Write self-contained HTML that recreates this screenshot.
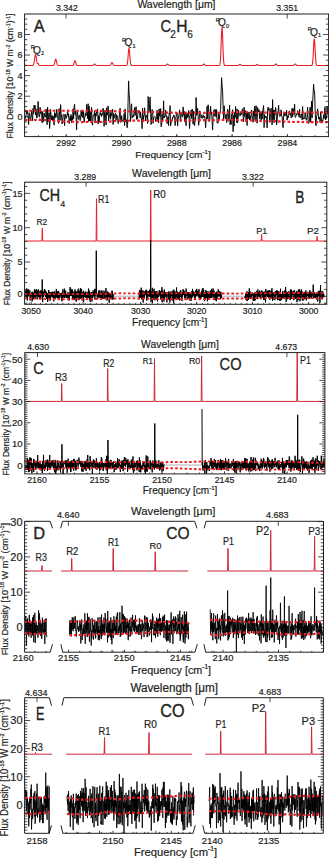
<!DOCTYPE html>
<html><head><meta charset="utf-8"><style>
html,body{margin:0;padding:0;background:#fff;width:329px;height:858px;overflow:hidden}
svg{display:block}
text{font-family:"Liberation Sans",sans-serif;stroke:#231f20;stroke-width:0.2px}
.big{stroke-width:0.35px}
</style></head><body>
<svg xmlns="http://www.w3.org/2000/svg" width="329" height="858" viewBox="0 0 329 858" font-family="Liberation Sans, sans-serif" fill="#231f20">
<rect width="329" height="858" fill="#fff"/>
<clipPath id="cA"><rect x="24.6" y="14" width="304" height="122.6"/></clipPath>
<path d="M24.60,65.50 L24.85,65.50 L25.10,65.50 L25.35,65.50 L25.60,65.50 L25.85,65.50 L26.10,65.50 L26.35,65.50 L26.60,65.50 L26.85,65.50 L27.10,65.50 L27.35,65.50 L27.60,65.50 L27.85,65.50 L28.10,65.50 L28.35,65.50 L28.60,65.50 L28.85,65.50 L29.10,65.50 L29.35,65.50 L29.60,65.50 L29.85,65.50 L30.10,65.50 L30.35,65.50 L30.60,65.50 L30.85,65.50 L31.10,65.50 L31.35,65.50 L31.60,65.50 L31.85,65.50 L32.10,65.49 L32.35,65.48 L32.60,65.44 L32.85,65.36 L33.10,65.19 L33.35,64.87 L33.60,64.32 L33.85,63.45 L34.10,62.22 L34.35,60.64 L34.60,58.83 L34.85,57.03 L35.10,55.53 L35.35,54.65 L35.60,54.57 L35.85,55.30 L36.10,56.69 L36.35,58.44 L36.60,60.24 L36.85,61.79 L37.10,62.90 L37.35,63.51 L37.60,63.69 L37.85,63.62 L38.10,63.56 L38.35,63.68 L38.60,64.03 L38.85,64.49 L39.10,64.91 L39.35,65.21 L39.60,65.38 L39.85,65.46 L40.10,65.49 L40.35,65.50 L40.60,65.50 L40.85,65.50 L41.10,65.50 L41.35,65.50 L41.60,65.50 L41.85,65.50 L42.10,65.50 L42.35,65.50 L42.60,65.50 L42.85,65.50 L43.10,65.50 L43.35,65.50 L43.60,65.50 L43.85,65.50 L44.10,65.50 L44.35,65.50 L44.60,65.50 L44.85,65.50 L45.10,65.50 L45.35,65.50 L45.60,65.50 L45.85,65.50 L46.10,65.50 L46.35,65.50 L46.60,65.50 L46.85,65.50 L47.10,65.50 L47.35,65.50 L47.60,65.50 L47.85,65.50 L48.10,65.50 L48.35,65.50 L48.60,65.50 L48.85,65.50 L49.10,65.50 L49.35,65.50 L49.60,65.50 L49.85,65.50 L50.10,65.50 L50.35,65.50 L50.60,65.50 L50.85,65.50 L51.10,65.50 L51.35,65.50 L51.60,65.50 L51.85,65.50 L52.10,65.50 L52.35,65.50 L52.60,65.50 L52.85,65.49 L53.10,65.47 L53.35,65.41 L53.60,65.29 L53.85,65.05 L54.10,64.62 L54.35,63.93 L54.60,62.97 L54.85,61.80 L55.10,60.59 L55.35,59.59 L55.60,59.05 L55.85,59.11 L56.10,59.76 L56.35,60.83 L56.60,62.05 L56.85,63.19 L57.10,64.09 L57.35,64.73 L57.60,65.11 L57.85,65.32 L58.10,65.43 L58.35,65.47 L58.60,65.49 L58.85,65.50 L59.10,65.50 L59.35,65.50 L59.60,65.50 L59.85,65.50 L60.10,65.50 L60.35,65.50 L60.60,65.50 L60.85,65.50 L61.10,65.50 L61.35,65.50 L61.60,65.50 L61.85,65.50 L62.10,65.50 L62.35,65.50 L62.60,65.50 L62.85,65.50 L63.10,65.50 L63.35,65.50 L63.60,65.50 L63.85,65.50 L64.10,65.50 L64.35,65.50 L64.60,65.50 L64.85,65.50 L65.10,65.50 L65.35,65.50 L65.60,65.50 L65.85,65.50 L66.10,65.50 L66.35,65.50 L66.60,65.50 L66.85,65.50 L67.10,65.50 L67.35,65.50 L67.60,65.50 L67.85,65.50 L68.10,65.50 L68.35,65.50 L68.60,65.50 L68.85,65.50 L69.10,65.50 L69.35,65.50 L69.60,65.50 L69.85,65.50 L70.10,65.50 L70.35,65.50 L70.60,65.50 L70.85,65.50 L71.10,65.50 L71.35,65.50 L71.60,65.50 L71.85,65.50 L72.10,65.49 L72.35,65.48 L72.60,65.45 L72.85,65.37 L73.10,65.21 L73.35,64.93 L73.60,64.46 L73.85,63.79 L74.10,62.95 L74.35,62.05 L74.60,61.26 L74.85,60.78 L75.10,60.74 L75.35,61.14 L75.60,61.88 L75.85,62.77 L76.10,63.63 L76.35,64.34 L76.60,64.85 L76.85,65.17 L77.10,65.35 L77.35,65.44 L77.60,65.48 L77.85,65.49 L78.10,65.50 L78.35,65.50 L78.60,65.50 L78.85,65.50 L79.10,65.50 L79.35,65.50 L79.60,65.50 L79.85,65.50 L80.10,65.50 L80.35,65.50 L80.60,65.50 L80.85,65.50 L81.10,65.50 L81.35,65.50 L81.60,65.50 L81.85,65.50 L82.10,65.50 L82.35,65.50 L82.60,65.50 L82.85,65.50 L83.10,65.50 L83.35,65.50 L83.60,65.50 L83.85,65.50 L84.10,65.50 L84.35,65.50 L84.60,65.50 L84.85,65.50 L85.10,65.50 L85.35,65.50 L85.60,65.50 L85.85,65.50 L86.10,65.50 L86.35,65.50 L86.60,65.50 L86.85,65.50 L87.10,65.50 L87.35,65.50 L87.60,65.50 L87.85,65.50 L88.10,65.50 L88.35,65.50 L88.60,65.50 L88.85,65.50 L89.10,65.50 L89.35,65.50 L89.60,65.50 L89.85,65.50 L90.10,65.50 L90.35,65.50 L90.60,65.50 L90.85,65.50 L91.10,65.50 L91.35,65.50 L91.60,65.50 L91.85,65.49 L92.10,65.48 L92.35,65.46 L92.60,65.41 L92.85,65.32 L93.10,65.18 L93.35,64.97 L93.60,64.70 L93.85,64.42 L94.10,64.18 L94.35,64.03 L94.60,64.01 L94.85,64.14 L95.10,64.37 L95.35,64.65 L95.60,64.92 L95.85,65.14 L96.10,65.30 L96.35,65.40 L96.60,65.45 L96.85,65.48 L97.10,65.49 L97.35,65.50 L97.60,65.50 L97.85,65.50 L98.10,65.50 L98.35,65.50 L98.60,65.50 L98.85,65.50 L99.10,65.50 L99.35,65.50 L99.60,65.50 L99.85,65.50 L100.10,65.50 L100.35,65.50 L100.60,65.50 L100.85,65.50 L101.10,65.50 L101.35,65.50 L101.60,65.50 L101.85,65.50 L102.10,65.50 L102.35,65.50 L102.60,65.50 L102.85,65.50 L103.10,65.50 L103.35,65.50 L103.60,65.50 L103.85,65.50 L104.10,65.50 L104.35,65.50 L104.60,65.50 L104.85,65.50 L105.10,65.50 L105.35,65.50 L105.60,65.50 L105.85,65.50 L106.10,65.50 L106.35,65.50 L106.60,65.50 L106.85,65.50 L107.10,65.50 L107.35,65.50 L107.60,65.50 L107.85,65.50 L108.10,65.50 L108.35,65.50 L108.60,65.50 L108.85,65.50 L109.10,65.50 L109.35,65.49 L109.60,65.47 L109.85,65.42 L110.10,65.32 L110.35,65.14 L110.60,64.85 L110.85,64.43 L111.10,63.91 L111.35,63.34 L111.60,62.85 L111.85,62.55 L112.10,62.52 L112.35,62.77 L112.60,63.24 L112.85,63.79 L113.10,64.33 L113.35,64.78 L113.60,65.09 L113.85,65.29 L114.10,65.40 L114.35,65.46 L114.60,65.48 L114.85,65.49 L115.10,65.50 L115.35,65.50 L115.60,65.50 L115.85,65.50 L116.10,65.50 L116.35,65.50 L116.60,65.50 L116.85,65.50 L117.10,65.50 L117.35,65.50 L117.60,65.50 L117.85,65.50 L118.10,65.50 L118.35,65.50 L118.60,65.50 L118.85,65.50 L119.10,65.50 L119.35,65.50 L119.60,65.50 L119.85,65.50 L120.10,65.50 L120.35,65.50 L120.60,65.50 L120.85,65.50 L121.10,65.50 L121.35,65.50 L121.60,65.50 L121.85,65.50 L122.10,65.50 L122.35,65.50 L122.60,65.50 L122.85,65.50 L123.10,65.50 L123.35,65.50 L123.60,65.50 L123.85,65.50 L124.10,65.50 L124.35,65.50 L124.60,65.50 L124.85,65.50 L125.10,65.50 L125.35,65.50 L125.60,65.50 L125.85,65.49 L126.10,65.48 L126.35,65.43 L126.60,65.31 L126.85,65.03 L127.10,64.47 L127.35,63.44 L127.60,61.76 L127.85,59.34 L128.10,56.31 L128.35,53.06 L128.60,50.23 L128.85,48.50 L129.10,48.33 L129.35,49.78 L129.60,52.44 L129.85,55.66 L130.10,58.78 L130.35,61.33 L130.60,63.16 L130.85,64.31 L131.10,64.95 L131.35,65.27 L131.60,65.41 L131.85,65.47 L132.10,65.49 L132.35,65.50 L132.60,65.50 L132.85,65.50 L133.10,65.50 L133.35,65.50 L133.60,65.50 L133.85,65.50 L134.10,65.50 L134.35,65.50 L134.60,65.50 L134.85,65.50 L135.10,65.50 L135.35,65.50 L135.60,65.50 L135.85,65.50 L136.10,65.50 L136.35,65.50 L136.60,65.50 L136.85,65.50 L137.10,65.50 L137.35,65.50 L137.60,65.50 L137.85,65.50 L138.10,65.50 L138.35,65.50 L138.60,65.50 L138.85,65.50 L139.10,65.50 L139.35,65.50 L139.60,65.50 L139.85,65.50 L140.10,65.50 L140.35,65.50 L140.60,65.50 L140.85,65.50 L141.10,65.50 L141.35,65.50 L141.60,65.50 L141.85,65.50 L142.10,65.50 L142.35,65.50 L142.60,65.50 L142.85,65.50 L143.10,65.50 L143.35,65.50 L143.60,65.50 L143.85,65.50 L144.10,65.50 L144.35,65.50 L144.60,65.50 L144.85,65.50 L145.10,65.50 L145.35,65.50 L145.60,65.50 L145.85,65.50 L146.10,65.50 L146.35,65.50 L146.60,65.50 L146.85,65.50 L147.10,65.50 L147.35,65.50 L147.60,65.50 L147.85,65.50 L148.10,65.50 L148.35,65.50 L148.60,65.50 L148.85,65.50 L149.10,65.50 L149.35,65.50 L149.60,65.50 L149.85,65.50 L150.10,65.50 L150.35,65.50 L150.60,65.50 L150.85,65.50 L151.10,65.50 L151.35,65.50 L151.60,65.50 L151.85,65.50 L152.10,65.50 L152.35,65.50 L152.60,65.50 L152.85,65.50 L153.10,65.50 L153.35,65.50 L153.60,65.50 L153.85,65.50 L154.10,65.50 L154.35,65.50 L154.60,65.50 L154.85,65.50 L155.10,65.50 L155.35,65.50 L155.60,65.50 L155.85,65.50 L156.10,65.50 L156.35,65.50 L156.60,65.50 L156.85,65.50 L157.10,65.50 L157.35,65.50 L157.60,65.50 L157.85,65.50 L158.10,65.50 L158.35,65.50 L158.60,65.50 L158.85,65.50 L159.10,65.50 L159.35,65.50 L159.60,65.50 L159.85,65.50 L160.10,65.50 L160.35,65.50 L160.60,65.50 L160.85,65.50 L161.10,65.50 L161.35,65.50 L161.60,65.50 L161.85,65.50 L162.10,65.50 L162.35,65.50 L162.60,65.50 L162.85,65.50 L163.10,65.50 L163.35,65.50 L163.60,65.50 L163.85,65.50 L164.10,65.50 L164.35,65.50 L164.60,65.50 L164.85,65.49 L165.10,65.48 L165.35,65.46 L165.60,65.41 L165.85,65.32 L166.10,65.18 L166.35,64.97 L166.60,64.70 L166.85,64.42 L167.10,64.18 L167.35,64.03 L167.60,64.01 L167.85,64.14 L168.10,64.37 L168.35,64.65 L168.60,64.92 L168.85,65.14 L169.10,65.30 L169.35,65.40 L169.60,65.45 L169.85,65.48 L170.10,65.49 L170.35,65.50 L170.60,65.50 L170.85,65.50 L171.10,65.50 L171.35,65.50 L171.60,65.50 L171.85,65.50 L172.10,65.50 L172.35,65.50 L172.60,65.50 L172.85,65.50 L173.10,65.50 L173.35,65.50 L173.60,65.50 L173.85,65.50 L174.10,65.50 L174.35,65.50 L174.60,65.50 L174.85,65.50 L175.10,65.50 L175.35,65.50 L175.60,65.50 L175.85,65.50 L176.10,65.50 L176.35,65.50 L176.60,65.50 L176.85,65.50 L177.10,65.50 L177.35,65.50 L177.60,65.50 L177.85,65.50 L178.10,65.50 L178.35,65.50 L178.60,65.50 L178.85,65.50 L179.10,65.50 L179.35,65.50 L179.60,65.50 L179.85,65.50 L180.10,65.50 L180.35,65.50 L180.60,65.50 L180.85,65.50 L181.10,65.50 L181.35,65.50 L181.60,65.50 L181.85,65.50 L182.10,65.50 L182.35,65.50 L182.60,65.50 L182.85,65.50 L183.10,65.50 L183.35,65.50 L183.60,65.50 L183.85,65.50 L184.10,65.50 L184.35,65.50 L184.60,65.50 L184.85,65.50 L185.10,65.50 L185.35,65.50 L185.60,65.50 L185.85,65.50 L186.10,65.50 L186.35,65.50 L186.60,65.50 L186.85,65.50 L187.10,65.50 L187.35,65.50 L187.60,65.50 L187.85,65.50 L188.10,65.50 L188.35,65.50 L188.60,65.50 L188.85,65.50 L189.10,65.50 L189.35,65.50 L189.60,65.50 L189.85,65.50 L190.10,65.50 L190.35,65.50 L190.60,65.50 L190.85,65.50 L191.10,65.50 L191.35,65.50 L191.60,65.50 L191.85,65.50 L192.10,65.50 L192.35,65.50 L192.60,65.50 L192.85,65.50 L193.10,65.50 L193.35,65.50 L193.60,65.50 L193.85,65.50 L194.10,65.50 L194.35,65.50 L194.60,65.50 L194.85,65.50 L195.10,65.50 L195.35,65.50 L195.60,65.50 L195.85,65.50 L196.10,65.50 L196.35,65.50 L196.60,65.50 L196.85,65.50 L197.10,65.50 L197.35,65.50 L197.60,65.50 L197.85,65.50 L198.10,65.50 L198.35,65.50 L198.60,65.50 L198.85,65.50 L199.10,65.50 L199.35,65.50 L199.60,65.50 L199.85,65.50 L200.10,65.50 L200.35,65.50 L200.60,65.50 L200.85,65.50 L201.10,65.49 L201.35,65.48 L201.60,65.45 L201.85,65.40 L202.10,65.30 L202.35,65.14 L202.60,64.92 L202.85,64.65 L203.10,64.37 L203.35,64.14 L203.60,64.01 L203.85,64.03 L204.10,64.18 L204.35,64.42 L204.60,64.70 L204.85,64.97 L205.10,65.18 L205.35,65.32 L205.60,65.41 L205.85,65.46 L206.10,65.48 L206.35,65.49 L206.60,65.50 L206.85,65.50 L207.10,65.50 L207.35,65.50 L207.60,65.50 L207.85,65.50 L208.10,65.50 L208.35,65.50 L208.60,65.50 L208.85,65.50 L209.10,65.50 L209.35,65.50 L209.60,65.50 L209.85,65.50 L210.10,65.50 L210.35,65.50 L210.60,65.50 L210.85,65.50 L211.10,65.50 L211.35,65.50 L211.60,65.50 L211.85,65.50 L212.10,65.50 L212.35,65.50 L212.60,65.50 L212.85,65.50 L213.10,65.50 L213.35,65.50 L213.60,65.50 L213.85,65.50 L214.10,65.50 L214.35,65.50 L214.60,65.50 L214.85,65.50 L215.10,65.50 L215.35,65.50 L215.60,65.50 L215.85,65.50 L216.10,65.50 L216.35,65.50 L216.60,65.50 L216.85,65.50 L217.10,65.50 L217.35,65.50 L217.60,65.50 L217.85,65.50 L218.10,65.50 L218.35,65.50 L218.60,65.50 L218.85,65.48 L219.10,65.45 L219.35,65.34 L219.60,65.08 L219.85,64.47 L220.10,63.24 L220.35,60.97 L220.60,57.28 L220.85,51.98 L221.10,45.32 L221.35,38.18 L221.60,31.97 L221.85,28.16 L222.10,27.80 L222.35,30.97 L222.60,36.82 L222.85,43.89 L223.10,50.73 L223.35,56.35 L223.60,60.36 L223.85,62.88 L224.10,64.29 L224.35,64.99 L224.60,65.31 L224.85,65.43 L225.10,65.48 L225.35,65.49 L225.60,65.50 L225.85,65.50 L226.10,65.50 L226.35,65.50 L226.60,65.50 L226.85,65.50 L227.10,65.50 L227.35,65.50 L227.60,65.50 L227.85,65.50 L228.10,65.50 L228.35,65.50 L228.60,65.50 L228.85,65.50 L229.10,65.50 L229.35,65.50 L229.60,65.50 L229.85,65.50 L230.10,65.50 L230.35,65.50 L230.60,65.50 L230.85,65.50 L231.10,65.50 L231.35,65.50 L231.60,65.50 L231.85,65.50 L232.10,65.50 L232.35,65.50 L232.60,65.50 L232.85,65.50 L233.10,65.50 L233.35,65.50 L233.60,65.50 L233.85,65.50 L234.10,65.50 L234.35,65.50 L234.60,65.50 L234.85,65.50 L235.10,65.50 L235.35,65.50 L235.60,65.50 L235.85,65.50 L236.10,65.50 L236.35,65.50 L236.60,65.50 L236.85,65.50 L237.10,65.50 L237.35,65.50 L237.60,65.49 L237.85,65.47 L238.10,65.43 L238.35,65.36 L238.60,65.24 L238.85,65.07 L239.10,64.86 L239.35,64.64 L239.60,64.44 L239.85,64.32 L240.10,64.31 L240.35,64.41 L240.60,64.59 L240.85,64.82 L241.10,65.03 L241.35,65.21 L241.60,65.34 L241.85,65.42 L242.10,65.46 L242.35,65.48 L242.60,65.49 L242.85,65.50 L243.10,65.50 L243.35,65.50 L243.60,65.50 L243.85,65.50 L244.10,65.50 L244.35,65.50 L244.60,65.50 L244.85,65.50 L245.10,65.50 L245.35,65.50 L245.60,65.50 L245.85,65.50 L246.10,65.50 L246.35,65.50 L246.60,65.50 L246.85,65.50 L247.10,65.50 L247.35,65.50 L247.60,65.50 L247.85,65.50 L248.10,65.50 L248.35,65.50 L248.60,65.50 L248.85,65.50 L249.10,65.50 L249.35,65.50 L249.60,65.50 L249.85,65.50 L250.10,65.50 L250.35,65.50 L250.60,65.50 L250.85,65.50 L251.10,65.50 L251.35,65.50 L251.60,65.50 L251.85,65.50 L252.10,65.50 L252.35,65.50 L252.60,65.50 L252.85,65.50 L253.10,65.50 L253.35,65.50 L253.60,65.50 L253.85,65.50 L254.10,65.50 L254.35,65.50 L254.60,65.49 L254.85,65.47 L255.10,65.44 L255.35,65.38 L255.60,65.28 L255.85,65.14 L256.10,64.97 L256.35,64.78 L256.60,64.62 L256.85,64.52 L257.10,64.51 L257.35,64.59 L257.60,64.75 L257.85,64.93 L258.10,65.11 L258.35,65.26 L258.60,65.36 L258.85,65.43 L259.10,65.47 L259.35,65.49 L259.60,65.49 L259.85,65.50 L260.10,65.50 L260.35,65.50 L260.60,65.50 L260.85,65.50 L261.10,65.50 L261.35,65.50 L261.60,65.50 L261.85,65.50 L262.10,65.50 L262.35,65.50 L262.60,65.50 L262.85,65.50 L263.10,65.50 L263.35,65.50 L263.60,65.50 L263.85,65.50 L264.10,65.50 L264.35,65.50 L264.60,65.50 L264.85,65.50 L265.10,65.50 L265.35,65.50 L265.60,65.50 L265.85,65.50 L266.10,65.50 L266.35,65.50 L266.60,65.50 L266.85,65.50 L267.10,65.50 L267.35,65.50 L267.60,65.50 L267.85,65.50 L268.10,65.50 L268.35,65.50 L268.60,65.50 L268.85,65.50 L269.10,65.50 L269.35,65.50 L269.60,65.50 L269.85,65.50 L270.10,65.50 L270.35,65.50 L270.60,65.50 L270.85,65.50 L271.10,65.50 L271.35,65.50 L271.60,65.50 L271.85,65.50 L272.10,65.50 L272.35,65.50 L272.60,65.50 L272.85,65.50 L273.10,65.49 L273.35,65.49 L273.60,65.47 L273.85,65.42 L274.10,65.34 L274.35,65.21 L274.60,65.01 L274.85,64.76 L275.10,64.48 L275.35,64.22 L275.60,64.05 L275.85,64.00 L276.10,64.10 L276.35,64.32 L276.60,64.59 L276.85,64.87 L277.10,65.10 L277.35,65.27 L277.60,65.38 L277.85,65.44 L278.10,65.48 L278.35,65.49 L278.60,65.50 L278.85,65.50 L279.10,65.50 L279.35,65.50 L279.60,65.50 L279.85,65.50 L280.10,65.50 L280.35,65.50 L280.60,65.50 L280.85,65.50 L281.10,65.50 L281.35,65.50 L281.60,65.50 L281.85,65.50 L282.10,65.50 L282.35,65.50 L282.60,65.50 L282.85,65.50 L283.10,65.50 L283.35,65.50 L283.60,65.50 L283.85,65.50 L284.10,65.50 L284.35,65.50 L284.60,65.50 L284.85,65.50 L285.10,65.50 L285.35,65.50 L285.60,65.50 L285.85,65.50 L286.10,65.50 L286.35,65.50 L286.60,65.50 L286.85,65.50 L287.10,65.50 L287.35,65.50 L287.60,65.50 L287.85,65.50 L288.10,65.50 L288.35,65.50 L288.60,65.50 L288.85,65.50 L289.10,65.50 L289.35,65.50 L289.60,65.50 L289.85,65.50 L290.10,65.50 L290.35,65.50 L290.60,65.50 L290.85,65.50 L291.10,65.50 L291.35,65.50 L291.60,65.50 L291.85,65.50 L292.10,65.50 L292.35,65.50 L292.60,65.49 L292.85,65.48 L293.10,65.45 L293.35,65.40 L293.60,65.30 L293.85,65.14 L294.10,64.92 L294.35,64.65 L294.60,64.37 L294.85,64.14 L295.10,64.01 L295.35,64.03 L295.60,64.18 L295.85,64.42 L296.10,64.70 L296.35,64.97 L296.60,65.18 L296.85,65.32 L297.10,65.41 L297.35,65.46 L297.60,65.48 L297.85,65.49 L298.10,65.50 L298.35,65.50 L298.60,65.50 L298.85,65.50 L299.10,65.50 L299.35,65.50 L299.60,65.50 L299.85,65.50 L300.10,65.50 L300.35,65.50 L300.60,65.50 L300.85,65.50 L301.10,65.50 L301.35,65.50 L301.60,65.50 L301.85,65.50 L302.10,65.50 L302.35,65.50 L302.60,65.50 L302.85,65.50 L303.10,65.50 L303.35,65.50 L303.60,65.50 L303.85,65.50 L304.10,65.50 L304.35,65.50 L304.60,65.50 L304.85,65.50 L305.10,65.50 L305.35,65.50 L305.60,65.50 L305.85,65.50 L306.10,65.50 L306.35,65.50 L306.60,65.50 L306.85,65.50 L307.10,65.50 L307.35,65.50 L307.60,65.50 L307.85,65.50 L308.10,65.50 L308.35,65.50 L308.60,65.50 L308.85,65.50 L309.10,65.50 L309.35,65.50 L309.60,65.50 L309.85,65.50 L310.10,65.50 L310.35,65.50 L310.60,65.50 L310.85,65.50 L311.10,65.49 L311.35,65.47 L311.60,65.41 L311.85,65.25 L312.10,64.89 L312.35,64.13 L312.60,62.70 L312.85,60.31 L313.10,56.80 L313.35,52.26 L313.60,47.22 L313.85,42.62 L314.10,39.52 L314.35,38.75 L314.60,40.52 L314.85,44.34 L315.10,49.24 L315.35,54.17 L315.60,58.34 L315.85,61.40 L316.10,63.37 L316.35,64.49 L316.60,65.07 L316.85,65.33 L317.10,65.44 L317.35,65.48 L317.60,65.49 L317.85,65.50 L318.10,65.50 L318.35,65.50 L318.60,65.50 L318.85,65.50 L319.10,65.50 L319.35,65.50 L319.60,65.50 L319.85,65.50 L320.10,65.50 L320.35,65.50 L320.60,65.50 L320.85,65.50 L321.10,65.50 L321.35,65.50 L321.60,65.50 L321.85,65.50 L322.10,65.50 L322.35,65.50 L322.60,65.50 L322.85,65.50 L323.10,65.50 L323.35,65.50 L323.60,65.50 L323.85,65.50 L324.10,65.50 L324.35,65.50 L324.60,65.50 L324.85,65.50 L325.10,65.50 L325.35,65.50 L325.60,65.50 L325.85,65.50 L326.10,65.50 L326.35,65.50 L326.60,65.50 L326.85,65.50 L327.10,65.50 L327.35,65.50 L327.60,65.50 L327.85,65.50 L328.10,65.50 L328.35,65.50 L328.60,65.50" fill="none" stroke="#ed1c24" stroke-width="1.1"/>
<path d="M25.10,116.51 L25.60,118.29 L26.10,114.86 L26.60,111.16 L27.10,113.77 L27.60,110.55 L28.10,116.86 L28.60,124.54 L29.10,113.55 L29.60,112.78 L30.10,119.44 L30.60,118.64 L31.10,117.13 L31.60,110.92 L32.10,116.32 L32.60,120.67 L33.10,108.43 L33.60,113.75 L34.10,105.09 L34.60,108.76 L35.10,105.45 L35.60,115.09 L36.10,108.90 L36.60,118.13 L37.10,117.44 L37.60,115.38 L38.10,101.40 L38.60,113.27 L39.10,116.21 L39.60,117.18 L40.10,107.32 L40.60,113.63 L41.10,110.63 L41.60,111.65 L42.10,122.87 L42.60,111.65 L43.10,116.30 L43.60,121.81 L44.10,113.00 L44.60,115.83 L45.10,117.16 L45.60,116.88 L46.10,109.15 L46.60,116.96 L47.10,124.65 L47.60,107.22 L48.10,121.66 L48.60,117.22 L49.10,112.65 L49.60,128.50 L50.10,121.07 L50.60,109.30 L51.10,116.95 L51.60,119.96 L52.10,115.37 L52.60,120.60 L53.10,116.10 L53.60,120.50 L54.10,125.13 L54.60,112.45 L55.10,117.72 L55.60,113.72 L56.10,117.26 L56.60,109.38 L57.10,113.02 L57.60,115.32 L58.10,121.89 L58.60,123.37 L59.10,108.56 L59.60,111.73 L60.10,120.38 L60.60,104.55 L61.10,113.72 L61.60,115.92 L62.10,124.04 L62.60,120.64 L63.10,114.54 L63.60,114.29 L64.10,115.00 L64.60,125.64 L65.10,113.93 L65.60,114.68 L66.10,118.62 L66.60,115.78 L67.10,115.32 L67.60,109.82 L68.10,116.43 L68.60,113.84 L69.10,123.50 L69.60,120.42 L70.10,116.36 L70.60,120.51 L71.10,114.46 L71.60,122.81 L72.10,116.47 L72.60,120.00 L73.10,108.75 L73.60,118.58 L74.10,106.37 L74.60,104.29 L75.10,114.67 L75.60,111.10 L76.10,117.48 L76.60,129.97 L77.10,111.51 L77.60,112.76 L78.10,117.73 L78.60,119.46 L79.10,115.44 L79.60,115.26 L80.10,120.71 L80.60,119.62 L81.10,110.30 L81.60,116.02 L82.10,116.71 L82.60,110.17 L83.10,118.06 L83.60,111.35 L84.10,122.33 L84.60,117.66 L85.10,117.04 L85.60,112.95 L86.10,115.79 L86.60,104.51 L87.10,109.71 L87.60,118.68 L88.10,103.73 L88.60,121.58 L89.10,106.02 L89.60,121.04 L90.10,111.43 L90.60,121.17 L91.10,117.29 L91.60,107.28 L92.10,123.99 L92.60,125.15 L93.10,116.11 L93.60,114.86 L94.10,115.54 L94.60,110.65 L95.10,123.09 L95.60,113.24 L96.10,116.19 L96.60,111.74 L97.10,112.74 L97.60,108.83 L98.10,124.04 L98.60,115.58 L99.10,122.30 L99.60,116.58 L100.10,112.33 L100.60,114.54 L101.10,113.14 L101.60,116.55 L102.10,114.25 L102.60,114.70 L103.10,108.23 L103.60,111.66 L104.10,126.42 L104.60,112.47 L105.10,110.18 L105.60,118.52 L106.10,124.94 L106.60,107.78 L107.10,115.25 L107.60,112.71 L108.10,105.93 L108.60,120.91 L109.10,116.36 L109.60,116.93 L110.10,111.99 L110.60,119.23 L111.10,113.26 L111.60,115.64 L112.10,109.85 L112.60,109.20 L113.10,124.51 L113.60,113.46 L114.10,118.25 L114.60,116.30 L115.10,113.85 L115.60,113.45 L116.10,120.28 L116.60,114.69 L117.10,115.59 L117.60,116.63 L118.10,123.56 L118.60,120.58 L119.10,118.80 L119.60,113.12 L120.10,108.21 L120.60,122.20 L121.10,122.30 L121.60,115.66 L122.10,119.75 L122.60,121.19 L123.10,121.49 L123.60,122.03 L124.10,113.77 L124.60,125.59 L125.10,109.02 L125.60,121.67 L126.10,119.46 L126.60,121.74 L127.10,127.73 L127.60,124.37 L128.10,101.15 L128.60,80.89 L129.10,93.25 L129.60,98.96 L130.10,114.71 L130.60,121.44 L131.10,106.64 L131.60,103.84 L132.10,118.06 L132.60,116.77 L133.10,115.03 L133.60,116.73 L134.10,111.34 L134.60,107.42 L135.10,115.50 L135.60,110.67 L136.10,106.64 L136.60,119.53 L137.10,116.13 L137.60,118.94 L138.10,110.56 L138.60,112.55 L139.10,110.51 L139.60,111.18 L140.10,117.67 L140.60,111.80 L141.10,118.64 L141.60,118.54 L142.10,128.65 L142.60,108.14 L143.10,121.83 L143.60,115.96 L144.10,116.42 L144.60,107.80 L145.10,113.74 L145.60,120.96 L146.10,116.01 L146.60,116.99 L147.10,114.76 L147.60,123.43 L148.10,96.50 L148.60,103.30 L149.10,112.35 L149.60,104.69 L150.10,96.99 L150.60,113.32 L151.10,124.50 L151.60,116.78 L152.10,109.46 L152.60,110.86 L153.10,123.28 L153.60,117.45 L154.10,116.79 L154.60,116.18 L155.10,116.73 L155.60,121.33 L156.10,119.82 L156.60,117.79 L157.10,110.24 L157.60,119.57 L158.10,112.39 L158.60,123.06 L159.10,108.87 L159.60,115.67 L160.10,116.46 L160.60,108.55 L161.10,126.83 L161.60,125.26 L162.10,113.72 L162.60,121.13 L163.10,118.77 L163.60,100.82 L164.10,118.00 L164.60,116.13 L165.10,117.00 L165.60,110.04 L166.10,114.88 L166.60,115.43 L167.10,123.63 L167.60,118.51 L168.10,116.47 L168.60,125.67 L169.10,113.17 L169.60,114.16 L170.10,105.60 L170.60,125.91 L171.10,122.29 L171.60,122.00 L172.10,120.51 L172.60,117.16 L173.10,117.79 L173.60,114.99 L174.10,115.28 L174.60,116.83 L175.10,125.57 L175.60,119.83 L176.10,116.15 L176.60,113.02 L177.10,112.69 L177.60,126.12 L178.10,119.54 L178.60,116.91 L179.10,114.42 L179.60,109.85 L180.10,116.10 L180.60,121.74 L181.10,114.14 L181.60,115.14 L182.10,115.17 L182.60,117.16 L183.10,106.94 L183.60,115.09 L184.10,111.37 L184.60,121.81 L185.10,111.88 L185.60,119.96 L186.10,125.65 L186.60,114.62 L187.10,112.89 L187.60,117.65 L188.10,116.49 L188.60,110.54 L189.10,119.27 L189.60,128.59 L190.10,114.95 L190.60,115.28 L191.10,110.23 L191.60,118.41 L192.10,109.02 L192.60,109.86 L193.10,124.18 L193.60,111.07 L194.10,122.99 L194.60,125.65 L195.10,118.06 L195.60,119.82 L196.10,97.50 L196.60,115.32 L197.10,112.94 L197.60,108.38 L198.10,116.75 L198.60,125.37 L199.10,122.26 L199.60,110.85 L200.10,111.37 L200.60,113.47 L201.10,118.25 L201.60,115.27 L202.10,117.79 L202.60,118.28 L203.10,114.71 L203.60,116.26 L204.10,117.74 L204.60,116.00 L205.10,119.52 L205.60,127.73 L206.10,120.05 L206.60,116.83 L207.10,106.38 L207.60,118.83 L208.10,104.82 L208.60,108.05 L209.10,121.63 L209.60,120.74 L210.10,115.60 L210.60,106.24 L211.10,114.27 L211.60,112.43 L212.10,120.32 L212.60,130.05 L213.10,117.80 L213.60,111.82 L214.10,109.48 L214.60,116.16 L215.10,115.44 L215.60,109.59 L216.10,117.20 L216.60,109.59 L217.10,123.17 L217.60,122.88 L218.10,123.01 L218.60,113.66 L219.10,119.58 L219.60,115.61 L220.10,113.27 L220.60,109.66 L221.10,93.17 L221.60,77.68 L222.10,86.13 L222.60,90.77 L223.10,107.47 L223.60,119.91 L224.10,105.71 L224.60,111.76 L225.10,117.55 L225.60,118.85 L226.10,114.24 L226.60,122.68 L227.10,117.76 L227.60,109.22 L228.10,110.92 L228.60,121.33 L229.10,119.28 L229.60,105.11 L230.10,124.59 L230.60,120.09 L231.10,124.56 L231.60,114.20 L232.10,114.73 L232.60,109.74 L233.10,131.72 L233.60,115.45 L234.10,126.03 L234.60,112.62 L235.10,117.48 L235.60,106.47 L236.10,114.20 L236.60,122.40 L237.10,108.99 L237.60,122.93 L238.10,118.52 L238.60,110.24 L239.10,113.49 L239.60,113.75 L240.10,116.20 L240.60,113.28 L241.10,111.54 L241.60,114.67 L242.10,110.34 L242.60,108.76 L243.10,116.21 L243.60,121.80 L244.10,107.32 L244.60,116.52 L245.10,112.60 L245.60,110.64 L246.10,121.62 L246.60,113.39 L247.10,125.49 L247.60,111.82 L248.10,118.82 L248.60,115.14 L249.10,111.98 L249.60,120.03 L250.10,115.57 L250.60,120.12 L251.10,116.22 L251.60,109.99 L252.10,115.89 L252.60,116.81 L253.10,122.25 L253.60,111.06 L254.10,116.26 L254.60,106.17 L255.10,120.41 L255.60,110.01 L256.10,105.66 L256.60,116.14 L257.10,123.13 L257.60,107.35 L258.10,109.97 L258.60,112.04 L259.10,109.72 L259.60,118.78 L260.10,111.66 L260.60,112.17 L261.10,120.00 L261.60,111.97 L262.10,119.10 L262.60,110.67 L263.10,109.23 L263.60,105.49 L264.10,127.67 L264.60,114.58 L265.10,117.96 L265.60,116.31 L266.10,117.46 L266.60,116.80 L267.10,127.95 L267.60,110.27 L268.10,107.16 L268.60,110.43 L269.10,108.49 L269.60,120.98 L270.10,121.42 L270.60,110.73 L271.10,108.16 L271.60,114.37 L272.10,124.85 L272.60,99.58 L273.10,119.66 L273.60,110.05 L274.10,122.74 L274.60,110.03 L275.10,114.79 L275.60,107.46 L276.10,110.64 L276.60,124.82 L277.10,121.42 L277.60,114.09 L278.10,111.28 L278.60,105.14 L279.10,114.14 L279.60,116.31 L280.10,116.00 L280.60,115.94 L281.10,109.77 L281.60,116.10 L282.10,116.27 L282.60,124.24 L283.10,127.70 L283.60,115.68 L284.10,111.90 L284.60,116.11 L285.10,112.85 L285.60,112.05 L286.10,116.15 L286.60,110.24 L287.10,120.14 L287.60,115.88 L288.10,118.00 L288.60,115.40 L289.10,112.14 L289.60,110.81 L290.10,115.08 L290.60,113.21 L291.10,117.90 L291.60,116.47 L292.10,108.33 L292.60,116.90 L293.10,108.44 L293.60,112.80 L294.10,114.73 L294.60,104.05 L295.10,117.05 L295.60,117.41 L296.10,115.55 L296.60,113.95 L297.10,114.26 L297.60,110.64 L298.10,114.88 L298.60,113.18 L299.10,117.05 L299.60,109.28 L300.10,117.91 L300.60,117.36 L301.10,115.65 L301.60,113.86 L302.10,119.81 L302.60,106.51 L303.10,119.26 L303.60,117.96 L304.10,118.20 L304.60,118.80 L305.10,112.58 L305.60,114.94 L306.10,120.32 L306.60,119.08 L307.10,117.74 L307.60,107.41 L308.10,119.73 L308.60,123.52 L309.10,122.56 L309.60,117.90 L310.10,107.15 L310.60,122.16 L311.10,115.61 L311.60,101.21 L312.10,117.92 L312.60,103.01 L313.10,94.06 L313.60,84.24 L314.10,90.98 L314.60,91.07 L315.10,108.38 L315.60,124.53 L316.10,125.69 L316.60,115.85 L317.10,115.05 L317.60,108.93 L318.10,112.33 L318.60,119.05 L319.10,118.87 L319.60,117.16 L320.10,122.47 L320.60,111.87 L321.10,116.16 L321.60,120.89 L322.10,120.00 L322.60,122.93 L323.10,118.88 L323.60,114.64 L324.10,118.67 L324.60,110.48 L325.10,106.66 L325.60,119.98 L326.10,116.17 L326.60,118.35 L327.10,106.31 L327.60,114.31 L328.10,112.90" fill="none" stroke="#000" stroke-width="0.95" clip-path="url(#cA)"/>
<path d="M24.60,110.94 L30.56,110.75 L36.52,110.75 L42.48,110.75 L48.44,110.75 L54.40,110.75 L60.36,110.75 L66.33,110.75 L72.29,110.75 L78.25,110.75 L84.21,110.75 L90.17,110.75 L96.13,110.75 L102.09,110.95 L108.05,111.06 L114.01,111.16 L119.97,111.44 L125.93,111.25 L131.89,111.23 L137.85,111.55 L143.82,112.24 L149.78,112.18 L155.74,112.16 L161.70,112.23 L167.66,112.70 L173.62,112.69 L179.58,112.85 L185.54,112.85 L191.50,112.80 L197.46,112.73 L203.42,112.85 L209.38,112.85 L215.35,112.85 L221.31,112.53 L227.27,112.64 L233.23,112.41 L239.19,111.88 L245.15,112.24 L251.11,112.42 L257.07,112.59 L263.03,112.42 L268.99,112.78 L274.95,112.70 L280.91,112.85 L286.87,112.76 L292.84,112.47 L298.80,112.54 L304.76,112.29 L310.72,112.53 L316.68,112.62 L322.64,112.30 L328.60,112.32" fill="none" stroke="#ed1c24" stroke-width="2.2" stroke-dasharray="2.6 2.1"/>
<path d="M24.60,119.95 L30.56,120.02 L36.52,119.95 L42.48,119.95 L48.44,120.06 L54.40,120.85 L60.36,121.55 L66.33,121.57 L72.29,121.65 L78.25,122.05 L84.21,122.05 L90.17,121.80 L96.13,121.84 L102.09,122.00 L108.05,121.71 L114.01,121.13 L119.97,120.63 L125.93,120.86 L131.89,120.59 L137.85,120.55 L143.82,120.62 L149.78,120.84 L155.74,120.72 L161.70,120.89 L167.66,120.58 L173.62,120.46 L179.58,120.10 L185.54,120.49 L191.50,120.48 L197.46,120.22 L203.42,120.10 L209.38,120.02 L215.35,120.27 L221.31,119.95 L227.27,119.95 L233.23,119.95 L239.19,120.10 L245.15,120.44 L251.11,120.40 L257.07,120.65 L263.03,121.37 L268.99,121.28 L274.95,121.16 L280.91,121.58 L286.87,121.75 L292.84,121.99 L298.80,121.81 L304.76,122.05 L310.72,122.05 L316.68,122.05 L322.64,122.05 L328.60,122.05" fill="none" stroke="#ed1c24" stroke-width="2.2" stroke-dasharray="2.6 2.1"/>
<rect x="24.6" y="14" width="304" height="122.6" fill="none" stroke="#231f20" stroke-width="1"/>
<line x1="24.6" y1="132.23" x2="27.3" y2="132.23" stroke="#231f20" stroke-width="0.8" />
<line x1="328.6" y1="132.23" x2="325.9" y2="132.23" stroke="#231f20" stroke-width="0.8" />
<line x1="24.6" y1="127.09" x2="27.3" y2="127.09" stroke="#231f20" stroke-width="0.8" />
<line x1="328.6" y1="127.09" x2="325.9" y2="127.09" stroke="#231f20" stroke-width="0.8" />
<line x1="24.6" y1="121.94" x2="27.3" y2="121.94" stroke="#231f20" stroke-width="0.8" />
<line x1="328.6" y1="121.94" x2="325.9" y2="121.94" stroke="#231f20" stroke-width="0.8" />
<line x1="24.6" y1="111.66" x2="27.3" y2="111.66" stroke="#231f20" stroke-width="0.8" />
<line x1="328.6" y1="111.66" x2="325.9" y2="111.66" stroke="#231f20" stroke-width="0.8" />
<line x1="24.6" y1="106.51" x2="27.3" y2="106.51" stroke="#231f20" stroke-width="0.8" />
<line x1="328.6" y1="106.51" x2="325.9" y2="106.51" stroke="#231f20" stroke-width="0.8" />
<line x1="24.6" y1="101.36" x2="27.3" y2="101.36" stroke="#231f20" stroke-width="0.8" />
<line x1="328.6" y1="101.36" x2="325.9" y2="101.36" stroke="#231f20" stroke-width="0.8" />
<line x1="24.6" y1="91.08" x2="27.3" y2="91.08" stroke="#231f20" stroke-width="0.8" />
<line x1="328.6" y1="91.08" x2="325.9" y2="91.08" stroke="#231f20" stroke-width="0.8" />
<line x1="24.6" y1="85.93" x2="27.3" y2="85.93" stroke="#231f20" stroke-width="0.8" />
<line x1="328.6" y1="85.93" x2="325.9" y2="85.93" stroke="#231f20" stroke-width="0.8" />
<line x1="24.6" y1="80.78" x2="27.3" y2="80.78" stroke="#231f20" stroke-width="0.8" />
<line x1="328.6" y1="80.78" x2="325.9" y2="80.78" stroke="#231f20" stroke-width="0.8" />
<line x1="24.6" y1="70.5" x2="27.3" y2="70.5" stroke="#231f20" stroke-width="0.8" />
<line x1="328.6" y1="70.5" x2="325.9" y2="70.5" stroke="#231f20" stroke-width="0.8" />
<line x1="24.6" y1="65.35" x2="27.3" y2="65.35" stroke="#231f20" stroke-width="0.8" />
<line x1="328.6" y1="65.35" x2="325.9" y2="65.35" stroke="#231f20" stroke-width="0.8" />
<line x1="24.6" y1="60.2" x2="27.3" y2="60.2" stroke="#231f20" stroke-width="0.8" />
<line x1="328.6" y1="60.2" x2="325.9" y2="60.2" stroke="#231f20" stroke-width="0.8" />
<line x1="24.6" y1="49.92" x2="27.3" y2="49.92" stroke="#231f20" stroke-width="0.8" />
<line x1="328.6" y1="49.92" x2="325.9" y2="49.92" stroke="#231f20" stroke-width="0.8" />
<line x1="24.6" y1="44.77" x2="27.3" y2="44.77" stroke="#231f20" stroke-width="0.8" />
<line x1="328.6" y1="44.77" x2="325.9" y2="44.77" stroke="#231f20" stroke-width="0.8" />
<line x1="24.6" y1="39.62" x2="27.3" y2="39.62" stroke="#231f20" stroke-width="0.8" />
<line x1="328.6" y1="39.62" x2="325.9" y2="39.62" stroke="#231f20" stroke-width="0.8" />
<line x1="24.6" y1="29.34" x2="27.3" y2="29.34" stroke="#231f20" stroke-width="0.8" />
<line x1="328.6" y1="29.34" x2="325.9" y2="29.34" stroke="#231f20" stroke-width="0.8" />
<line x1="24.6" y1="24.19" x2="27.3" y2="24.19" stroke="#231f20" stroke-width="0.8" />
<line x1="328.6" y1="24.19" x2="325.9" y2="24.19" stroke="#231f20" stroke-width="0.8" />
<line x1="24.6" y1="19.05" x2="27.3" y2="19.05" stroke="#231f20" stroke-width="0.8" />
<line x1="328.6" y1="19.05" x2="325.9" y2="19.05" stroke="#231f20" stroke-width="0.8" />
<line x1="24.6" y1="116.8" x2="30.1" y2="116.8" stroke="#231f20" stroke-width="0.8" />
<line x1="328.6" y1="116.8" x2="323.1" y2="116.8" stroke="#231f20" stroke-width="0.8" />
<text x="22.6" y="120.02" font-size="9" text-anchor="end" >0</text>
<line x1="24.6" y1="96.22" x2="30.1" y2="96.22" stroke="#231f20" stroke-width="0.8" />
<line x1="328.6" y1="96.22" x2="323.1" y2="96.22" stroke="#231f20" stroke-width="0.8" />
<text x="22.6" y="99.44" font-size="9" text-anchor="end" >2</text>
<line x1="24.6" y1="75.64" x2="30.1" y2="75.64" stroke="#231f20" stroke-width="0.8" />
<line x1="328.6" y1="75.64" x2="323.1" y2="75.64" stroke="#231f20" stroke-width="0.8" />
<text x="22.6" y="78.86" font-size="9" text-anchor="end" >4</text>
<line x1="24.6" y1="55.06" x2="30.1" y2="55.06" stroke="#231f20" stroke-width="0.8" />
<line x1="328.6" y1="55.06" x2="323.1" y2="55.06" stroke="#231f20" stroke-width="0.8" />
<text x="22.6" y="58.28" font-size="9" text-anchor="end" >6</text>
<line x1="24.6" y1="34.48" x2="30.1" y2="34.48" stroke="#231f20" stroke-width="0.8" />
<line x1="328.6" y1="34.48" x2="323.1" y2="34.48" stroke="#231f20" stroke-width="0.8" />
<text x="22.6" y="37.7" font-size="9" text-anchor="end" >8</text>
<line x1="38.55" y1="136.6" x2="38.55" y2="135.2" stroke="#231f20" stroke-width="0.8" />
<line x1="52.38" y1="136.6" x2="52.38" y2="135.2" stroke="#231f20" stroke-width="0.8" />
<line x1="66.2" y1="136.6" x2="66.2" y2="135.2" stroke="#231f20" stroke-width="0.8" />
<line x1="80.03" y1="136.6" x2="80.03" y2="135.2" stroke="#231f20" stroke-width="0.8" />
<line x1="93.85" y1="136.6" x2="93.85" y2="135.2" stroke="#231f20" stroke-width="0.8" />
<line x1="107.67" y1="136.6" x2="107.67" y2="135.2" stroke="#231f20" stroke-width="0.8" />
<line x1="121.5" y1="136.6" x2="121.5" y2="135.2" stroke="#231f20" stroke-width="0.8" />
<line x1="135.32" y1="136.6" x2="135.32" y2="135.2" stroke="#231f20" stroke-width="0.8" />
<line x1="149.15" y1="136.6" x2="149.15" y2="135.2" stroke="#231f20" stroke-width="0.8" />
<line x1="162.97" y1="136.6" x2="162.97" y2="135.2" stroke="#231f20" stroke-width="0.8" />
<line x1="176.8" y1="136.6" x2="176.8" y2="135.2" stroke="#231f20" stroke-width="0.8" />
<line x1="190.62" y1="136.6" x2="190.62" y2="135.2" stroke="#231f20" stroke-width="0.8" />
<line x1="204.45" y1="136.6" x2="204.45" y2="135.2" stroke="#231f20" stroke-width="0.8" />
<line x1="218.27" y1="136.6" x2="218.27" y2="135.2" stroke="#231f20" stroke-width="0.8" />
<line x1="232.1" y1="136.6" x2="232.1" y2="135.2" stroke="#231f20" stroke-width="0.8" />
<line x1="245.93" y1="136.6" x2="245.93" y2="135.2" stroke="#231f20" stroke-width="0.8" />
<line x1="259.75" y1="136.6" x2="259.75" y2="135.2" stroke="#231f20" stroke-width="0.8" />
<line x1="273.57" y1="136.6" x2="273.57" y2="135.2" stroke="#231f20" stroke-width="0.8" />
<line x1="287.4" y1="136.6" x2="287.4" y2="135.2" stroke="#231f20" stroke-width="0.8" />
<line x1="301.22" y1="136.6" x2="301.22" y2="135.2" stroke="#231f20" stroke-width="0.8" />
<line x1="315.05" y1="136.6" x2="315.05" y2="135.2" stroke="#231f20" stroke-width="0.8" />
<line x1="66.2" y1="136.6" x2="66.2" y2="134" stroke="#231f20" stroke-width="0.8" />
<line x1="121.5" y1="136.6" x2="121.5" y2="134" stroke="#231f20" stroke-width="0.8" />
<line x1="176.8" y1="136.6" x2="176.8" y2="134" stroke="#231f20" stroke-width="0.8" />
<line x1="232.1" y1="136.6" x2="232.1" y2="134" stroke="#231f20" stroke-width="0.8" />
<line x1="287.4" y1="136.6" x2="287.4" y2="134" stroke="#231f20" stroke-width="0.8" />
<text x="66.2" y="145.5" font-size="8.9" text-anchor="middle" >2992</text>
<text x="121.5" y="145.5" font-size="8.9" text-anchor="middle" >2990</text>
<text x="176.8" y="145.5" font-size="8.9" text-anchor="middle" >2988</text>
<text x="232.1" y="145.5" font-size="8.9" text-anchor="middle" >2986</text>
<text x="287.4" y="145.5" font-size="8.9" text-anchor="middle" >2984</text>
<line x1="66" y1="14" x2="66" y2="18.5" stroke="#231f20" stroke-width="0.8" />
<line x1="287.2" y1="14" x2="287.2" y2="18.5" stroke="#231f20" stroke-width="0.8" />
<text x="66.9" y="10.6" font-size="8.7" text-anchor="middle" >3.342</text>
<text x="287.2" y="10.8" font-size="8.7" text-anchor="middle" >3.351</text>
<text x="137.4" y="8.1" font-size="10.47" text-anchor="start" textLength="78.1" lengthAdjust="spacingAndGlyphs" >Wavelength [μm]</text>
<text x="135.2" y="158.1" font-size="9.78" text-anchor="start" textLength="75.6" lengthAdjust="spacingAndGlyphs" >Frequency [cm<tspan font-size="5.87" dy="-3.72">-1</tspan><tspan dy="3.72">]</tspan></text>
<text transform="translate(13,76) rotate(-90)" x="0" y="0" font-size="8.8" text-anchor="middle" textLength="125" lengthAdjust="spacingAndGlyphs">Flux Density [10<tspan font-size="5.28" dy="-3.34">-18</tspan><tspan dy="3.34"> W m</tspan><tspan font-size="5.28" dy="-3.34">-2</tspan><tspan dy="3.34"> (cm</tspan><tspan font-size="5.28" dy="-3.34">-1</tspan><tspan dy="3.34">)</tspan><tspan font-size="5.28" dy="-3.34">-1</tspan><tspan dy="3.34">]</tspan></text>
<text x="33.76" y="32.1" font-size="16.06" text-anchor="start" textLength="10.88" lengthAdjust="spacingAndGlyphs" class="big">A</text>
<text x="160.56" y="32" font-size="16.06" text-anchor="start" textLength="10.58" lengthAdjust="spacingAndGlyphs" class="big">C</text>
<text x="176.36" y="32" font-size="16.06" text-anchor="start" textLength="11.28" lengthAdjust="spacingAndGlyphs" class="big">H</text>
<text x="170.3" y="37.5" font-size="10" text-anchor="start" >2</text>
<text x="187.2" y="37.5" font-size="10" text-anchor="start" >6</text>
<text x="30.8" y="49.4" font-size="5.4" text-anchor="start" >R</text>
<text x="33.1" y="53.6" font-size="10.2" text-anchor="start" >Q</text>
<text x="41.1" y="55.2" font-size="5.6" text-anchor="start" >2</text>
<text x="122.1" y="42" font-size="5.4" text-anchor="start" >R</text>
<text x="124.4" y="46.2" font-size="10.2" text-anchor="start" >Q</text>
<text x="132.4" y="47.8" font-size="5.6" text-anchor="start" >1</text>
<text x="215.8" y="22.1" font-size="5.4" text-anchor="start" >R</text>
<text x="218.1" y="26.3" font-size="10.2" text-anchor="start" >Q</text>
<text x="226.1" y="27.9" font-size="5.6" text-anchor="start" >0</text>
<text x="307.7" y="31.3" font-size="5.4" text-anchor="start" >P</text>
<text x="310" y="35.5" font-size="10.2" text-anchor="start" >Q</text>
<text x="318" y="37.1" font-size="5.6" text-anchor="start" >1</text>
<clipPath id="cB"><rect x="24.6" y="182.2" width="302.2" height="122.1"/></clipPath>
<path d="M24.6,241 L41.9,241 L42.3,228.3 L42.7,241 L96.1,241 L96.5,198.7 L96.9,241 L150.3,241 L150.7,190 L151.1,241 L261.2,241 L261.6,234.4 L262,241 L316.7,241 L317.1,236.4 L317.5,241 L326.8,241" fill="none" stroke="#ed1c24" stroke-width="1"/>
<line x1="113.7" y1="296.2" x2="139" y2="296.2" stroke="#999" stroke-width="0.8" />
<line x1="221.5" y1="296.2" x2="244.5" y2="296.2" stroke="#999" stroke-width="0.8" />
<path d="M25.10,296.69 L25.25,294.36 L25.40,296.11 L25.55,296.81 L25.70,293.94 L25.85,290.17 L26.00,295.93 L26.15,292.82 L26.30,293.98 L26.45,293.21 L26.60,293.94 L26.75,288.43 L26.90,298.31 L27.05,295.61 L27.20,298.01 L27.35,300.44 L27.50,294.96 L27.65,289.85 L27.80,292.40 L27.95,291.52 L28.10,293.49 L28.25,295.12 L28.40,289.29 L28.55,295.86 L28.70,290.67 L28.85,295.73 L29.00,294.59 L29.15,294.02 L29.30,294.70 L29.45,293.39 L29.61,293.19 L29.76,290.19 L29.91,294.82 L30.06,300.07 L30.21,300.45 L30.36,298.60 L30.51,296.88 L30.66,293.01 L30.81,298.94 L30.96,294.74 L31.11,294.71 L31.26,294.08 L31.41,295.16 L31.56,293.68 L31.71,294.67 L31.86,291.86 L32.01,293.85 L32.16,301.29 L32.31,294.71 L32.46,294.23 L32.61,296.39 L32.76,296.88 L32.91,291.78 L33.06,294.32 L33.21,297.47 L33.36,295.66 L33.51,295.24 L33.66,299.25 L33.81,293.00 L33.96,295.13 L34.11,293.44 L34.26,299.07 L34.41,289.43 L34.56,293.02 L34.71,293.42 L34.86,296.76 L35.01,296.60 L35.16,298.81 L35.31,290.49 L35.46,297.00 L35.61,294.08 L35.76,293.04 L35.91,296.41 L36.06,292.32 L36.21,289.08 L36.36,293.86 L36.51,290.71 L36.66,293.08 L36.81,295.94 L36.96,295.77 L37.11,299.34 L37.26,294.34 L37.41,290.61 L37.56,292.78 L37.71,292.33 L37.86,291.49 L38.01,296.12 L38.16,293.09 L38.31,289.36 L38.47,296.85 L38.62,294.59 L38.77,295.90 L38.92,295.20 L39.07,296.67 L39.22,295.01 L39.37,298.36 L39.52,296.09 L39.67,296.00 L39.82,296.05 L39.97,290.82 L40.12,294.44 L40.27,294.17 L40.42,295.48 L40.57,291.10 L40.72,299.48 L40.87,295.19 L41.02,291.51 L41.17,290.12 L41.32,294.11 L41.47,294.65 L41.62,292.89 L41.77,295.16 L41.92,293.10 L42.07,296.44 L42.22,279.50 L42.37,294.79 L42.52,297.64 L42.67,302.10 L42.82,292.08 L42.97,293.60 L43.12,292.55 L43.27,297.10 L43.42,291.69 L43.57,293.54 L43.72,294.82 L43.87,292.16 L44.02,292.22 L44.17,293.57 L44.32,289.02 L44.47,290.85 L44.62,293.74 L44.77,295.32 L44.92,294.38 L45.07,289.93 L45.22,293.60 L45.37,297.14 L45.52,296.46 L45.67,294.68 L45.82,292.42 L45.97,296.67 L46.12,293.28 L46.27,291.63 L46.42,292.65 L46.57,298.96 L46.72,295.52 L46.87,298.15 L47.02,293.56 L47.17,297.53 L47.33,293.22 L47.48,294.46 L47.63,301.86 L47.78,297.05 L47.93,293.50 L48.08,294.66 L48.23,295.81 L48.38,298.29 L48.53,293.53 L48.68,290.02 L48.83,294.12 L48.98,294.94 L49.13,295.21 L49.28,298.59 L49.43,295.79 L49.58,297.18 L49.73,291.82 L49.88,297.33 L50.03,300.77 L50.18,297.06 L50.33,295.61 L50.48,295.33 L50.63,299.90 L50.78,292.30 L50.93,294.59 L51.08,296.19 L51.23,296.98 L51.38,293.68 L51.53,295.76 L51.68,294.12 L51.83,295.24 L51.98,294.53 L52.13,291.70 L52.28,294.84 L52.43,297.36 L52.58,292.19 L52.73,294.22 L52.88,296.76 L53.03,291.90 L53.18,295.41 L53.33,291.93 L53.48,298.08 L53.63,301.38 L53.78,300.56 L53.93,294.29 L54.08,296.97 L54.23,295.24 L54.38,295.19 L54.53,299.23 L54.68,291.21 L54.83,297.85 L54.98,294.76 L55.13,298.84 L55.28,295.42 L55.43,293.02 L55.58,295.68 L55.73,296.96 L55.88,295.00 L56.03,296.27 L56.19,293.44 L56.34,288.93 L56.49,297.42 L56.64,296.86 L56.79,295.31 L56.94,295.09 L57.09,297.80 L57.24,293.62 L57.39,292.92 L57.54,294.37 L57.69,298.23 L57.84,291.02 L57.99,298.24 L58.14,293.11 L58.29,291.82 L58.44,298.43 L58.59,294.63 L58.74,291.26 L58.89,293.90 L59.04,297.51 L59.19,298.24 L59.34,293.70 L59.49,296.04 L59.64,296.90 L59.79,293.10 L59.94,295.89 L60.09,294.81 L60.24,293.40 L60.39,293.52 L60.54,295.09 L60.69,294.98 L60.84,293.32 L60.99,293.71 L61.14,298.02 L61.29,295.50 L61.44,297.38 L61.59,298.27 L61.74,296.55 L61.89,301.26 L62.04,292.59 L62.19,297.16 L62.34,294.01 L62.49,300.10 L62.64,299.66 L62.79,289.43 L62.94,292.19 L63.09,296.76 L63.24,297.11 L63.39,296.96 L63.54,294.70 L63.69,296.17 L63.84,296.73 L63.99,294.68 L64.14,297.78 L64.29,288.57 L64.44,296.67 L64.59,292.00 L64.74,297.58 L64.89,294.26 L65.05,292.41 L65.20,295.95 L65.35,292.35 L65.50,292.34 L65.65,290.51 L65.80,294.83 L65.95,296.29 L66.10,297.76 L66.25,294.50 L66.40,297.83 L66.55,294.95 L66.70,294.64 L66.85,296.51 L67.00,297.86 L67.15,293.94 L67.30,294.22 L67.45,294.45 L67.60,295.13 L67.75,292.38 L67.90,297.78 L68.05,293.78 L68.20,296.19 L68.35,292.59 L68.50,295.90 L68.65,296.00 L68.80,293.72 L68.95,300.56 L69.10,295.94 L69.25,299.88 L69.40,297.59 L69.55,293.05 L69.70,293.83 L69.85,296.12 L70.00,295.07 L70.15,287.00 L70.30,294.10 L70.45,289.84 L70.60,294.27 L70.75,288.69 L70.90,295.94 L71.05,292.87 L71.20,292.90 L71.35,294.29 L71.50,295.66 L71.65,290.89 L71.80,290.00 L71.95,291.92 L72.10,289.18 L72.25,292.19 L72.40,299.35 L72.55,291.94 L72.70,296.72 L72.85,291.06 L73.00,295.74 L73.15,294.00 L73.30,294.73 L73.45,296.49 L73.60,299.82 L73.75,295.45 L73.91,295.25 L74.06,292.17 L74.21,296.53 L74.36,294.21 L74.51,297.23 L74.66,294.78 L74.81,299.77 L74.96,289.35 L75.11,294.07 L75.26,297.37 L75.41,293.92 L75.56,292.68 L75.71,294.16 L75.86,291.04 L76.01,295.23 L76.16,301.73 L76.31,298.11 L76.46,291.79 L76.61,292.45 L76.76,293.77 L76.91,297.71 L77.06,292.60 L77.21,292.97 L77.36,297.38 L77.51,297.32 L77.66,293.85 L77.81,291.77 L77.96,290.56 L78.11,292.94 L78.26,288.65 L78.41,297.00 L78.56,293.14 L78.71,296.25 L78.86,300.13 L79.01,298.18 L79.16,291.68 L79.31,297.33 L79.46,298.14 L79.61,292.81 L79.76,292.23 L79.91,294.59 L80.06,290.42 L80.21,299.02 L80.36,288.16 L80.51,291.80 L80.66,294.15 L80.81,294.26 L80.96,295.37 L81.11,295.66 L81.26,294.30 L81.41,298.08 L81.56,288.91 L81.71,294.90 L81.86,292.90 L82.01,295.27 L82.16,295.52 L82.31,292.35 L82.46,293.11 L82.61,297.12 L82.77,295.88 L82.92,293.00 L83.07,300.61 L83.22,301.37 L83.37,290.81 L83.52,295.75 L83.67,301.93 L83.82,297.09 L83.97,295.52 L84.12,294.32 L84.27,293.38 L84.42,294.30 L84.57,293.36 L84.72,296.99 L84.87,293.79 L85.02,293.66 L85.17,291.53 L85.32,294.76 L85.47,292.40 L85.62,294.39 L85.77,297.82 L85.92,295.92 L86.07,296.31 L86.22,295.90 L86.37,295.07 L86.52,294.54 L86.67,294.04 L86.82,297.03 L86.97,291.86 L87.12,298.65 L87.27,295.00 L87.42,292.80 L87.57,293.53 L87.72,293.00 L87.87,295.35 L88.02,292.89 L88.17,298.10 L88.32,292.71 L88.47,288.54 L88.62,292.85 L88.77,289.28 L88.92,294.79 L89.07,297.87 L89.22,296.71 L89.37,291.15 L89.52,292.77 L89.67,299.88 L89.82,295.79 L89.97,294.91 L90.12,297.86 L90.27,301.77 L90.42,298.53 L90.57,295.29 L90.72,295.89 L90.87,296.63 L91.02,293.18 L91.17,291.94 L91.32,295.05 L91.47,292.25 L91.63,294.73 L91.78,295.17 L91.93,301.45 L92.08,292.52 L92.23,294.56 L92.38,294.44 L92.53,296.12 L92.68,297.83 L92.83,293.53 L92.98,292.60 L93.13,290.31 L93.28,292.31 L93.43,296.40 L93.58,295.03 L93.73,292.06 L93.88,293.86 L94.03,294.99 L94.18,296.31 L94.33,293.24 L94.48,294.20 L94.63,289.81 L94.78,291.68 L94.93,299.43 L95.08,288.77 L95.23,293.95 L95.38,295.51 L95.53,293.85 L95.68,292.64 L95.83,294.73 L95.98,294.89 L96.13,294.67 L96.28,250.70 L96.43,294.49 L96.58,292.51 L96.73,293.37 L96.88,295.54 L97.03,296.69 L97.18,297.41 L97.33,293.51 L97.48,297.49 L97.63,298.19 L97.78,298.08 L97.93,298.79 L98.08,294.49 L98.23,294.41 L98.38,297.21 L98.53,291.07 L98.68,295.49 L98.83,293.41 L98.98,293.87 L99.13,290.02 L99.28,292.41 L99.43,294.84 L99.58,297.39 L99.73,297.67 L99.88,294.68 L100.03,294.37 L100.18,292.57 L100.33,296.03 L100.49,294.21 L100.64,296.60 L100.79,299.80 L100.94,294.81 L101.09,290.71 L101.24,292.49 L101.39,290.82 L101.54,291.55 L101.69,298.55 L101.84,295.53 L101.99,290.64 L102.14,296.73 L102.29,298.43 L102.44,293.89 L102.59,293.01 L102.74,293.96 L102.89,295.70 L103.04,296.69 L103.19,298.21 L103.34,298.29 L103.49,298.22 L103.64,298.71 L103.79,296.75 L103.94,290.61 L104.09,294.53 L104.24,295.78 L104.39,293.83 L104.54,297.45 L104.69,293.89 L104.84,292.31 L104.99,298.94 L105.14,296.76 L105.29,295.51 L105.44,297.49 L105.59,297.88 L105.74,295.85 L105.89,288.02 L106.04,293.01 L106.19,293.62 L106.34,292.14 L106.49,295.46 L106.64,298.24 L106.79,293.54 L106.94,291.72 L107.09,300.58 L107.24,293.64 L107.39,291.45 L107.54,295.57 L107.69,296.09 L107.84,292.93 L107.99,297.11 L108.14,293.54 L108.29,292.32 L108.44,295.40 L108.59,297.06 L108.74,293.13 L108.89,295.83 L109.04,294.64 L109.19,302.81 L109.35,292.92 L109.50,298.78 L109.65,294.75 L109.80,294.55 L109.95,296.92 L110.10,297.40 L110.25,298.45 L110.40,295.82 L110.55,293.22 L110.70,293.39 L110.85,296.33 L111.00,296.53 L111.15,298.81 L111.30,296.07 L111.45,297.87 L111.60,299.15 L111.75,295.36 L111.90,290.74 L112.05,291.60 L112.20,290.87 L112.35,299.36 L112.50,292.53 L112.65,298.35 L112.80,296.54 L112.95,299.70 L113.10,297.71 L113.25,294.61 L113.40,294.34 L113.55,295.14 L113.70,295.39" fill="none" stroke="#000" stroke-width="1.0" clip-path="url(#cB)"/>
<path d="M139.00,293.41 L139.15,294.81 L139.30,299.41 L139.45,290.13 L139.60,295.62 L139.75,292.36 L139.90,295.42 L140.05,297.25 L140.20,294.74 L140.35,297.06 L140.50,290.45 L140.65,298.00 L140.80,293.21 L140.95,296.64 L141.10,295.41 L141.25,287.66 L141.40,292.78 L141.55,295.52 L141.70,299.25 L141.85,295.70 L142.00,295.62 L142.15,290.94 L142.30,298.91 L142.45,299.96 L142.60,294.98 L142.75,294.28 L142.90,290.37 L143.05,297.37 L143.20,302.47 L143.35,296.91 L143.50,298.44 L143.65,296.42 L143.80,292.14 L143.95,298.64 L144.10,291.44 L144.25,294.31 L144.40,295.68 L144.55,297.37 L144.70,296.06 L144.85,295.98 L145.00,292.77 L145.15,291.29 L145.30,295.07 L145.45,292.91 L145.60,291.24 L145.75,291.36 L145.90,293.53 L146.05,289.71 L146.20,291.13 L146.35,290.32 L146.50,295.41 L146.65,296.04 L146.80,300.52 L146.95,290.71 L147.10,293.00 L147.25,297.46 L147.40,294.29 L147.55,293.98 L147.70,299.69 L147.85,293.95 L148.00,291.66 L148.15,291.21 L148.30,295.84 L148.45,295.75 L148.60,291.06 L148.75,292.14 L148.90,296.40 L149.05,296.52 L149.20,293.10 L149.35,296.64 L149.50,296.50 L149.65,289.91 L149.80,294.03 L149.95,296.06 L150.10,293.30 L150.25,288.91 L150.40,294.11 L150.55,297.01 L150.70,240.00 L150.85,288.77 L151.00,302.22 L151.15,291.74 L151.30,297.58 L151.45,298.36 L151.60,297.65 L151.75,295.32 L151.90,291.65 L152.05,296.65 L152.20,292.90 L152.35,287.84 L152.50,302.82 L152.65,296.88 L152.80,299.99 L152.95,292.35 L153.10,299.01 L153.25,299.35 L153.40,299.25 L153.55,294.84 L153.70,291.53 L153.85,294.40 L154.00,288.73 L154.15,290.13 L154.30,295.16 L154.45,292.12 L154.60,294.44 L154.75,294.59 L154.90,300.31 L155.05,298.53 L155.20,294.77 L155.35,298.28 L155.50,292.72 L155.65,293.96 L155.80,297.45 L155.95,291.42 L156.10,294.12 L156.25,291.20 L156.40,295.23 L156.55,299.47 L156.70,292.79 L156.85,295.53 L157.00,292.39 L157.15,291.68 L157.30,291.44 L157.45,298.97 L157.60,301.51 L157.75,296.25 L157.90,292.89 L158.05,296.87 L158.20,293.96 L158.35,297.14 L158.50,295.71 L158.65,295.68 L158.80,296.60 L158.95,293.28 L159.10,293.77 L159.25,290.08 L159.40,293.66 L159.55,290.92 L159.70,294.49 L159.85,292.22 L160.00,295.18 L160.15,296.17 L160.30,290.92 L160.45,292.62 L160.60,292.26 L160.75,296.99 L160.90,299.68 L161.05,297.28 L161.20,293.92 L161.35,299.00 L161.50,290.66 L161.65,299.10 L161.80,293.06 L161.95,287.12 L162.10,302.32 L162.25,299.32 L162.40,292.01 L162.55,295.37 L162.70,294.30 L162.85,295.19 L163.00,290.75 L163.15,292.99 L163.30,296.21 L163.45,295.52 L163.60,298.26 L163.75,295.12 L163.90,301.48 L164.05,292.90 L164.20,295.63 L164.35,289.53 L164.50,291.39 L164.65,298.62 L164.80,292.26 L164.95,296.39 L165.10,294.73 L165.25,291.98 L165.40,293.92 L165.55,293.46 L165.70,293.54 L165.85,297.01 L166.00,296.73 L166.15,293.28 L166.30,292.36 L166.45,295.69 L166.60,294.62 L166.75,297.78 L166.90,302.33 L167.05,297.26 L167.20,294.80 L167.35,294.42 L167.50,292.50 L167.65,292.36 L167.80,292.09 L167.95,293.79 L168.10,293.70 L168.25,296.98 L168.40,293.78 L168.55,294.35 L168.70,291.49 L168.85,299.50 L169.00,296.32 L169.15,299.91 L169.30,297.13 L169.45,299.07 L169.60,294.20 L169.75,296.91 L169.90,302.48 L170.05,291.47 L170.20,298.19 L170.35,299.65 L170.50,296.08 L170.65,297.04 L170.80,298.48 L170.95,293.02 L171.10,296.07 L171.25,292.41 L171.40,292.96 L171.55,293.13 L171.70,294.49 L171.85,295.32 L172.00,296.20 L172.15,290.84 L172.30,300.57 L172.45,298.21 L172.60,296.98 L172.75,293.87 L172.90,294.64 L173.05,296.47 L173.20,296.08 L173.35,290.08 L173.50,297.03 L173.65,303.27 L173.80,289.60 L173.95,297.76 L174.10,295.96 L174.25,294.58 L174.40,298.84 L174.55,291.50 L174.70,295.37 L174.85,299.11 L175.00,294.33 L175.15,293.70 L175.30,295.23 L175.45,293.62 L175.60,299.35 L175.75,292.29 L175.90,297.41 L176.05,291.30 L176.20,296.83 L176.35,294.60 L176.50,287.47 L176.65,294.88 L176.80,291.83 L176.95,293.62 L177.10,299.33 L177.25,291.68 L177.40,291.85 L177.55,299.05 L177.70,295.23 L177.85,299.34 L178.00,295.83 L178.15,292.36 L178.30,294.71 L178.45,298.44 L178.60,297.61 L178.75,294.90 L178.90,295.04 L179.05,294.58 L179.20,293.23 L179.35,300.46 L179.50,294.92 L179.65,291.64 L179.80,293.53 L179.95,296.99 L180.10,296.75 L180.25,294.51 L180.40,292.98 L180.55,294.97 L180.70,290.08 L180.85,291.15 L181.00,297.20 L181.15,293.52 L181.30,295.98 L181.45,298.41 L181.60,296.77 L181.75,294.96 L181.90,301.03 L182.05,296.82 L182.20,293.88 L182.35,297.01 L182.50,296.07 L182.65,292.44 L182.80,295.11 L182.95,294.43 L183.10,289.24 L183.25,294.40 L183.40,294.09 L183.55,293.64 L183.70,290.16 L183.85,293.88 L184.00,294.79 L184.15,295.19 L184.30,291.63 L184.45,296.72 L184.60,291.40 L184.75,294.26 L184.90,298.66 L185.05,292.91 L185.20,293.43 L185.35,297.99 L185.50,293.79 L185.65,294.05 L185.80,295.54 L185.95,297.92 L186.10,288.56 L186.25,292.52 L186.40,292.00 L186.55,291.78 L186.70,292.44 L186.85,292.49 L187.00,295.77 L187.15,292.35 L187.30,295.25 L187.45,296.05 L187.60,292.81 L187.75,295.27 L187.90,299.60 L188.05,295.82 L188.20,293.07 L188.35,294.71 L188.50,292.27 L188.65,295.68 L188.80,297.37 L188.95,292.55 L189.10,294.30 L189.25,298.08 L189.40,293.48 L189.55,295.44 L189.70,291.97 L189.85,292.56 L190.00,293.43 L190.15,300.99 L190.30,293.75 L190.45,293.42 L190.60,293.32 L190.75,294.44 L190.90,296.74 L191.05,295.43 L191.20,300.66 L191.35,295.50 L191.50,298.95 L191.65,295.67 L191.80,296.60 L191.95,290.86 L192.10,294.54 L192.25,294.71 L192.40,294.22 L192.55,288.87 L192.70,297.37 L192.85,293.82 L193.00,293.67 L193.15,294.19 L193.30,294.26 L193.45,296.04 L193.60,291.34 L193.75,292.29 L193.90,295.71 L194.05,295.31 L194.20,293.85 L194.35,293.29 L194.50,292.56 L194.65,294.74 L194.80,298.21 L194.95,291.94 L195.10,299.17 L195.25,297.26 L195.40,293.63 L195.55,297.09 L195.70,290.80 L195.85,290.05 L196.00,291.29 L196.15,293.75 L196.30,293.99 L196.45,293.46 L196.60,295.18 L196.75,288.92 L196.90,296.29 L197.05,290.93 L197.20,293.05 L197.35,293.74 L197.50,291.66 L197.65,291.06 L197.80,292.08 L197.95,294.87 L198.10,296.55 L198.25,296.48 L198.40,292.12 L198.55,292.68 L198.70,292.32 L198.85,296.16 L199.00,289.20 L199.15,298.37 L199.30,293.54 L199.45,292.71 L199.60,295.85 L199.75,297.79 L199.90,295.86 L200.05,297.85 L200.20,295.28 L200.35,298.34 L200.50,298.39 L200.65,294.62 L200.80,298.93 L200.95,295.36 L201.10,295.14 L201.25,292.32 L201.40,294.09 L201.55,297.08 L201.70,291.22 L201.85,296.72 L202.00,295.88 L202.15,295.68 L202.30,288.72 L202.45,294.61 L202.60,296.72 L202.75,292.76 L202.90,295.15 L203.05,288.24 L203.20,296.78 L203.35,293.05 L203.50,297.34 L203.65,289.74 L203.80,296.84 L203.95,294.24 L204.10,297.16 L204.25,292.31 L204.40,293.17 L204.55,301.18 L204.70,292.58 L204.85,292.92 L205.00,294.13 L205.15,292.04 L205.30,298.23 L205.45,299.73 L205.60,292.93 L205.75,290.07 L205.90,298.18 L206.05,298.00 L206.20,297.20 L206.35,298.14 L206.50,292.47 L206.65,294.43 L206.80,291.02 L206.95,290.93 L207.10,297.65 L207.25,293.02 L207.40,301.28 L207.55,295.11 L207.70,293.11 L207.85,297.13 L208.00,299.94 L208.15,296.26 L208.30,291.49 L208.45,295.94 L208.60,298.75 L208.75,293.52 L208.90,292.73 L209.05,297.75 L209.20,295.29 L209.35,291.81 L209.50,293.84 L209.65,292.78 L209.80,295.73 L209.95,295.21 L210.10,298.12 L210.25,296.89 L210.40,290.52 L210.55,296.04 L210.70,297.41 L210.85,296.18 L211.00,297.78 L211.15,293.36 L211.30,292.24 L211.45,297.50 L211.60,291.92 L211.75,288.85 L211.90,297.77 L212.05,292.87 L212.20,294.04 L212.35,290.99 L212.50,291.19 L212.65,291.66 L212.80,293.89 L212.95,295.94 L213.10,288.47 L213.25,297.01 L213.40,291.59 L213.55,291.91 L213.70,296.80 L213.85,294.69 L214.00,290.60 L214.15,300.06 L214.30,292.49 L214.45,295.59 L214.60,295.46 L214.75,298.85 L214.90,293.62 L215.05,297.72 L215.20,292.82 L215.35,298.04 L215.50,292.76 L215.65,293.89 L215.80,300.21 L215.95,295.79 L216.10,295.21 L216.25,301.18 L216.40,295.91 L216.55,292.61 L216.70,296.96 L216.85,291.59 L217.00,298.06 L217.15,298.28 L217.30,293.30 L217.45,293.14 L217.60,295.39 L217.75,294.94 L217.90,292.16 L218.05,296.49 L218.20,289.18 L218.35,293.69 L218.50,293.77 L218.65,294.13 L218.80,295.76 L218.95,291.46 L219.10,296.55 L219.25,294.40 L219.40,293.08 L219.55,291.07 L219.70,291.59 L219.85,295.91 L220.00,292.20 L220.15,295.08 L220.30,297.87 L220.45,297.79 L220.60,299.27 L220.75,294.07 L220.90,291.86 L221.05,297.76 L221.20,295.77 L221.35,298.05 L221.50,294.93" fill="none" stroke="#000" stroke-width="1.0" clip-path="url(#cB)"/>
<path d="M244.50,298.25 L244.65,297.27 L244.80,296.91 L244.95,296.31 L245.10,296.01 L245.25,295.55 L245.40,295.53 L245.55,297.67 L245.70,293.47 L245.85,299.76 L246.00,294.60 L246.15,297.66 L246.30,294.65 L246.45,294.21 L246.60,300.59 L246.75,294.03 L246.90,291.32 L247.05,292.90 L247.20,294.01 L247.35,300.93 L247.50,295.48 L247.65,297.52 L247.80,292.10 L247.95,295.89 L248.10,296.78 L248.25,299.94 L248.40,292.95 L248.55,296.59 L248.70,295.75 L248.85,292.04 L249.00,294.85 L249.15,294.16 L249.30,288.39 L249.45,296.58 L249.60,296.41 L249.75,293.67 L249.90,291.15 L250.05,299.04 L250.20,295.64 L250.35,297.75 L250.50,298.85 L250.65,293.44 L250.80,297.17 L250.95,294.22 L251.10,294.72 L251.25,294.66 L251.40,294.90 L251.55,298.02 L251.70,295.25 L251.85,294.47 L252.00,294.13 L252.15,295.86 L252.30,292.39 L252.45,293.49 L252.60,294.75 L252.75,293.32 L252.90,294.57 L253.05,293.19 L253.20,300.51 L253.35,298.62 L253.50,296.16 L253.65,294.75 L253.80,301.03 L253.95,295.80 L254.10,294.66 L254.25,295.75 L254.40,295.76 L254.55,298.85 L254.70,294.85 L254.85,300.78 L255.00,292.43 L255.15,296.84 L255.30,292.09 L255.45,299.99 L255.60,293.97 L255.75,294.74 L255.90,297.49 L256.05,298.41 L256.20,291.79 L256.35,293.93 L256.50,290.99 L256.65,295.28 L256.80,294.62 L256.95,293.92 L257.10,292.98 L257.25,293.82 L257.40,292.81 L257.55,296.38 L257.70,299.14 L257.85,289.49 L258.00,294.58 L258.15,293.73 L258.30,296.28 L258.45,292.24 L258.60,294.49 L258.75,291.99 L258.90,296.85 L259.05,295.18 L259.20,294.45 L259.35,295.94 L259.50,294.21 L259.65,290.55 L259.80,296.57 L259.95,295.71 L260.10,294.47 L260.25,297.66 L260.40,298.31 L260.55,291.84 L260.70,292.71 L260.85,299.23 L261.00,298.87 L261.15,292.83 L261.30,291.59 L261.45,293.11 L261.60,293.51 L261.75,290.46 L261.90,294.99 L262.05,291.32 L262.20,291.51 L262.35,297.47 L262.50,292.99 L262.65,294.70 L262.80,296.66 L262.95,297.18 L263.10,293.96 L263.25,295.02 L263.40,292.59 L263.55,299.79 L263.70,296.72 L263.85,291.81 L264.00,294.91 L264.15,296.90 L264.30,296.24 L264.45,300.02 L264.60,298.74 L264.75,293.39 L264.90,294.65 L265.05,291.31 L265.20,295.60 L265.35,295.32 L265.50,302.47 L265.65,295.17 L265.80,289.04 L265.95,293.02 L266.10,295.21 L266.25,291.38 L266.40,292.47 L266.55,293.88 L266.70,295.86 L266.85,294.44 L267.00,292.41 L267.15,297.11 L267.30,293.39 L267.45,293.50 L267.60,291.04 L267.75,292.70 L267.90,296.72 L268.05,290.37 L268.20,294.70 L268.35,296.91 L268.50,293.84 L268.65,295.57 L268.80,291.77 L268.95,298.57 L269.10,297.98 L269.25,295.56 L269.40,289.99 L269.55,291.97 L269.70,297.63 L269.85,299.70 L270.00,295.73 L270.15,298.39 L270.30,293.20 L270.45,294.37 L270.60,294.90 L270.75,296.08 L270.90,290.62 L271.05,297.53 L271.20,298.60 L271.35,291.68 L271.50,291.11 L271.65,295.88 L271.80,293.07 L271.95,288.26 L272.10,297.16 L272.25,295.34 L272.40,293.57 L272.55,300.82 L272.70,295.29 L272.85,292.79 L273.00,295.18 L273.15,291.99 L273.30,292.77 L273.45,295.98 L273.60,293.35 L273.75,293.64 L273.90,299.57 L274.05,297.31 L274.20,297.15 L274.35,296.38 L274.50,296.26 L274.65,298.98 L274.80,294.85 L274.95,300.10 L275.10,292.24 L275.25,294.19 L275.40,291.04 L275.55,293.94 L275.70,296.35 L275.85,298.96 L276.00,293.04 L276.15,294.91 L276.30,293.89 L276.45,292.83 L276.60,291.57 L276.75,295.07 L276.90,290.05 L277.05,295.21 L277.20,294.96 L277.35,293.06 L277.50,292.07 L277.65,291.02 L277.80,300.14 L277.95,291.14 L278.10,299.26 L278.25,296.58 L278.40,293.88 L278.55,291.66 L278.70,297.82 L278.85,299.74 L279.00,292.28 L279.15,294.06 L279.30,297.84 L279.45,295.84 L279.60,300.50 L279.75,293.30 L279.90,296.42 L280.05,291.40 L280.20,300.77 L280.35,292.86 L280.50,288.72 L280.65,294.55 L280.80,294.51 L280.95,300.26 L281.10,293.95 L281.25,294.86 L281.40,296.56 L281.55,299.34 L281.70,294.72 L281.85,297.81 L282.00,296.35 L282.15,294.07 L282.30,295.12 L282.45,294.98 L282.60,292.34 L282.75,298.30 L282.90,291.02 L283.05,298.18 L283.20,297.57 L283.35,294.64 L283.50,292.76 L283.65,294.27 L283.80,296.22 L283.95,296.98 L284.10,295.70 L284.25,297.68 L284.40,293.34 L284.55,295.56 L284.70,290.51 L284.85,297.04 L285.00,295.33 L285.15,293.74 L285.30,298.15 L285.45,296.84 L285.60,287.01 L285.75,295.01 L285.90,290.83 L286.05,297.89 L286.20,301.87 L286.35,293.45 L286.50,295.11 L286.65,294.20 L286.80,295.88 L286.95,296.70 L287.10,298.50 L287.25,292.14 L287.40,299.30 L287.55,292.29 L287.70,295.68 L287.85,298.14 L288.00,296.90 L288.15,292.27 L288.30,292.93 L288.45,293.61 L288.60,294.76 L288.75,298.11 L288.90,291.28 L289.05,296.21 L289.20,296.61 L289.35,296.46 L289.50,296.21 L289.65,299.15 L289.80,296.27 L289.95,297.30 L290.10,296.48 L290.25,299.92 L290.40,289.58 L290.55,298.49 L290.70,294.17 L290.85,294.11 L291.00,292.19 L291.15,289.67 L291.30,293.83 L291.45,292.98 L291.60,296.28 L291.75,290.78 L291.90,298.91 L292.05,295.66 L292.20,294.21 L292.35,292.91 L292.50,292.70 L292.65,291.74 L292.80,293.38 L292.95,294.92 L293.10,294.40 L293.25,290.94 L293.40,294.16 L293.55,292.40 L293.70,295.35 L293.85,300.12 L294.00,296.65 L294.15,294.02 L294.30,290.35 L294.45,290.94 L294.60,290.18 L294.75,296.93 L294.90,292.76 L295.05,295.08 L295.20,293.16 L295.35,295.16 L295.50,298.82 L295.65,292.98 L295.80,293.95 L295.95,292.64 L296.10,297.35 L296.25,292.03 L296.40,291.73 L296.55,291.01 L296.70,290.96 L296.85,296.22 L297.00,302.09 L297.15,292.11 L297.30,297.56 L297.45,295.60 L297.60,291.81 L297.75,294.13 L297.90,294.25 L298.05,292.97 L298.20,300.31 L298.35,289.56 L298.50,295.97 L298.65,295.83 L298.80,293.28 L298.95,295.32 L299.10,297.36 L299.25,295.33 L299.40,296.07 L299.55,296.84 L299.70,289.21 L299.85,299.04 L300.00,301.28 L300.15,297.65 L300.30,297.74 L300.45,290.96 L300.60,294.57 L300.75,292.63 L300.90,293.26 L301.05,297.61 L301.20,292.65 L301.35,294.54 L301.50,289.56 L301.65,294.46 L301.80,295.15 L301.95,292.93 L302.10,292.88 L302.25,300.18 L302.40,291.51 L302.55,291.96 L302.70,292.63 L302.85,298.26 L303.00,300.78 L303.15,295.83 L303.30,292.89 L303.45,293.70 L303.60,297.88 L303.75,292.35 L303.90,298.97 L304.05,298.87 L304.20,295.10 L304.35,296.71 L304.50,297.00 L304.65,299.25 L304.80,291.96 L304.95,298.21 L305.10,293.85 L305.25,292.75 L305.40,295.19 L305.55,294.30 L305.70,292.14 L305.85,290.43 L306.00,292.26 L306.15,298.97 L306.30,300.40 L306.45,296.72 L306.60,298.22 L306.75,293.45 L306.90,294.68 L307.05,295.69 L307.20,291.87 L307.35,292.13 L307.50,295.17 L307.65,294.00 L307.80,291.92 L307.95,295.98 L308.10,294.16 L308.25,297.76 L308.40,294.89 L308.55,294.06 L308.70,295.26 L308.85,294.42 L309.00,293.03 L309.15,293.77 L309.30,297.00 L309.45,296.71 L309.60,298.50 L309.75,290.16 L309.90,293.80 L310.05,293.74 L310.20,295.38 L310.35,293.63 L310.50,293.46 L310.65,297.09 L310.80,295.40 L310.95,291.63 L311.10,298.64 L311.25,297.69 L311.40,293.29 L311.55,297.23 L311.70,292.84 L311.85,298.05 L312.00,294.29 L312.15,292.65 L312.30,293.86 L312.45,292.76 L312.60,295.44 L312.75,295.39 L312.90,295.00 L313.05,293.34 L313.20,284.65 L313.35,295.16 L313.50,289.59 L313.65,295.58 L313.80,298.07 L313.95,295.67 L314.10,293.81 L314.25,294.40 L314.40,294.53 L314.55,293.36 L314.70,293.27 L314.85,292.31 L315.00,298.23 L315.15,294.86 L315.30,297.58 L315.45,294.20 L315.60,295.10 L315.75,294.42 L315.90,296.20 L316.05,297.21 L316.20,295.57 L316.35,293.01 L316.50,292.72 L316.65,299.55 L316.80,294.12 L316.95,294.08 L317.10,299.00 L317.25,297.95 L317.40,296.39 L317.55,293.78 L317.70,301.49 L317.85,296.00 L318.00,296.43 L318.15,294.42 L318.30,290.94 L318.45,291.16 L318.60,296.04 L318.75,296.00 L318.90,294.23 L319.05,291.62 L319.20,290.86 L319.35,293.98 L319.50,290.82 L319.65,297.42 L319.80,298.13 L319.95,302.82 L320.10,297.36 L320.25,293.24 L320.40,292.46 L320.55,285.24 L320.70,293.23 L320.85,294.40 L321.00,297.61 L321.15,296.61 L321.30,296.55 L321.45,295.50 L321.60,296.75 L321.75,298.95 L321.90,291.92 L322.05,293.62 L322.20,291.01 L322.35,299.43 L322.50,298.53 L322.65,297.01 L322.80,291.54 L322.95,295.38 L323.10,294.24 L323.25,295.13 L323.40,294.37 L323.55,296.36 L323.70,293.79 L323.85,297.29 L324.00,295.58" fill="none" stroke="#000" stroke-width="1.0" clip-path="url(#cB)"/>
<path d="M24.60,294.10 L30.59,294.10 L36.58,294.10 L42.56,294.10 L48.55,294.10 L54.54,294.10 L60.53,294.10 L66.52,294.09 L72.50,294.10 L78.49,294.06 L84.48,294.10 L90.47,294.10 L96.46,293.95 L102.44,293.76 L108.43,293.66 L114.42,293.49 L120.41,293.26 L126.40,293.40 L132.38,293.36 L138.37,293.43 L144.36,293.35 L150.35,293.41 L156.34,293.26 L162.32,293.25 L168.31,293.37 L174.30,293.38 L180.29,293.29 L186.28,293.07 L192.26,293.10 L198.25,293.17 L204.24,293.12 L210.23,292.97 L216.22,293.07 L222.20,293.57 L228.19,293.51 L234.18,293.58 L240.17,293.65 L246.16,293.14 L252.14,293.16 L258.13,293.02 L264.12,293.30 L270.11,293.25 L276.10,293.09 L282.08,293.05 L288.07,293.08 L294.06,292.97 L300.05,292.96 L306.04,292.90 L312.02,292.90 L318.01,292.90 L324.00,293.19" fill="none" stroke="#ed1c24" stroke-width="1.9" stroke-dasharray="2.6 2.1"/>
<path d="M24.60,298.37 L30.59,298.43 L36.58,298.66 L42.56,298.87 L48.55,299.20 L54.54,299.30 L60.53,299.30 L66.52,299.30 L72.50,299.30 L78.49,299.30 L84.48,299.30 L90.47,299.30 L96.46,299.00 L102.44,298.87 L108.43,298.47 L114.42,298.48 L120.41,298.48 L126.40,298.14 L132.38,298.28 L138.37,298.46 L144.36,298.47 L150.35,298.81 L156.34,299.18 L162.32,298.94 L168.31,299.15 L174.30,299.24 L180.29,299.30 L186.28,299.30 L192.26,299.30 L198.25,299.25 L204.24,299.08 L210.23,298.93 L216.22,298.91 L222.20,298.62 L228.19,298.41 L234.18,298.53 L240.17,298.51 L246.16,298.59 L252.14,298.21 L258.13,298.10 L264.12,298.10 L270.11,298.10 L276.10,298.10 L282.08,298.10 L288.07,298.10 L294.06,298.10 L300.05,298.10 L306.04,298.15 L312.02,298.10 L318.01,298.28 L324.00,298.38" fill="none" stroke="#ed1c24" stroke-width="1.9" stroke-dasharray="2.6 2.1"/>
<rect x="24.6" y="182.2" width="302.2" height="122.1" fill="none" stroke="#231f20" stroke-width="1"/>
<line x1="24.6" y1="303.16" x2="27.3" y2="303.16" stroke="#231f20" stroke-width="0.8" />
<line x1="326.8" y1="303.16" x2="324.1" y2="303.16" stroke="#231f20" stroke-width="0.8" />
<line x1="24.6" y1="289.44" x2="27.3" y2="289.44" stroke="#231f20" stroke-width="0.8" />
<line x1="326.8" y1="289.44" x2="324.1" y2="289.44" stroke="#231f20" stroke-width="0.8" />
<line x1="24.6" y1="282.58" x2="27.3" y2="282.58" stroke="#231f20" stroke-width="0.8" />
<line x1="326.8" y1="282.58" x2="324.1" y2="282.58" stroke="#231f20" stroke-width="0.8" />
<line x1="24.6" y1="275.72" x2="27.3" y2="275.72" stroke="#231f20" stroke-width="0.8" />
<line x1="326.8" y1="275.72" x2="324.1" y2="275.72" stroke="#231f20" stroke-width="0.8" />
<line x1="24.6" y1="268.86" x2="27.3" y2="268.86" stroke="#231f20" stroke-width="0.8" />
<line x1="326.8" y1="268.86" x2="324.1" y2="268.86" stroke="#231f20" stroke-width="0.8" />
<line x1="24.6" y1="255.14" x2="27.3" y2="255.14" stroke="#231f20" stroke-width="0.8" />
<line x1="326.8" y1="255.14" x2="324.1" y2="255.14" stroke="#231f20" stroke-width="0.8" />
<line x1="24.6" y1="248.28" x2="27.3" y2="248.28" stroke="#231f20" stroke-width="0.8" />
<line x1="326.8" y1="248.28" x2="324.1" y2="248.28" stroke="#231f20" stroke-width="0.8" />
<line x1="24.6" y1="241.42" x2="27.3" y2="241.42" stroke="#231f20" stroke-width="0.8" />
<line x1="326.8" y1="241.42" x2="324.1" y2="241.42" stroke="#231f20" stroke-width="0.8" />
<line x1="24.6" y1="234.56" x2="27.3" y2="234.56" stroke="#231f20" stroke-width="0.8" />
<line x1="326.8" y1="234.56" x2="324.1" y2="234.56" stroke="#231f20" stroke-width="0.8" />
<line x1="24.6" y1="220.84" x2="27.3" y2="220.84" stroke="#231f20" stroke-width="0.8" />
<line x1="326.8" y1="220.84" x2="324.1" y2="220.84" stroke="#231f20" stroke-width="0.8" />
<line x1="24.6" y1="213.98" x2="27.3" y2="213.98" stroke="#231f20" stroke-width="0.8" />
<line x1="326.8" y1="213.98" x2="324.1" y2="213.98" stroke="#231f20" stroke-width="0.8" />
<line x1="24.6" y1="207.12" x2="27.3" y2="207.12" stroke="#231f20" stroke-width="0.8" />
<line x1="326.8" y1="207.12" x2="324.1" y2="207.12" stroke="#231f20" stroke-width="0.8" />
<line x1="24.6" y1="200.26" x2="27.3" y2="200.26" stroke="#231f20" stroke-width="0.8" />
<line x1="326.8" y1="200.26" x2="324.1" y2="200.26" stroke="#231f20" stroke-width="0.8" />
<line x1="24.6" y1="186.54" x2="27.3" y2="186.54" stroke="#231f20" stroke-width="0.8" />
<line x1="326.8" y1="186.54" x2="324.1" y2="186.54" stroke="#231f20" stroke-width="0.8" />
<line x1="24.6" y1="296.3" x2="30.1" y2="296.3" stroke="#231f20" stroke-width="0.8" />
<line x1="326.8" y1="296.3" x2="321.3" y2="296.3" stroke="#231f20" stroke-width="0.8" />
<text x="22.6" y="297.12" font-size="9" text-anchor="end" >0</text>
<line x1="24.6" y1="262" x2="30.1" y2="262" stroke="#231f20" stroke-width="0.8" />
<line x1="326.8" y1="262" x2="321.3" y2="262" stroke="#231f20" stroke-width="0.8" />
<text x="22.6" y="265.22" font-size="9" text-anchor="end" >5</text>
<line x1="24.6" y1="227.7" x2="30.1" y2="227.7" stroke="#231f20" stroke-width="0.8" />
<line x1="326.8" y1="227.7" x2="321.3" y2="227.7" stroke="#231f20" stroke-width="0.8" />
<text x="22.6" y="230.92" font-size="9" text-anchor="end" >10</text>
<line x1="24.6" y1="193.4" x2="30.1" y2="193.4" stroke="#231f20" stroke-width="0.8" />
<line x1="326.8" y1="193.4" x2="321.3" y2="193.4" stroke="#231f20" stroke-width="0.8" />
<text x="22.6" y="196.62" font-size="9" text-anchor="end" >15</text>
<line x1="29.41" y1="304.3" x2="29.41" y2="302.9" stroke="#231f20" stroke-width="0.8" />
<line x1="34.99" y1="304.3" x2="34.99" y2="302.9" stroke="#231f20" stroke-width="0.8" />
<line x1="40.56" y1="304.3" x2="40.56" y2="302.9" stroke="#231f20" stroke-width="0.8" />
<line x1="46.14" y1="304.3" x2="46.14" y2="302.9" stroke="#231f20" stroke-width="0.8" />
<line x1="51.71" y1="304.3" x2="51.71" y2="302.9" stroke="#231f20" stroke-width="0.8" />
<line x1="57.29" y1="304.3" x2="57.29" y2="302.9" stroke="#231f20" stroke-width="0.8" />
<line x1="62.87" y1="304.3" x2="62.87" y2="302.9" stroke="#231f20" stroke-width="0.8" />
<line x1="68.44" y1="304.3" x2="68.44" y2="302.9" stroke="#231f20" stroke-width="0.8" />
<line x1="74.02" y1="304.3" x2="74.02" y2="302.9" stroke="#231f20" stroke-width="0.8" />
<line x1="79.6" y1="304.3" x2="79.6" y2="302.9" stroke="#231f20" stroke-width="0.8" />
<line x1="85.17" y1="304.3" x2="85.17" y2="302.9" stroke="#231f20" stroke-width="0.8" />
<line x1="90.75" y1="304.3" x2="90.75" y2="302.9" stroke="#231f20" stroke-width="0.8" />
<line x1="96.32" y1="304.3" x2="96.32" y2="302.9" stroke="#231f20" stroke-width="0.8" />
<line x1="101.9" y1="304.3" x2="101.9" y2="302.9" stroke="#231f20" stroke-width="0.8" />
<line x1="107.48" y1="304.3" x2="107.48" y2="302.9" stroke="#231f20" stroke-width="0.8" />
<line x1="113.05" y1="304.3" x2="113.05" y2="302.9" stroke="#231f20" stroke-width="0.8" />
<line x1="118.63" y1="304.3" x2="118.63" y2="302.9" stroke="#231f20" stroke-width="0.8" />
<line x1="124.21" y1="304.3" x2="124.21" y2="302.9" stroke="#231f20" stroke-width="0.8" />
<line x1="129.78" y1="304.3" x2="129.78" y2="302.9" stroke="#231f20" stroke-width="0.8" />
<line x1="135.36" y1="304.3" x2="135.36" y2="302.9" stroke="#231f20" stroke-width="0.8" />
<line x1="140.94" y1="304.3" x2="140.94" y2="302.9" stroke="#231f20" stroke-width="0.8" />
<line x1="146.51" y1="304.3" x2="146.51" y2="302.9" stroke="#231f20" stroke-width="0.8" />
<line x1="152.09" y1="304.3" x2="152.09" y2="302.9" stroke="#231f20" stroke-width="0.8" />
<line x1="157.66" y1="304.3" x2="157.66" y2="302.9" stroke="#231f20" stroke-width="0.8" />
<line x1="163.24" y1="304.3" x2="163.24" y2="302.9" stroke="#231f20" stroke-width="0.8" />
<line x1="168.82" y1="304.3" x2="168.82" y2="302.9" stroke="#231f20" stroke-width="0.8" />
<line x1="174.39" y1="304.3" x2="174.39" y2="302.9" stroke="#231f20" stroke-width="0.8" />
<line x1="179.97" y1="304.3" x2="179.97" y2="302.9" stroke="#231f20" stroke-width="0.8" />
<line x1="185.55" y1="304.3" x2="185.55" y2="302.9" stroke="#231f20" stroke-width="0.8" />
<line x1="191.12" y1="304.3" x2="191.12" y2="302.9" stroke="#231f20" stroke-width="0.8" />
<line x1="196.7" y1="304.3" x2="196.7" y2="302.9" stroke="#231f20" stroke-width="0.8" />
<line x1="202.27" y1="304.3" x2="202.27" y2="302.9" stroke="#231f20" stroke-width="0.8" />
<line x1="207.85" y1="304.3" x2="207.85" y2="302.9" stroke="#231f20" stroke-width="0.8" />
<line x1="213.43" y1="304.3" x2="213.43" y2="302.9" stroke="#231f20" stroke-width="0.8" />
<line x1="219" y1="304.3" x2="219" y2="302.9" stroke="#231f20" stroke-width="0.8" />
<line x1="224.58" y1="304.3" x2="224.58" y2="302.9" stroke="#231f20" stroke-width="0.8" />
<line x1="230.16" y1="304.3" x2="230.16" y2="302.9" stroke="#231f20" stroke-width="0.8" />
<line x1="235.73" y1="304.3" x2="235.73" y2="302.9" stroke="#231f20" stroke-width="0.8" />
<line x1="241.31" y1="304.3" x2="241.31" y2="302.9" stroke="#231f20" stroke-width="0.8" />
<line x1="246.88" y1="304.3" x2="246.88" y2="302.9" stroke="#231f20" stroke-width="0.8" />
<line x1="252.46" y1="304.3" x2="252.46" y2="302.9" stroke="#231f20" stroke-width="0.8" />
<line x1="258.04" y1="304.3" x2="258.04" y2="302.9" stroke="#231f20" stroke-width="0.8" />
<line x1="263.61" y1="304.3" x2="263.61" y2="302.9" stroke="#231f20" stroke-width="0.8" />
<line x1="269.19" y1="304.3" x2="269.19" y2="302.9" stroke="#231f20" stroke-width="0.8" />
<line x1="274.77" y1="304.3" x2="274.77" y2="302.9" stroke="#231f20" stroke-width="0.8" />
<line x1="280.34" y1="304.3" x2="280.34" y2="302.9" stroke="#231f20" stroke-width="0.8" />
<line x1="285.92" y1="304.3" x2="285.92" y2="302.9" stroke="#231f20" stroke-width="0.8" />
<line x1="291.49" y1="304.3" x2="291.49" y2="302.9" stroke="#231f20" stroke-width="0.8" />
<line x1="297.07" y1="304.3" x2="297.07" y2="302.9" stroke="#231f20" stroke-width="0.8" />
<line x1="302.65" y1="304.3" x2="302.65" y2="302.9" stroke="#231f20" stroke-width="0.8" />
<line x1="308.22" y1="304.3" x2="308.22" y2="302.9" stroke="#231f20" stroke-width="0.8" />
<line x1="313.8" y1="304.3" x2="313.8" y2="302.9" stroke="#231f20" stroke-width="0.8" />
<line x1="319.38" y1="304.3" x2="319.38" y2="302.9" stroke="#231f20" stroke-width="0.8" />
<line x1="324.95" y1="304.3" x2="324.95" y2="302.9" stroke="#231f20" stroke-width="0.8" />
<line x1="31.2" y1="304.3" x2="31.2" y2="301.7" stroke="#231f20" stroke-width="0.8" />
<line x1="83.1" y1="304.3" x2="83.1" y2="301.7" stroke="#231f20" stroke-width="0.8" />
<line x1="140.7" y1="304.3" x2="140.7" y2="301.7" stroke="#231f20" stroke-width="0.8" />
<line x1="196.7" y1="304.3" x2="196.7" y2="301.7" stroke="#231f20" stroke-width="0.8" />
<line x1="252.5" y1="304.3" x2="252.5" y2="301.7" stroke="#231f20" stroke-width="0.8" />
<line x1="308.7" y1="304.3" x2="308.7" y2="301.7" stroke="#231f20" stroke-width="0.8" />
<text x="31.2" y="313.5" font-size="8.7" text-anchor="middle" >3050</text>
<text x="83.1" y="313.5" font-size="8.7" text-anchor="middle" >3040</text>
<text x="140.7" y="313.5" font-size="8.7" text-anchor="middle" >3030</text>
<text x="196.7" y="313.5" font-size="8.7" text-anchor="middle" >3020</text>
<text x="252.5" y="313.5" font-size="8.7" text-anchor="middle" >3010</text>
<text x="308.7" y="313.5" font-size="8.7" text-anchor="middle" >3000</text>
<line x1="86" y1="182.2" x2="86" y2="186.7" stroke="#231f20" stroke-width="0.8" />
<line x1="253.2" y1="182.2" x2="253.2" y2="186.7" stroke="#231f20" stroke-width="0.8" />
<text x="85.2" y="179.7" font-size="8.7" text-anchor="middle" >3.289</text>
<text x="252.9" y="179.7" font-size="8.7" text-anchor="middle" >3.322</text>
<text x="132.1" y="176.8" font-size="10.89" text-anchor="start" textLength="78.9" lengthAdjust="spacingAndGlyphs" >Wavelength [μm]</text>
<text x="132.1" y="326.1" font-size="10.47" text-anchor="start" textLength="75.2" lengthAdjust="spacingAndGlyphs" >Frequency [cm<tspan font-size="6.28" dy="-3.98">-1</tspan><tspan dy="3.98">]</tspan></text>
<text transform="translate(9.7,243.3) rotate(-90)" x="0" y="0" font-size="8.8" text-anchor="middle" textLength="123.8" lengthAdjust="spacingAndGlyphs">Flux Density [10<tspan font-size="5.28" dy="-3.34">-18</tspan><tspan dy="3.34"> W m</tspan><tspan font-size="5.28" dy="-3.34">-2</tspan><tspan dy="3.34"> (cm</tspan><tspan font-size="5.28" dy="-3.34">-1</tspan><tspan dy="3.34">)</tspan><tspan font-size="5.28" dy="-3.34">-1</tspan><tspan dy="3.34">]</tspan></text>
<text class="big" x="39.5" y="200.6" font-size="16.2" textLength="20.6" lengthAdjust="spacingAndGlyphs">CH</text>
<text x="60.2" y="206.5" font-size="9" text-anchor="start" >4</text>
<text x="295.15" y="202.7" font-size="16.2" text-anchor="start" textLength="9.1" lengthAdjust="spacingAndGlyphs" class="big">B</text>
<text x="36.5" y="225.2" font-size="9.92" text-anchor="start" textLength="10.69" lengthAdjust="spacingAndGlyphs" >R2</text>
<text x="98.09" y="202.5" font-size="10.2" text-anchor="start" textLength="11.32" lengthAdjust="spacingAndGlyphs" >R1</text>
<text x="153.29" y="197.6" font-size="10.2" text-anchor="start" textLength="12.52" lengthAdjust="spacingAndGlyphs" >R0</text>
<text x="256.21" y="233.8" font-size="9.78" text-anchor="start" textLength="10.88" lengthAdjust="spacingAndGlyphs" >P1</text>
<text x="306.91" y="234.2" font-size="9.78" text-anchor="start" textLength="11.88" lengthAdjust="spacingAndGlyphs" >P2</text>
<clipPath id="cC"><rect x="24.8" y="352.6" width="300.1" height="121.3"/></clipPath>
<path d="M24.8,401.4 L61.3,401.4 L61.7,383.5 L62.1,401.4 L107.3,401.4 L107.7,368.5 L108.1,401.4 L154.1,401.4 L154.5,358.5 L154.9,401.4 L201.2,401.4 L201.6,356 L202,401.4 L296.8,401.4 L297.2,353 L297.6,401.4 L324.9,401.4" fill="none" stroke="#cc2936" stroke-width="1"/>
<line x1="164" y1="465" x2="202" y2="465" stroke="#999" stroke-width="0.8" />
<path d="M25.30,465.52 L25.50,465.14 L25.70,466.77 L25.90,468.45 L26.10,468.21 L26.30,466.28 L26.50,467.98 L26.70,465.40 L26.90,469.26 L27.10,464.91 L27.30,457.94 L27.50,469.55 L27.70,465.37 L27.90,461.02 L28.10,464.33 L28.30,461.99 L28.50,472.14 L28.70,466.69 L28.90,459.67 L29.10,466.86 L29.30,463.64 L29.50,471.52 L29.70,461.42 L29.90,457.36 L30.10,465.22 L30.30,463.82 L30.50,463.58 L30.70,457.72 L30.90,466.45 L31.10,470.69 L31.30,458.51 L31.50,468.98 L31.70,463.07 L31.90,472.99 L32.10,466.48 L32.31,464.36 L32.51,468.76 L32.71,466.79 L32.91,462.99 L33.11,467.41 L33.31,463.26 L33.51,458.92 L33.71,471.91 L33.91,463.81 L34.11,462.93 L34.31,466.15 L34.51,459.70 L34.71,460.40 L34.91,463.30 L35.11,463.23 L35.31,465.24 L35.51,468.82 L35.71,463.39 L35.91,466.68 L36.11,467.05 L36.31,461.31 L36.51,465.78 L36.71,461.79 L36.91,468.62 L37.11,466.55 L37.31,465.06 L37.51,460.45 L37.71,455.00 L37.91,462.39 L38.11,467.40 L38.31,464.59 L38.51,462.24 L38.71,468.15 L38.91,467.45 L39.11,462.98 L39.31,468.95 L39.51,463.99 L39.71,463.95 L39.91,465.42 L40.11,462.44 L40.31,463.50 L40.51,464.45 L40.71,470.20 L40.91,470.10 L41.11,464.12 L41.31,470.48 L41.51,464.85 L41.71,466.29 L41.91,468.00 L42.11,465.99 L42.31,473.21 L42.51,465.83 L42.71,460.93 L42.91,469.44 L43.11,463.60 L43.31,463.97 L43.51,454.83 L43.71,468.40 L43.91,467.78 L44.11,467.72 L44.31,468.33 L44.51,470.75 L44.71,464.84 L44.91,468.19 L45.11,462.47 L45.31,463.80 L45.51,468.59 L45.71,466.33 L45.91,460.47 L46.12,466.23 L46.32,464.38 L46.52,462.22 L46.72,466.48 L46.92,463.62 L47.12,459.66 L47.32,461.22 L47.52,471.02 L47.72,459.85 L47.92,465.76 L48.12,467.07 L48.32,467.17 L48.52,460.83 L48.72,463.91 L48.92,465.48 L49.12,467.72 L49.32,462.81 L49.52,461.04 L49.72,455.00 L49.92,468.76 L50.12,466.26 L50.32,462.93 L50.52,466.38 L50.72,465.37 L50.92,467.85 L51.12,460.75 L51.32,465.40 L51.52,464.46 L51.72,461.23 L51.92,465.73 L52.12,465.12 L52.32,463.60 L52.52,466.35 L52.72,460.18 L52.92,464.82 L53.12,466.47 L53.32,465.97 L53.52,468.66 L53.72,460.92 L53.92,459.87 L54.12,465.81 L54.32,466.55 L54.52,472.21 L54.72,467.10 L54.92,462.03 L55.12,467.74 L55.32,462.12 L55.52,459.95 L55.72,473.87 L55.92,466.11 L56.12,467.43 L56.32,466.92 L56.52,471.16 L56.72,465.97 L56.92,469.14 L57.12,461.51 L57.32,460.27 L57.52,469.85 L57.72,470.01 L57.92,466.74 L58.12,465.77 L58.32,465.57 L58.52,462.66 L58.72,470.23 L58.92,467.24 L59.12,466.72 L59.32,466.28 L59.52,468.56 L59.72,466.72 L59.92,467.53 L60.13,461.03 L60.33,466.73 L60.53,472.44 L60.73,463.24 L60.93,464.56 L61.13,468.03 L61.33,468.25 L61.53,467.12 L61.73,459.50 L61.93,444.30 L62.13,460.98 L62.33,462.20 L62.53,466.86 L62.73,463.99 L62.93,467.75 L63.13,475.70 L63.33,467.64 L63.53,467.46 L63.73,461.95 L63.93,462.81 L64.13,461.38 L64.33,463.19 L64.53,461.29 L64.73,462.76 L64.93,464.29 L65.13,461.60 L65.33,460.18 L65.53,460.37 L65.73,466.54 L65.93,465.20 L66.13,468.49 L66.33,468.55 L66.53,463.84 L66.73,467.28 L66.93,460.10 L67.13,472.76 L67.33,469.06 L67.53,464.27 L67.73,461.05 L67.93,466.29 L68.13,458.64 L68.33,462.35 L68.53,467.55 L68.73,465.26 L68.93,463.33 L69.13,468.23 L69.33,461.47 L69.53,465.97 L69.73,463.31 L69.93,462.12 L70.13,466.58 L70.33,461.62 L70.53,471.47 L70.73,463.01 L70.93,471.77 L71.13,461.28 L71.33,467.06 L71.53,460.92 L71.73,460.44 L71.93,465.54 L72.13,467.30 L72.33,460.67 L72.53,469.03 L72.73,462.29 L72.93,465.45 L73.13,466.29 L73.33,467.02 L73.53,458.89 L73.73,470.50 L73.94,466.91 L74.14,463.55 L74.34,461.52 L74.54,459.24 L74.74,460.37 L74.94,466.85 L75.14,463.84 L75.34,461.15 L75.54,463.21 L75.74,470.32 L75.94,463.88 L76.14,463.01 L76.34,469.59 L76.54,466.57 L76.74,465.15 L76.94,462.93 L77.14,459.72 L77.34,461.02 L77.54,463.37 L77.74,464.25 L77.94,466.21 L78.14,466.88 L78.34,465.76 L78.54,465.75 L78.74,461.57 L78.94,457.67 L79.14,463.23 L79.34,461.76 L79.54,462.78 L79.74,464.07 L79.94,460.77 L80.14,461.22 L80.34,464.66 L80.54,465.39 L80.74,462.77 L80.94,466.69 L81.14,464.25 L81.34,461.53 L81.54,465.14 L81.74,471.40 L81.94,462.71 L82.14,468.96 L82.34,469.68 L82.54,470.09 L82.74,462.20 L82.94,471.85 L83.14,465.40 L83.34,464.14 L83.54,464.22 L83.74,467.05 L83.94,465.17 L84.14,464.40 L84.34,469.36 L84.54,462.54 L84.74,461.45 L84.94,467.70 L85.14,467.39 L85.34,468.72 L85.54,461.35 L85.74,468.68 L85.94,466.64 L86.14,470.99 L86.34,460.76 L86.54,465.74 L86.74,464.06 L86.94,459.59 L87.14,462.57 L87.34,468.83 L87.54,463.41 L87.75,455.00 L87.95,467.95 L88.15,468.36 L88.35,468.36 L88.55,462.32 L88.75,464.80 L88.95,468.50 L89.15,462.77 L89.35,462.45 L89.55,467.82 L89.75,470.31 L89.95,461.08 L90.15,456.17 L90.35,460.07 L90.55,461.56 L90.75,464.53 L90.95,467.09 L91.15,464.50 L91.35,462.62 L91.55,465.52 L91.75,461.73 L91.95,464.84 L92.15,462.82 L92.35,474.11 L92.55,467.78 L92.75,462.16 L92.95,461.61 L93.15,463.51 L93.35,459.41 L93.55,462.52 L93.75,462.49 L93.95,468.01 L94.15,463.55 L94.35,462.31 L94.55,460.44 L94.75,461.00 L94.95,464.77 L95.15,464.27 L95.35,468.86 L95.55,462.86 L95.75,468.60 L95.95,465.87 L96.15,464.98 L96.35,458.17 L96.55,460.61 L96.75,467.52 L96.95,469.75 L97.15,465.70 L97.35,467.59 L97.55,463.61 L97.75,463.74 L97.95,462.75 L98.15,468.31 L98.35,466.17 L98.55,464.20 L98.75,463.88 L98.95,466.89 L99.15,466.10 L99.35,462.17 L99.55,470.83 L99.75,465.87 L99.95,465.04 L100.15,470.02 L100.35,468.48 L100.55,464.70 L100.75,466.82 L100.95,461.36 L101.15,462.82 L101.35,457.31 L101.55,469.15 L101.76,458.55 L101.96,467.32 L102.16,462.18 L102.36,461.67 L102.56,464.34 L102.76,465.91 L102.96,467.08 L103.16,471.02 L103.36,466.22 L103.56,468.00 L103.76,462.97 L103.96,467.43 L104.16,465.52 L104.36,463.43 L104.56,464.67 L104.76,464.79 L104.96,465.65 L105.16,466.36 L105.36,463.27 L105.56,462.48 L105.76,467.54 L105.96,459.23 L106.16,462.90 L106.36,470.28 L106.56,455.80 L106.76,462.64 L106.96,467.34 L107.16,459.39 L107.36,473.83 L107.56,456.20 L107.76,469.88 L107.96,440.00 L108.16,468.12 L108.36,464.25 L108.56,466.21 L108.76,461.95 L108.96,467.75 L109.16,461.19 L109.36,464.07 L109.56,468.39 L109.76,461.21 L109.96,463.76 L110.16,465.56 L110.36,460.44 L110.56,468.96 L110.76,466.16 L110.96,459.85 L111.16,464.84 L111.36,462.36 L111.56,462.76 L111.76,465.26 L111.96,462.59 L112.16,468.28 L112.36,462.60 L112.56,468.34 L112.76,464.85 L112.96,467.91 L113.16,463.16 L113.36,463.28 L113.56,461.08 L113.76,466.97 L113.96,468.19 L114.16,472.21 L114.36,469.39 L114.56,465.85 L114.76,464.28 L114.96,466.32 L115.16,464.91 L115.36,469.98 L115.57,468.21 L115.77,462.16 L115.97,462.66 L116.17,469.65 L116.37,466.05 L116.57,464.21 L116.77,469.03 L116.97,463.68 L117.17,464.05 L117.37,463.43 L117.57,458.33 L117.77,467.94 L117.97,460.89 L118.17,463.07 L118.37,462.47 L118.57,467.47 L118.77,464.77 L118.97,465.05 L119.17,459.29 L119.37,464.70 L119.57,459.98 L119.77,466.04 L119.97,466.25 L120.17,464.94 L120.37,471.95 L120.57,466.79 L120.77,467.03 L120.97,465.48 L121.17,464.34 L121.37,468.28 L121.57,468.74 L121.77,460.58 L121.97,468.59 L122.17,466.75 L122.37,468.27 L122.57,466.59 L122.77,460.77 L122.97,461.01 L123.17,471.20 L123.37,465.86 L123.57,460.18 L123.77,466.18 L123.97,463.77 L124.17,458.73 L124.37,457.21 L124.57,459.55 L124.77,465.92 L124.97,464.84 L125.17,464.15 L125.37,465.97 L125.57,467.04 L125.77,457.85 L125.97,463.98 L126.17,462.19 L126.37,460.81 L126.57,463.14 L126.77,464.58 L126.97,464.09 L127.17,460.05 L127.37,463.36 L127.57,471.85 L127.77,461.41 L127.97,459.26 L128.17,465.94 L128.37,467.03 L128.57,466.58 L128.77,461.19 L128.97,468.39 L129.17,462.33 L129.38,461.14 L129.58,462.93 L129.78,464.63 L129.98,467.43 L130.18,467.12 L130.38,464.92 L130.58,468.17 L130.78,465.28 L130.98,468.05 L131.18,460.23 L131.38,459.65 L131.58,467.64 L131.78,460.27 L131.98,463.97 L132.18,464.67 L132.38,463.34 L132.58,463.46 L132.78,469.73 L132.98,456.40 L133.18,468.01 L133.38,472.80 L133.58,465.08 L133.78,464.94 L133.98,467.47 L134.18,471.22 L134.38,460.96 L134.58,465.30 L134.78,464.37 L134.98,466.90 L135.18,465.54 L135.38,467.24 L135.58,463.57 L135.78,465.17 L135.98,462.72 L136.18,462.74 L136.38,464.52 L136.58,464.52 L136.78,461.01 L136.98,470.34 L137.18,464.54 L137.38,460.30 L137.58,468.75 L137.78,462.46 L137.98,466.73 L138.18,464.94 L138.38,465.85 L138.58,465.58 L138.78,463.04 L138.98,465.14 L139.18,471.91 L139.38,457.39 L139.58,465.22 L139.78,466.48 L139.98,461.42 L140.18,460.34 L140.38,472.34 L140.58,463.74 L140.78,472.07 L140.98,466.82 L141.18,465.26 L141.38,466.62 L141.58,467.16 L141.78,469.01 L141.98,466.48 L142.18,465.49 L142.38,465.60 L142.58,469.60 L142.78,467.78 L142.98,461.59 L143.18,462.84 L143.39,466.12 L143.59,462.88 L143.79,463.72 L143.99,461.75 L144.19,464.11 L144.39,466.44 L144.59,468.38 L144.79,465.03 L144.99,472.05 L145.19,464.74 L145.39,475.86 L145.59,468.41 L145.79,466.69 L145.99,463.30 L146.19,455.40 L146.39,464.47 L146.59,465.61 L146.79,471.54 L146.99,460.31 L147.19,471.48 L147.39,464.15 L147.59,467.46 L147.79,456.36 L147.99,465.47 L148.19,463.83 L148.39,467.32 L148.59,465.31 L148.79,461.12 L148.99,468.22 L149.19,467.36 L149.39,467.03 L149.59,468.43 L149.79,468.74 L149.99,464.93 L150.19,460.38 L150.39,460.29 L150.59,469.59 L150.79,467.42 L150.99,465.35 L151.19,463.52 L151.39,465.11 L151.59,465.08 L151.79,463.86 L151.99,462.62 L152.19,472.36 L152.39,465.78 L152.59,462.94 L152.79,460.57 L152.99,462.53 L153.19,467.45 L153.39,467.58 L153.59,464.26 L153.79,465.18 L153.99,463.96 L154.19,461.23 L154.39,469.43 L154.59,466.27 L154.79,423.50 L154.99,462.43 L155.19,464.53 L155.39,468.00 L155.59,464.17 L155.79,460.28 L155.99,461.77 L156.19,465.34 L156.39,466.17 L156.59,464.68 L156.79,468.41 L156.99,468.38 L157.20,466.10 L157.40,465.09 L157.60,464.14 L157.80,466.87 L158.00,468.13 L158.20,465.21 L158.40,466.53 L158.60,463.90 L158.80,460.20 L159.00,461.60 L159.20,467.60 L159.40,466.52 L159.60,470.41 L159.80,465.19 L160.00,467.94 L160.20,469.50 L160.40,468.38 L160.60,462.93 L160.80,464.37 L161.00,465.44 L161.20,461.65 L161.40,466.61 L161.60,468.48 L161.80,463.37 L162.00,471.71 L162.20,464.01 L162.40,464.31 L162.60,464.19 L162.80,462.59 L163.00,466.42 L163.20,465.07 L163.40,470.65 L163.60,467.06 L163.80,466.83 L164.00,464.25" fill="none" stroke="#000" stroke-width="1.0" clip-path="url(#cC)"/>
<path d="M202.00,409.00 L202.20,464.70 L202.40,462.11 L202.60,468.24 L202.80,464.90 L203.00,470.66 L203.20,467.50 L203.40,467.84 L203.60,465.78 L203.80,465.71 L204.00,467.22 L204.20,468.14 L204.40,462.58 L204.60,466.67 L204.80,473.91 L205.00,464.70 L205.20,464.13 L205.40,462.65 L205.60,460.07 L205.80,469.04 L206.00,465.21 L206.20,466.02 L206.40,471.27 L206.60,473.53 L206.80,461.98 L207.00,468.59 L207.20,467.12 L207.40,466.36 L207.60,466.63 L207.80,464.93 L208.00,470.41 L208.21,467.10 L208.41,466.18 L208.61,469.25 L208.81,468.06 L209.01,466.57 L209.21,466.12 L209.41,470.98 L209.61,466.74 L209.81,464.70 L210.01,462.10 L210.21,463.84 L210.41,461.44 L210.61,465.38 L210.81,465.88 L211.01,458.04 L211.21,465.07 L211.41,467.22 L211.61,465.58 L211.81,461.76 L212.01,469.32 L212.21,462.64 L212.41,460.83 L212.61,461.33 L212.81,464.96 L213.01,468.35 L213.21,468.97 L213.41,465.72 L213.61,460.95 L213.81,462.77 L214.01,461.95 L214.21,464.40 L214.41,458.97 L214.61,465.38 L214.81,467.20 L215.01,464.50 L215.21,466.57 L215.41,461.81 L215.61,460.06 L215.81,462.84 L216.01,468.94 L216.21,468.51 L216.41,463.45 L216.61,469.10 L216.81,463.90 L217.01,470.14 L217.21,466.64 L217.41,463.47 L217.61,467.71 L217.81,462.37 L218.01,461.82 L218.21,460.07 L218.41,465.88 L218.61,464.82 L218.81,464.74 L219.01,463.61 L219.21,469.89 L219.41,463.56 L219.61,462.54 L219.81,469.24 L220.01,469.83 L220.21,466.15 L220.42,459.08 L220.62,462.96 L220.82,467.08 L221.02,465.06 L221.22,470.28 L221.42,460.35 L221.62,467.31 L221.82,462.87 L222.02,469.50 L222.22,464.74 L222.42,468.50 L222.62,462.80 L222.82,460.21 L223.02,461.22 L223.22,462.94 L223.42,461.52 L223.62,469.08 L223.82,469.55 L224.02,465.93 L224.22,461.48 L224.42,464.60 L224.62,462.67 L224.82,469.94 L225.02,466.07 L225.22,466.66 L225.42,463.64 L225.62,458.16 L225.82,462.38 L226.02,461.20 L226.22,466.26 L226.42,465.33 L226.62,462.27 L226.82,463.68 L227.02,470.33 L227.22,461.74 L227.42,461.88 L227.62,464.22 L227.82,462.62 L228.02,463.54 L228.22,466.81 L228.42,470.89 L228.62,458.95 L228.82,464.94 L229.02,465.14 L229.22,464.71 L229.42,464.36 L229.62,463.84 L229.82,468.41 L230.02,463.42 L230.22,464.57 L230.42,465.00 L230.62,465.37 L230.82,464.42 L231.02,468.40 L231.22,464.97 L231.42,465.59 L231.62,464.83 L231.82,461.59 L232.02,462.18 L232.22,461.43 L232.42,465.66 L232.62,462.57 L232.83,461.39 L233.03,465.81 L233.23,466.79 L233.43,459.01 L233.63,470.74 L233.83,465.11 L234.03,464.64 L234.23,468.63 L234.43,465.24 L234.63,462.95 L234.83,472.46 L235.03,461.35 L235.23,464.67 L235.43,467.88 L235.63,461.36 L235.83,464.65 L236.03,466.31 L236.23,473.17 L236.43,461.96 L236.63,464.84 L236.83,467.24 L237.03,465.28 L237.23,460.91 L237.43,466.39 L237.63,465.37 L237.83,466.52 L238.03,468.85 L238.23,468.44 L238.43,466.39 L238.63,466.06 L238.83,461.27 L239.03,464.54 L239.23,465.75 L239.43,463.64 L239.63,465.33 L239.83,462.19 L240.03,470.22 L240.23,472.32 L240.43,463.68 L240.63,466.36 L240.83,464.20 L241.03,469.29 L241.23,466.48 L241.43,465.26 L241.63,464.24 L241.83,465.43 L242.03,461.60 L242.23,467.30 L242.43,462.57 L242.63,466.82 L242.83,465.44 L243.03,468.72 L243.23,464.94 L243.43,468.48 L243.63,461.86 L243.83,467.07 L244.03,464.24 L244.23,465.66 L244.43,465.24 L244.63,468.18 L244.83,458.13 L245.04,466.10 L245.24,459.92 L245.44,469.10 L245.64,458.29 L245.84,461.59 L246.04,459.31 L246.24,470.57 L246.44,460.62 L246.64,465.39 L246.84,463.18 L247.04,458.88 L247.24,463.85 L247.44,467.25 L247.64,464.37 L247.84,468.20 L248.04,463.77 L248.24,465.02 L248.44,463.69 L248.64,466.17 L248.84,471.46 L249.04,466.23 L249.24,465.66 L249.44,462.90 L249.64,462.43 L249.84,469.98 L250.04,461.22 L250.24,461.90 L250.44,464.67 L250.64,463.55 L250.84,471.65 L251.04,456.95 L251.24,466.23 L251.44,467.42 L251.64,461.19 L251.84,462.81 L252.04,466.47 L252.24,470.54 L252.44,461.87 L252.64,459.63 L252.84,468.31 L253.04,470.18 L253.24,463.86 L253.44,457.47 L253.64,469.94 L253.84,464.32 L254.04,468.82 L254.24,464.85 L254.44,463.72 L254.64,463.46 L254.84,470.01 L255.04,469.88 L255.24,457.73 L255.44,461.82 L255.64,471.04 L255.84,463.75 L256.04,460.37 L256.24,465.02 L256.44,464.63 L256.64,464.67 L256.84,463.37 L257.04,463.95 L257.25,463.45 L257.45,466.14 L257.65,462.24 L257.85,464.02 L258.05,464.51 L258.25,469.44 L258.45,466.27 L258.65,464.63 L258.85,466.82 L259.05,466.38 L259.25,468.70 L259.45,466.72 L259.65,471.10 L259.85,469.57 L260.05,464.86 L260.25,463.59 L260.45,468.00 L260.65,466.76 L260.85,464.68 L261.05,459.98 L261.25,458.77 L261.45,466.18 L261.65,467.62 L261.85,467.73 L262.05,460.62 L262.25,468.53 L262.45,463.18 L262.65,466.32 L262.85,466.42 L263.05,462.27 L263.25,462.99 L263.45,457.95 L263.65,461.88 L263.85,458.87 L264.05,466.49 L264.25,465.21 L264.45,468.11 L264.65,466.21 L264.85,462.84 L265.05,466.18 L265.25,463.67 L265.45,467.07 L265.65,466.07 L265.85,461.64 L266.05,465.01 L266.25,465.19 L266.45,463.95 L266.65,468.04 L266.85,470.82 L267.05,463.75 L267.25,463.81 L267.45,457.36 L267.65,464.56 L267.85,463.52 L268.05,457.65 L268.25,465.98 L268.45,467.01 L268.65,462.50 L268.85,463.73 L269.05,461.71 L269.25,467.59 L269.46,459.84 L269.66,463.93 L269.86,471.63 L270.06,465.18 L270.26,466.59 L270.46,464.50 L270.66,461.01 L270.86,464.89 L271.06,466.38 L271.26,461.52 L271.46,466.16 L271.66,469.23 L271.86,468.64 L272.06,459.62 L272.26,461.68 L272.46,459.51 L272.66,468.64 L272.86,467.08 L273.06,467.39 L273.26,462.01 L273.46,461.03 L273.66,465.26 L273.86,465.34 L274.06,462.10 L274.26,465.48 L274.46,467.19 L274.66,465.78 L274.86,461.47 L275.06,457.82 L275.26,464.12 L275.46,465.56 L275.66,464.12 L275.86,463.54 L276.06,462.65 L276.26,467.43 L276.46,464.82 L276.66,465.42 L276.86,461.70 L277.06,462.89 L277.26,465.56 L277.46,461.58 L277.66,460.72 L277.86,463.88 L278.06,469.08 L278.26,465.65 L278.46,469.96 L278.66,464.55 L278.86,463.95 L279.06,460.27 L279.26,463.04 L279.46,469.88 L279.66,466.11 L279.86,467.49 L280.06,467.40 L280.26,464.97 L280.46,464.30 L280.66,465.41 L280.86,467.28 L281.06,466.56 L281.26,466.67 L281.46,465.52 L281.67,462.38 L281.87,464.11 L282.07,461.80 L282.27,468.42 L282.47,457.85 L282.67,464.26 L282.87,473.12 L283.07,463.84 L283.27,461.14 L283.47,464.94 L283.67,469.38 L283.87,464.45 L284.07,467.09 L284.27,465.34 L284.47,463.73 L284.67,475.71 L284.87,465.24 L285.07,463.17 L285.27,463.33 L285.47,466.29 L285.67,466.39 L285.87,467.62 L286.07,465.48 L286.27,460.13 L286.47,466.81 L286.67,463.95 L286.87,464.03 L287.07,459.96 L287.27,463.05 L287.47,462.53 L287.67,464.88 L287.87,460.06 L288.07,465.17 L288.27,465.42 L288.47,461.19 L288.67,462.88 L288.87,462.08 L289.07,468.09 L289.27,456.40 L289.47,463.83 L289.67,459.35 L289.87,463.53 L290.07,467.88 L290.27,462.86 L290.47,465.47 L290.67,462.13 L290.87,471.59 L291.07,468.10 L291.27,468.83 L291.47,460.48 L291.67,461.26 L291.87,468.67 L292.07,464.34 L292.27,464.12 L292.47,466.13 L292.67,460.73 L292.87,467.63 L293.07,465.06 L293.27,466.63 L293.47,462.72 L293.67,466.74 L293.88,462.60 L294.08,468.24 L294.28,468.84 L294.48,468.10 L294.68,466.76 L294.88,467.15 L295.08,455.80 L295.28,467.84 L295.48,464.07 L295.68,465.32 L295.88,464.04 L296.08,460.27 L296.28,463.17 L296.48,467.24 L296.68,469.82 L296.88,462.88 L297.08,461.93 L297.28,469.94 L297.48,462.00 L297.68,414.80 L297.88,465.17 L298.08,462.00 L298.28,468.35 L298.48,470.76 L298.68,460.12 L298.88,470.30 L299.08,464.04 L299.28,470.05 L299.48,463.71 L299.68,459.64 L299.88,466.71 L300.08,468.15 L300.28,472.13 L300.48,470.86 L300.68,467.36 L300.88,464.19 L301.08,463.23 L301.28,464.00 L301.48,462.17 L301.68,464.07 L301.88,456.35 L302.08,465.61 L302.28,464.90 L302.48,473.72 L302.68,467.58 L302.88,463.37 L303.08,466.92 L303.28,460.83 L303.48,462.95 L303.68,458.65 L303.88,469.88 L304.08,467.02 L304.28,461.00 L304.48,464.79 L304.68,468.23 L304.88,466.68 L305.08,466.30 L305.28,462.08 L305.48,462.83 L305.68,465.32 L305.88,468.13 L306.08,462.18 L306.29,461.19 L306.49,468.89 L306.69,461.84 L306.89,468.66 L307.09,465.83 L307.29,468.00 L307.49,470.93 L307.69,467.34 L307.89,467.64 L308.09,461.88 L308.29,462.64 L308.49,467.19 L308.69,470.22 L308.89,469.73 L309.09,472.88 L309.29,466.06 L309.49,465.69 L309.69,468.42 L309.89,465.06 L310.09,464.79 L310.29,461.44 L310.49,468.37 L310.69,461.36 L310.89,466.74 L311.09,460.17 L311.29,468.73 L311.49,461.50 L311.69,467.87 L311.89,459.60 L312.09,463.50 L312.29,469.01 L312.49,462.26 L312.69,465.23 L312.89,463.37 L313.09,457.15 L313.29,466.05 L313.49,466.47 L313.69,461.23 L313.89,466.95 L314.09,462.29 L314.29,461.59 L314.49,465.02 L314.69,462.68 L314.89,472.79 L315.09,459.71 L315.29,467.51 L315.49,468.36 L315.69,458.27 L315.89,459.11 L316.09,466.91 L316.29,463.36 L316.49,466.30 L316.69,468.87 L316.89,463.73 L317.09,461.38 L317.29,455.72 L317.49,465.70 L317.69,461.84 L317.89,466.07 L318.09,465.79 L318.29,460.29 L318.50,470.86 L318.70,468.68 L318.90,467.88 L319.10,460.97 L319.30,463.61 L319.50,463.14 L319.70,463.59 L319.90,461.18 L320.10,466.48 L320.30,465.78 L320.50,466.24 L320.70,463.28 L320.90,469.39 L321.10,465.64 L321.30,455.69 L321.50,462.82 L321.70,464.81 L321.90,468.28 L322.10,463.98 L322.30,464.15 L322.50,462.75 L322.70,467.26 L322.90,463.48 L323.10,462.95 L323.30,462.48 L323.50,466.89 L323.70,463.19 L323.90,459.30 L324.10,467.12 L324.30,462.62 L324.50,466.21" fill="none" stroke="#000" stroke-width="1.0" clip-path="url(#cC)"/>
<path d="M24.80,461.25 L30.79,461.47 L36.79,461.73 L42.78,461.59 L48.78,461.55 L54.77,461.25 L60.76,461.64 L66.76,461.75 L72.75,462.10 L78.75,462.02 L84.74,461.51 L90.73,461.89 L96.73,461.92 L102.72,461.95 L108.72,461.96 L114.71,462.12 L120.70,462.26 L126.70,461.86 L132.69,462.13 L138.69,462.00 L144.68,461.88 L150.67,462.31 L156.67,462.54 L162.66,462.46 L168.66,462.00 L174.65,462.04 L180.64,462.17 L186.64,462.15 L192.63,461.84 L198.63,461.64 L204.62,461.33 L210.61,461.38 L216.61,461.59 L222.60,461.84 L228.60,461.66 L234.59,461.72 L240.58,461.86 L246.58,461.73 L252.57,461.69 L258.57,462.22 L264.56,462.27 L270.55,462.49 L276.55,462.39 L282.54,462.40 L288.54,461.97 L294.53,461.96 L300.52,462.26 L306.52,462.75 L312.51,462.75 L318.51,462.75 L324.50,462.75" fill="none" stroke="#ed1c24" stroke-width="1.9" stroke-dasharray="2.6 2.1"/>
<path d="M24.80,468.99 L30.79,468.95 L36.79,469.11 L42.78,468.91 L48.78,469.14 L54.77,468.90 L60.76,468.45 L66.76,468.20 L72.75,468.15 L78.75,468.15 L84.74,468.15 L90.73,468.15 L96.73,468.15 L102.72,468.15 L108.72,468.33 L114.71,468.20 L120.70,468.54 L126.70,468.63 L132.69,468.63 L138.69,468.74 L144.68,468.39 L150.67,468.19 L156.67,468.16 L162.66,468.32 L168.66,468.22 L174.65,468.19 L180.64,468.43 L186.64,468.79 L192.63,468.98 L198.63,469.30 L204.62,469.19 L210.61,469.12 L216.61,469.20 L222.60,469.12 L228.60,469.00 L234.59,469.41 L240.58,469.36 L246.58,469.12 L252.57,469.24 L258.57,469.65 L264.56,469.65 L270.55,469.65 L276.55,469.65 L282.54,469.65 L288.54,469.62 L294.53,469.59 L300.52,469.65 L306.52,469.65 L312.51,469.65 L318.51,469.65 L324.50,469.65" fill="none" stroke="#ed1c24" stroke-width="1.9" stroke-dasharray="2.6 2.1"/>
<rect x="24.8" y="352.6" width="300.1" height="121.3" fill="none" stroke="#231f20" stroke-width="1"/>
<line x1="24.8" y1="471.56" x2="27.5" y2="471.56" stroke="#231f20" stroke-width="0.8" />
<line x1="324.9" y1="471.56" x2="322.2" y2="471.56" stroke="#231f20" stroke-width="0.8" />
<line x1="24.8" y1="469.44" x2="27.5" y2="469.44" stroke="#231f20" stroke-width="0.8" />
<line x1="324.9" y1="469.44" x2="322.2" y2="469.44" stroke="#231f20" stroke-width="0.8" />
<line x1="24.8" y1="467.32" x2="27.5" y2="467.32" stroke="#231f20" stroke-width="0.8" />
<line x1="324.9" y1="467.32" x2="322.2" y2="467.32" stroke="#231f20" stroke-width="0.8" />
<line x1="24.8" y1="463.08" x2="27.5" y2="463.08" stroke="#231f20" stroke-width="0.8" />
<line x1="324.9" y1="463.08" x2="322.2" y2="463.08" stroke="#231f20" stroke-width="0.8" />
<line x1="24.8" y1="460.96" x2="27.5" y2="460.96" stroke="#231f20" stroke-width="0.8" />
<line x1="324.9" y1="460.96" x2="322.2" y2="460.96" stroke="#231f20" stroke-width="0.8" />
<line x1="24.8" y1="458.84" x2="27.5" y2="458.84" stroke="#231f20" stroke-width="0.8" />
<line x1="324.9" y1="458.84" x2="322.2" y2="458.84" stroke="#231f20" stroke-width="0.8" />
<line x1="24.8" y1="456.72" x2="27.5" y2="456.72" stroke="#231f20" stroke-width="0.8" />
<line x1="324.9" y1="456.72" x2="322.2" y2="456.72" stroke="#231f20" stroke-width="0.8" />
<line x1="24.8" y1="454.6" x2="27.5" y2="454.6" stroke="#231f20" stroke-width="0.8" />
<line x1="324.9" y1="454.6" x2="322.2" y2="454.6" stroke="#231f20" stroke-width="0.8" />
<line x1="24.8" y1="452.48" x2="27.5" y2="452.48" stroke="#231f20" stroke-width="0.8" />
<line x1="324.9" y1="452.48" x2="322.2" y2="452.48" stroke="#231f20" stroke-width="0.8" />
<line x1="24.8" y1="450.36" x2="27.5" y2="450.36" stroke="#231f20" stroke-width="0.8" />
<line x1="324.9" y1="450.36" x2="322.2" y2="450.36" stroke="#231f20" stroke-width="0.8" />
<line x1="24.8" y1="448.24" x2="27.5" y2="448.24" stroke="#231f20" stroke-width="0.8" />
<line x1="324.9" y1="448.24" x2="322.2" y2="448.24" stroke="#231f20" stroke-width="0.8" />
<line x1="24.8" y1="446.12" x2="27.5" y2="446.12" stroke="#231f20" stroke-width="0.8" />
<line x1="324.9" y1="446.12" x2="322.2" y2="446.12" stroke="#231f20" stroke-width="0.8" />
<line x1="24.8" y1="441.88" x2="27.5" y2="441.88" stroke="#231f20" stroke-width="0.8" />
<line x1="324.9" y1="441.88" x2="322.2" y2="441.88" stroke="#231f20" stroke-width="0.8" />
<line x1="24.8" y1="439.76" x2="27.5" y2="439.76" stroke="#231f20" stroke-width="0.8" />
<line x1="324.9" y1="439.76" x2="322.2" y2="439.76" stroke="#231f20" stroke-width="0.8" />
<line x1="24.8" y1="437.64" x2="27.5" y2="437.64" stroke="#231f20" stroke-width="0.8" />
<line x1="324.9" y1="437.64" x2="322.2" y2="437.64" stroke="#231f20" stroke-width="0.8" />
<line x1="24.8" y1="435.52" x2="27.5" y2="435.52" stroke="#231f20" stroke-width="0.8" />
<line x1="324.9" y1="435.52" x2="322.2" y2="435.52" stroke="#231f20" stroke-width="0.8" />
<line x1="24.8" y1="433.4" x2="27.5" y2="433.4" stroke="#231f20" stroke-width="0.8" />
<line x1="324.9" y1="433.4" x2="322.2" y2="433.4" stroke="#231f20" stroke-width="0.8" />
<line x1="24.8" y1="431.28" x2="27.5" y2="431.28" stroke="#231f20" stroke-width="0.8" />
<line x1="324.9" y1="431.28" x2="322.2" y2="431.28" stroke="#231f20" stroke-width="0.8" />
<line x1="24.8" y1="429.16" x2="27.5" y2="429.16" stroke="#231f20" stroke-width="0.8" />
<line x1="324.9" y1="429.16" x2="322.2" y2="429.16" stroke="#231f20" stroke-width="0.8" />
<line x1="24.8" y1="427.04" x2="27.5" y2="427.04" stroke="#231f20" stroke-width="0.8" />
<line x1="324.9" y1="427.04" x2="322.2" y2="427.04" stroke="#231f20" stroke-width="0.8" />
<line x1="24.8" y1="424.92" x2="27.5" y2="424.92" stroke="#231f20" stroke-width="0.8" />
<line x1="324.9" y1="424.92" x2="322.2" y2="424.92" stroke="#231f20" stroke-width="0.8" />
<line x1="24.8" y1="420.68" x2="27.5" y2="420.68" stroke="#231f20" stroke-width="0.8" />
<line x1="324.9" y1="420.68" x2="322.2" y2="420.68" stroke="#231f20" stroke-width="0.8" />
<line x1="24.8" y1="418.56" x2="27.5" y2="418.56" stroke="#231f20" stroke-width="0.8" />
<line x1="324.9" y1="418.56" x2="322.2" y2="418.56" stroke="#231f20" stroke-width="0.8" />
<line x1="24.8" y1="416.44" x2="27.5" y2="416.44" stroke="#231f20" stroke-width="0.8" />
<line x1="324.9" y1="416.44" x2="322.2" y2="416.44" stroke="#231f20" stroke-width="0.8" />
<line x1="24.8" y1="414.32" x2="27.5" y2="414.32" stroke="#231f20" stroke-width="0.8" />
<line x1="324.9" y1="414.32" x2="322.2" y2="414.32" stroke="#231f20" stroke-width="0.8" />
<line x1="24.8" y1="412.2" x2="27.5" y2="412.2" stroke="#231f20" stroke-width="0.8" />
<line x1="324.9" y1="412.2" x2="322.2" y2="412.2" stroke="#231f20" stroke-width="0.8" />
<line x1="24.8" y1="410.08" x2="27.5" y2="410.08" stroke="#231f20" stroke-width="0.8" />
<line x1="324.9" y1="410.08" x2="322.2" y2="410.08" stroke="#231f20" stroke-width="0.8" />
<line x1="24.8" y1="407.96" x2="27.5" y2="407.96" stroke="#231f20" stroke-width="0.8" />
<line x1="324.9" y1="407.96" x2="322.2" y2="407.96" stroke="#231f20" stroke-width="0.8" />
<line x1="24.8" y1="405.84" x2="27.5" y2="405.84" stroke="#231f20" stroke-width="0.8" />
<line x1="324.9" y1="405.84" x2="322.2" y2="405.84" stroke="#231f20" stroke-width="0.8" />
<line x1="24.8" y1="403.72" x2="27.5" y2="403.72" stroke="#231f20" stroke-width="0.8" />
<line x1="324.9" y1="403.72" x2="322.2" y2="403.72" stroke="#231f20" stroke-width="0.8" />
<line x1="24.8" y1="399.48" x2="27.5" y2="399.48" stroke="#231f20" stroke-width="0.8" />
<line x1="324.9" y1="399.48" x2="322.2" y2="399.48" stroke="#231f20" stroke-width="0.8" />
<line x1="24.8" y1="397.36" x2="27.5" y2="397.36" stroke="#231f20" stroke-width="0.8" />
<line x1="324.9" y1="397.36" x2="322.2" y2="397.36" stroke="#231f20" stroke-width="0.8" />
<line x1="24.8" y1="395.24" x2="27.5" y2="395.24" stroke="#231f20" stroke-width="0.8" />
<line x1="324.9" y1="395.24" x2="322.2" y2="395.24" stroke="#231f20" stroke-width="0.8" />
<line x1="24.8" y1="393.12" x2="27.5" y2="393.12" stroke="#231f20" stroke-width="0.8" />
<line x1="324.9" y1="393.12" x2="322.2" y2="393.12" stroke="#231f20" stroke-width="0.8" />
<line x1="24.8" y1="391" x2="27.5" y2="391" stroke="#231f20" stroke-width="0.8" />
<line x1="324.9" y1="391" x2="322.2" y2="391" stroke="#231f20" stroke-width="0.8" />
<line x1="24.8" y1="388.88" x2="27.5" y2="388.88" stroke="#231f20" stroke-width="0.8" />
<line x1="324.9" y1="388.88" x2="322.2" y2="388.88" stroke="#231f20" stroke-width="0.8" />
<line x1="24.8" y1="386.76" x2="27.5" y2="386.76" stroke="#231f20" stroke-width="0.8" />
<line x1="324.9" y1="386.76" x2="322.2" y2="386.76" stroke="#231f20" stroke-width="0.8" />
<line x1="24.8" y1="384.64" x2="27.5" y2="384.64" stroke="#231f20" stroke-width="0.8" />
<line x1="324.9" y1="384.64" x2="322.2" y2="384.64" stroke="#231f20" stroke-width="0.8" />
<line x1="24.8" y1="382.52" x2="27.5" y2="382.52" stroke="#231f20" stroke-width="0.8" />
<line x1="324.9" y1="382.52" x2="322.2" y2="382.52" stroke="#231f20" stroke-width="0.8" />
<line x1="24.8" y1="378.28" x2="27.5" y2="378.28" stroke="#231f20" stroke-width="0.8" />
<line x1="324.9" y1="378.28" x2="322.2" y2="378.28" stroke="#231f20" stroke-width="0.8" />
<line x1="24.8" y1="376.16" x2="27.5" y2="376.16" stroke="#231f20" stroke-width="0.8" />
<line x1="324.9" y1="376.16" x2="322.2" y2="376.16" stroke="#231f20" stroke-width="0.8" />
<line x1="24.8" y1="374.04" x2="27.5" y2="374.04" stroke="#231f20" stroke-width="0.8" />
<line x1="324.9" y1="374.04" x2="322.2" y2="374.04" stroke="#231f20" stroke-width="0.8" />
<line x1="24.8" y1="371.92" x2="27.5" y2="371.92" stroke="#231f20" stroke-width="0.8" />
<line x1="324.9" y1="371.92" x2="322.2" y2="371.92" stroke="#231f20" stroke-width="0.8" />
<line x1="24.8" y1="369.8" x2="27.5" y2="369.8" stroke="#231f20" stroke-width="0.8" />
<line x1="324.9" y1="369.8" x2="322.2" y2="369.8" stroke="#231f20" stroke-width="0.8" />
<line x1="24.8" y1="367.68" x2="27.5" y2="367.68" stroke="#231f20" stroke-width="0.8" />
<line x1="324.9" y1="367.68" x2="322.2" y2="367.68" stroke="#231f20" stroke-width="0.8" />
<line x1="24.8" y1="365.56" x2="27.5" y2="365.56" stroke="#231f20" stroke-width="0.8" />
<line x1="324.9" y1="365.56" x2="322.2" y2="365.56" stroke="#231f20" stroke-width="0.8" />
<line x1="24.8" y1="363.44" x2="27.5" y2="363.44" stroke="#231f20" stroke-width="0.8" />
<line x1="324.9" y1="363.44" x2="322.2" y2="363.44" stroke="#231f20" stroke-width="0.8" />
<line x1="24.8" y1="361.32" x2="27.5" y2="361.32" stroke="#231f20" stroke-width="0.8" />
<line x1="324.9" y1="361.32" x2="322.2" y2="361.32" stroke="#231f20" stroke-width="0.8" />
<line x1="24.8" y1="357.08" x2="27.5" y2="357.08" stroke="#231f20" stroke-width="0.8" />
<line x1="324.9" y1="357.08" x2="322.2" y2="357.08" stroke="#231f20" stroke-width="0.8" />
<line x1="24.8" y1="354.96" x2="27.5" y2="354.96" stroke="#231f20" stroke-width="0.8" />
<line x1="324.9" y1="354.96" x2="322.2" y2="354.96" stroke="#231f20" stroke-width="0.8" />
<line x1="24.8" y1="465.2" x2="30.3" y2="465.2" stroke="#231f20" stroke-width="0.8" />
<line x1="324.9" y1="465.2" x2="319.4" y2="465.2" stroke="#231f20" stroke-width="0.8" />
<text x="22.6" y="468.64" font-size="9.6" text-anchor="end" >0</text>
<line x1="24.8" y1="444" x2="30.3" y2="444" stroke="#231f20" stroke-width="0.8" />
<line x1="324.9" y1="444" x2="319.4" y2="444" stroke="#231f20" stroke-width="0.8" />
<text x="22.6" y="447.44" font-size="9.6" text-anchor="end" >10</text>
<line x1="24.8" y1="422.8" x2="30.3" y2="422.8" stroke="#231f20" stroke-width="0.8" />
<line x1="324.9" y1="422.8" x2="319.4" y2="422.8" stroke="#231f20" stroke-width="0.8" />
<text x="22.6" y="426.24" font-size="9.6" text-anchor="end" >20</text>
<line x1="24.8" y1="401.6" x2="30.3" y2="401.6" stroke="#231f20" stroke-width="0.8" />
<line x1="324.9" y1="401.6" x2="319.4" y2="401.6" stroke="#231f20" stroke-width="0.8" />
<text x="22.6" y="405.04" font-size="9.6" text-anchor="end" >30</text>
<line x1="24.8" y1="380.4" x2="30.3" y2="380.4" stroke="#231f20" stroke-width="0.8" />
<line x1="324.9" y1="380.4" x2="319.4" y2="380.4" stroke="#231f20" stroke-width="0.8" />
<text x="22.6" y="383.84" font-size="9.6" text-anchor="end" >40</text>
<line x1="24.8" y1="359.2" x2="30.3" y2="359.2" stroke="#231f20" stroke-width="0.8" />
<line x1="324.9" y1="359.2" x2="319.4" y2="359.2" stroke="#231f20" stroke-width="0.8" />
<text x="22.6" y="362.64" font-size="9.6" text-anchor="end" >50</text>
<line x1="37" y1="473.9" x2="37" y2="472.5" stroke="#231f20" stroke-width="0.8" />
<line x1="49.5" y1="473.9" x2="49.5" y2="472.5" stroke="#231f20" stroke-width="0.8" />
<line x1="62" y1="473.9" x2="62" y2="472.5" stroke="#231f20" stroke-width="0.8" />
<line x1="74.5" y1="473.9" x2="74.5" y2="472.5" stroke="#231f20" stroke-width="0.8" />
<line x1="87" y1="473.9" x2="87" y2="472.5" stroke="#231f20" stroke-width="0.8" />
<line x1="99.5" y1="473.9" x2="99.5" y2="472.5" stroke="#231f20" stroke-width="0.8" />
<line x1="112" y1="473.9" x2="112" y2="472.5" stroke="#231f20" stroke-width="0.8" />
<line x1="124.5" y1="473.9" x2="124.5" y2="472.5" stroke="#231f20" stroke-width="0.8" />
<line x1="137" y1="473.9" x2="137" y2="472.5" stroke="#231f20" stroke-width="0.8" />
<line x1="149.5" y1="473.9" x2="149.5" y2="472.5" stroke="#231f20" stroke-width="0.8" />
<line x1="162" y1="473.9" x2="162" y2="472.5" stroke="#231f20" stroke-width="0.8" />
<line x1="174.5" y1="473.9" x2="174.5" y2="472.5" stroke="#231f20" stroke-width="0.8" />
<line x1="187" y1="473.9" x2="187" y2="472.5" stroke="#231f20" stroke-width="0.8" />
<line x1="199.5" y1="473.9" x2="199.5" y2="472.5" stroke="#231f20" stroke-width="0.8" />
<line x1="212" y1="473.9" x2="212" y2="472.5" stroke="#231f20" stroke-width="0.8" />
<line x1="224.5" y1="473.9" x2="224.5" y2="472.5" stroke="#231f20" stroke-width="0.8" />
<line x1="237" y1="473.9" x2="237" y2="472.5" stroke="#231f20" stroke-width="0.8" />
<line x1="249.5" y1="473.9" x2="249.5" y2="472.5" stroke="#231f20" stroke-width="0.8" />
<line x1="262" y1="473.9" x2="262" y2="472.5" stroke="#231f20" stroke-width="0.8" />
<line x1="274.5" y1="473.9" x2="274.5" y2="472.5" stroke="#231f20" stroke-width="0.8" />
<line x1="287" y1="473.9" x2="287" y2="472.5" stroke="#231f20" stroke-width="0.8" />
<line x1="299.5" y1="473.9" x2="299.5" y2="472.5" stroke="#231f20" stroke-width="0.8" />
<line x1="37" y1="473.9" x2="37" y2="471.3" stroke="#231f20" stroke-width="0.8" />
<line x1="99.5" y1="473.9" x2="99.5" y2="471.3" stroke="#231f20" stroke-width="0.8" />
<line x1="162" y1="473.9" x2="162" y2="471.3" stroke="#231f20" stroke-width="0.8" />
<line x1="224.5" y1="473.9" x2="224.5" y2="471.3" stroke="#231f20" stroke-width="0.8" />
<line x1="287" y1="473.9" x2="287" y2="471.3" stroke="#231f20" stroke-width="0.8" />
<text x="37" y="482.7" font-size="8.8" text-anchor="middle" >2160</text>
<text x="99.5" y="482.7" font-size="8.8" text-anchor="middle" >2155</text>
<text x="162" y="482.7" font-size="8.8" text-anchor="middle" >2150</text>
<text x="224.5" y="482.7" font-size="8.8" text-anchor="middle" >2145</text>
<text x="287" y="482.7" font-size="8.8" text-anchor="middle" >2140</text>
<line x1="37.5" y1="352.6" x2="37.5" y2="357.1" stroke="#231f20" stroke-width="0.8" />
<line x1="286.9" y1="352.6" x2="286.9" y2="357.1" stroke="#231f20" stroke-width="0.8" />
<text x="38.1" y="350" font-size="8.7" text-anchor="middle" >4.630</text>
<text x="286.2" y="350" font-size="8.7" text-anchor="middle" >4.673</text>
<text x="141.1" y="347.5" font-size="10.47" text-anchor="start" textLength="77.7" lengthAdjust="spacingAndGlyphs" >Wavelength [μm]</text>
<text x="142.7" y="493.5" font-size="10.2" text-anchor="start" textLength="74.6" lengthAdjust="spacingAndGlyphs" >Frequency [cm<tspan font-size="6.12" dy="-3.87">-1</tspan><tspan dy="3.87">]</tspan></text>
<text transform="translate(8.5,414.15) rotate(-90)" x="0" y="0" font-size="8.8" text-anchor="middle" textLength="122.5" lengthAdjust="spacingAndGlyphs">Flux Density [10<tspan font-size="5.28" dy="-3.34">-18</tspan><tspan dy="3.34"> W m</tspan><tspan font-size="5.28" dy="-3.34">-2</tspan><tspan dy="3.34"> (cm</tspan><tspan font-size="5.28" dy="-3.34">-1</tspan><tspan dy="3.34">)</tspan><tspan font-size="5.28" dy="-3.34">-1</tspan><tspan dy="3.34">]</tspan></text>
<text x="33.32" y="373.7" font-size="16.9" text-anchor="start" textLength="10.45" lengthAdjust="spacingAndGlyphs" class="big">C</text>
<text x="219.62" y="369.5" font-size="16.9" text-anchor="start" textLength="21.85" lengthAdjust="spacingAndGlyphs" class="big">CO</text>
<text x="54.89" y="381" font-size="10.2" text-anchor="start" textLength="12.12" lengthAdjust="spacingAndGlyphs" >R3</text>
<text x="103.19" y="367.1" font-size="10.34" text-anchor="start" textLength="11.03" lengthAdjust="spacingAndGlyphs" >R2</text>
<text x="142.71" y="363.8" font-size="9.78" text-anchor="start" textLength="10.08" lengthAdjust="spacingAndGlyphs" >R1</text>
<text x="188.91" y="363.8" font-size="9.78" text-anchor="start" textLength="11.38" lengthAdjust="spacingAndGlyphs" >R0</text>
<text x="300.09" y="364.1" font-size="10.34" text-anchor="start" textLength="10.83" lengthAdjust="spacingAndGlyphs" >P1</text>
<clipPath id="cD"><rect x="24.6" y="521.3" width="298.9" height="130.9"/></clipPath>
<line x1="24.6" y1="521.3" x2="24.6" y2="652.2" stroke="#231f20" stroke-width="1" />
<line x1="323.5" y1="521.3" x2="323.5" y2="652.2" stroke="#231f20" stroke-width="1" />
<line x1="24.6" y1="521.3" x2="50.2" y2="521.3" stroke="#231f20" stroke-width="1" />
<line x1="62.5" y1="521.3" x2="194.7" y2="521.3" stroke="#231f20" stroke-width="1" />
<line x1="206" y1="521.3" x2="323.5" y2="521.3" stroke="#231f20" stroke-width="1" />
<line x1="24.6" y1="652.2" x2="50.2" y2="652.2" stroke="#231f20" stroke-width="1" />
<line x1="62.7" y1="652.2" x2="195" y2="652.2" stroke="#231f20" stroke-width="1" />
<line x1="205.7" y1="652.2" x2="323.5" y2="652.2" stroke="#231f20" stroke-width="1" />
<line x1="50.2" y1="521.3" x2="52.5" y2="528.3" stroke="#231f20" stroke-width="1" />
<line x1="60.7" y1="528.3" x2="62.5" y2="521.3" stroke="#231f20" stroke-width="1" />
<line x1="194.7" y1="521.3" x2="197" y2="528.3" stroke="#231f20" stroke-width="1" />
<line x1="204.2" y1="528.3" x2="206" y2="521.3" stroke="#231f20" stroke-width="1" />
<line x1="50.2" y1="652.2" x2="52.5" y2="644.2" stroke="#231f20" stroke-width="1" />
<line x1="60.9" y1="644.2" x2="62.7" y2="652.2" stroke="#231f20" stroke-width="1" />
<line x1="195" y1="652.2" x2="197.3" y2="644.2" stroke="#231f20" stroke-width="1" />
<line x1="203.9" y1="644.2" x2="205.7" y2="652.2" stroke="#231f20" stroke-width="1" />
<path d="M24.6,571 L41.6,571 L42,565.5 L42.4,571 L52,571" fill="none" stroke="#cc2936" stroke-width="1"/>
<path d="M61,571 L71.3,571 L71.7,558.5 L72.1,571 L112.8,571 L113.2,548.5 L113.6,571 L154.8,571 L155.2,551.7 L155.6,571 L188.2,571" fill="none" stroke="#cc2936" stroke-width="1"/>
<path d="M207.4,571 L227.6,571 L228,548.3 L228.4,571 L270.3,571 L270.7,530.3 L271.1,571 L314.2,571 L314.6,536.4 L315,571 L323.5,571" fill="none" stroke="#cc2936" stroke-width="1"/>
<path d="M25.10,633.35 L25.32,631.91 L25.54,629.47 L25.76,615.95 L25.99,630.04 L26.21,620.34 L26.43,645.48 L26.65,626.01 L26.87,628.82 L27.09,619.47 L27.31,624.15 L27.54,618.46 L27.76,634.37 L27.98,625.67 L28.20,631.44 L28.42,622.71 L28.64,623.99 L28.86,636.52 L29.09,620.70 L29.31,614.89 L29.53,630.34 L29.75,619.51 L29.97,624.42 L30.19,633.88 L30.41,621.77 L30.64,633.65 L30.86,622.73 L31.08,637.93 L31.30,636.78 L31.52,624.20 L31.74,626.01 L31.96,621.68 L32.19,628.90 L32.41,635.54 L32.63,617.37 L32.85,633.92 L33.07,618.23 L33.29,621.48 L33.51,614.99 L33.74,642.23 L33.96,627.91 L34.18,629.21 L34.40,622.77 L34.62,634.97 L34.84,612.78 L35.06,627.69 L35.29,642.95 L35.51,624.83 L35.73,627.62 L35.95,632.21 L36.17,621.82 L36.39,627.66 L36.61,634.23 L36.84,628.86 L37.06,630.10 L37.28,625.05 L37.50,629.71 L37.72,627.89 L37.94,637.69 L38.16,632.57 L38.39,625.79 L38.61,610.37 L38.83,632.51 L39.05,632.79 L39.27,621.08 L39.49,613.51 L39.71,619.51 L39.94,633.98 L40.16,620.05 L40.38,624.28 L40.60,629.04 L40.82,636.07 L41.04,627.37 L41.26,626.80 L41.49,623.66 L41.71,638.91 L41.93,634.96 L42.15,626.83 L42.37,617.72 L42.59,621.97 L42.81,631.56 L43.04,622.45 L43.26,633.75 L43.48,630.03 L43.70,629.55 L43.92,632.07 L44.14,630.99 L44.36,621.51 L44.59,625.22 L44.81,643.88 L45.03,619.05 L45.25,624.18 L45.47,634.96 L45.69,626.39 L45.91,621.82 L46.14,618.24 L46.36,631.25 L46.58,634.64 L46.80,637.30" fill="none" stroke="#000" stroke-width="0.85" clip-path="url(#cD)"/>
<path d="M69.40,627.88 L69.62,634.81 L69.84,620.27 L70.06,628.68 L70.28,622.76 L70.50,628.72 L70.72,632.75 L70.94,634.99 L71.16,620.57 L71.38,636.37 L71.60,624.18 L71.82,620.32 L72.04,626.31 L72.26,617.26 L72.48,627.53 L72.70,629.53 L72.92,626.10 L73.14,631.25 L73.36,625.30 L73.58,627.53 L73.81,617.42 L74.03,627.80 L74.25,621.54 L74.47,624.35 L74.69,626.84 L74.91,628.84 L75.13,615.97 L75.35,616.56 L75.57,625.39 L75.79,630.82 L76.01,630.02 L76.23,633.75 L76.45,636.61 L76.67,630.98 L76.89,627.36 L77.11,620.28 L77.33,620.88 L77.55,624.23 L77.77,629.37 L77.99,629.05 L78.21,627.53 L78.43,626.43 L78.65,631.91 L78.87,628.96 L79.09,629.58 L79.31,629.66 L79.53,623.68 L79.75,620.28 L79.97,630.94 L80.19,630.42 L80.41,625.96 L80.63,624.59 L80.85,643.45 L81.07,622.19 L81.29,625.98 L81.51,629.36 L81.73,619.42 L81.95,628.32 L82.17,640.08 L82.40,634.04 L82.62,631.93 L82.84,631.65 L83.06,628.28 L83.28,634.21 L83.50,626.41 L83.72,624.54 L83.94,628.21 L84.16,633.84 L84.38,629.81 L84.60,632.22 L84.82,613.33 L85.04,635.85 L85.26,643.88 L85.48,636.84 L85.70,625.28 L85.92,621.56 L86.14,629.44 L86.36,620.59 L86.58,632.58 L86.80,623.82 L87.02,634.22 L87.24,637.03 L87.46,613.27 L87.68,629.55 L87.90,622.61 L88.12,617.63 L88.34,623.18 L88.56,625.97 L88.78,634.74 L89.00,616.85 L89.22,634.86 L89.44,641.63 L89.66,631.68 L89.88,631.32 L90.10,627.41 L90.32,619.27 L90.54,631.24 L90.77,630.19 L90.99,632.62 L91.21,645.48 L91.43,632.59 L91.65,630.48 L91.87,638.43 L92.09,618.08 L92.31,619.50 L92.53,624.87 L92.75,622.92 L92.97,632.36 L93.19,625.28 L93.41,639.68 L93.63,638.14 L93.85,632.89 L94.07,624.80 L94.29,631.82 L94.51,633.18 L94.73,620.03 L94.95,629.94 L95.17,632.44 L95.39,629.02 L95.61,638.50 L95.83,636.00 L96.05,621.72 L96.27,628.37 L96.49,621.65 L96.71,631.56 L96.93,621.43 L97.15,633.96 L97.37,630.22 L97.59,634.30 L97.81,626.48 L98.03,617.31 L98.25,639.86 L98.47,626.29 L98.69,637.14 L98.91,630.51 L99.13,632.22 L99.36,640.31 L99.58,629.88 L99.80,637.30 L100.02,617.11 L100.24,633.60 L100.46,625.81 L100.68,626.56 L100.90,627.56 L101.12,629.93 L101.34,639.10 L101.56,614.52 L101.78,627.81 L102.00,622.48 L102.22,635.66 L102.44,624.54 L102.66,630.70 L102.88,624.72 L103.10,632.18 L103.32,634.60 L103.54,624.72 L103.76,627.84 L103.98,617.56 L104.20,629.64 L104.42,633.49 L104.64,623.61 L104.86,635.34 L105.08,612.99 L105.30,614.54 L105.52,617.78 L105.74,624.11 L105.96,627.63 L106.18,626.95 L106.40,627.03 L106.62,632.57 L106.84,624.20 L107.06,618.65 L107.28,618.79 L107.50,642.29 L107.72,611.04 L107.95,626.27 L108.17,637.71 L108.39,630.88 L108.61,621.69 L108.83,627.52 L109.05,633.55 L109.27,635.96 L109.49,621.20 L109.71,632.82 L109.93,629.27 L110.15,635.23 L110.37,637.23 L110.59,625.10 L110.81,617.35 L111.03,630.27 L111.25,639.94 L111.47,632.30 L111.69,629.11 L111.91,644.31 L112.13,620.22 L112.35,633.82 L112.57,623.51 L112.79,627.85 L113.01,628.13 L113.23,638.10 L113.45,620.95 L113.67,623.75 L113.89,616.35 L114.11,630.91 L114.33,624.29 L114.55,630.45 L114.77,619.99 L114.99,624.98 L115.21,634.77 L115.43,626.28 L115.65,631.88 L115.87,631.20 L116.09,625.03 L116.31,616.58 L116.54,634.40 L116.76,628.69 L116.98,634.38 L117.20,613.41 L117.42,615.92 L117.64,612.50 L117.86,621.36 L118.08,634.79 L118.30,631.46 L118.52,627.26 L118.74,628.42 L118.96,632.83 L119.18,625.38 L119.40,630.27 L119.62,628.48 L119.84,612.19 L120.06,624.81 L120.28,637.01 L120.50,624.73 L120.72,626.50 L120.94,623.25 L121.16,624.11 L121.38,635.37 L121.60,625.62 L121.82,620.35 L122.04,605.72 L122.26,623.49 L122.48,613.73 L122.70,614.73 L122.92,633.07 L123.14,632.46 L123.36,614.08 L123.58,633.46 L123.80,630.72 L124.02,622.02 L124.24,632.64 L124.46,616.11 L124.68,619.07 L124.90,617.42 L125.13,619.72 L125.35,633.65 L125.57,618.16 L125.79,619.44 L126.01,620.84 L126.23,628.87 L126.45,625.12 L126.67,633.54 L126.89,622.52 L127.11,618.47 L127.33,623.97 L127.55,627.74 L127.77,620.96 L127.99,629.42 L128.21,640.18 L128.43,623.38 L128.65,627.75 L128.87,636.90 L129.09,622.90 L129.31,621.49 L129.53,619.76 L129.75,630.20 L129.97,631.01 L130.19,626.36 L130.41,627.69 L130.63,636.30 L130.85,633.45 L131.07,617.56 L131.29,627.29 L131.51,628.09 L131.73,632.39 L131.95,625.77 L132.17,622.81 L132.39,624.12 L132.61,614.87 L132.83,627.13 L133.05,623.13 L133.27,630.57 L133.50,620.11 L133.72,624.24 L133.94,620.44 L134.16,619.82 L134.38,632.17 L134.60,624.01 L134.82,630.37 L135.04,619.42 L135.26,627.93 L135.48,615.42 L135.70,623.89 L135.92,623.72 L136.14,631.31 L136.36,628.48 L136.58,625.99 L136.80,633.08 L137.02,628.55 L137.24,630.97 L137.46,632.57 L137.68,626.74 L137.90,625.15 L138.12,629.49 L138.34,624.28 L138.56,629.90 L138.78,634.94 L139.00,633.16 L139.22,624.52 L139.44,618.20 L139.66,626.79 L139.88,626.30 L140.10,634.91 L140.32,624.50 L140.54,625.72 L140.76,632.32 L140.98,623.84 L141.20,626.06 L141.42,639.15 L141.64,637.58 L141.86,631.57 L142.09,629.05 L142.31,620.40 L142.53,631.07 L142.75,627.58 L142.97,628.71 L143.19,623.55 L143.41,627.09 L143.63,625.88 L143.85,629.37 L144.07,637.15 L144.29,629.70 L144.51,615.59 L144.73,620.39 L144.95,616.10 L145.17,621.63 L145.39,631.07 L145.61,629.97 L145.83,622.98 L146.05,629.03 L146.27,621.88 L146.49,617.24 L146.71,617.34 L146.93,621.16 L147.15,637.09 L147.37,617.80 L147.59,635.85 L147.81,636.44 L148.03,625.89 L148.25,626.81 L148.47,622.87 L148.69,626.98 L148.91,631.75 L149.13,627.21 L149.35,634.11 L149.57,635.44 L149.79,629.55 L150.01,629.43 L150.23,626.71 L150.45,629.56 L150.68,619.36 L150.90,629.97 L151.12,628.57 L151.34,621.12 L151.56,642.17 L151.78,620.35 L152.00,621.07 L152.22,629.08 L152.44,613.60 L152.66,621.61 L152.88,616.48 L153.10,620.38 L153.32,626.20 L153.54,629.36 L153.76,634.84 L153.98,632.76 L154.20,635.40 L154.42,631.24 L154.64,623.85 L154.86,634.92 L155.08,623.71 L155.30,622.83 L155.52,637.81 L155.74,632.63 L155.96,628.65 L156.18,632.38 L156.40,633.26 L156.62,617.59 L156.84,626.46 L157.06,618.87 L157.28,627.97 L157.50,622.42 L157.72,636.61 L157.94,630.74 L158.16,621.44 L158.38,626.98 L158.60,618.64 L158.82,627.40 L159.04,630.94 L159.27,628.95 L159.49,613.62 L159.71,624.76 L159.93,630.67 L160.15,629.25 L160.37,635.21 L160.59,618.12 L160.81,630.77 L161.03,622.55 L161.25,628.47 L161.47,629.94 L161.69,631.91 L161.91,623.07 L162.13,628.39 L162.35,618.93 L162.57,617.23 L162.79,630.98 L163.01,626.72 L163.23,615.77 L163.45,621.15 L163.67,627.23 L163.89,637.98 L164.11,634.41 L164.33,632.68 L164.55,614.60 L164.77,626.41 L164.99,630.43 L165.21,629.85 L165.43,630.00 L165.65,625.46 L165.87,639.39 L166.09,637.42 L166.31,626.44 L166.53,620.24 L166.75,641.46 L166.97,623.22 L167.19,635.47 L167.41,640.45 L167.63,620.49 L167.86,629.12 L168.08,624.66 L168.30,630.69 L168.52,629.33 L168.74,640.71 L168.96,631.22 L169.18,627.03 L169.40,634.97 L169.62,625.19 L169.84,624.53 L170.06,642.76 L170.28,621.34 L170.50,623.67 L170.72,627.40 L170.94,619.69 L171.16,612.33 L171.38,634.48 L171.60,621.60 L171.82,623.30 L172.04,624.48 L172.26,620.22 L172.48,619.57 L172.70,628.21 L172.92,643.87 L173.14,632.24 L173.36,632.32 L173.58,616.55 L173.80,626.92 L174.02,618.81 L174.24,632.49 L174.46,625.49 L174.68,627.36 L174.90,626.47 L175.12,623.00 L175.34,616.44 L175.56,631.14 L175.78,617.41 L176.00,618.82 L176.23,625.00 L176.45,622.14 L176.67,628.92 L176.89,634.16 L177.11,628.83 L177.33,628.47 L177.55,627.25 L177.77,633.09 L177.99,614.17 L178.21,629.66 L178.43,620.56 L178.65,618.46 L178.87,627.12 L179.09,624.38 L179.31,631.17 L179.53,634.79 L179.75,610.81 L179.97,626.58 L180.19,640.80 L180.41,633.16 L180.63,637.21 L180.85,627.80 L181.07,617.04 L181.29,619.21 L181.51,632.07 L181.73,633.80 L181.95,621.97 L182.17,625.21 L182.39,628.92 L182.61,614.84 L182.83,624.64 L183.05,638.41 L183.27,642.39 L183.49,626.33 L183.71,639.91 L183.93,623.41 L184.15,621.42 L184.37,611.42 L184.59,633.79 L184.82,624.47 L185.04,643.47 L185.26,629.41 L185.48,628.41 L185.70,614.45 L185.92,637.59 L186.14,624.55 L186.36,625.97 L186.58,611.65 L186.80,633.58 L187.02,634.02 L187.24,622.85 L187.46,627.75 L187.68,629.85 L187.90,633.84 L188.12,627.83 L188.34,639.16 L188.56,625.41 L188.78,622.86 L189.00,623.84" fill="none" stroke="#000" stroke-width="0.85" clip-path="url(#cD)"/>
<path d="M210.20,609.34 L210.42,621.46 L210.64,634.16 L210.86,628.96 L211.08,621.38 L211.30,629.56 L211.52,612.98 L211.74,625.12 L211.96,630.79 L212.18,632.00 L212.40,621.69 L212.62,633.51 L212.84,640.21 L213.06,624.13 L213.28,632.31 L213.50,616.22 L213.72,613.39 L213.94,631.41 L214.16,627.43 L214.38,628.53 L214.60,623.05 L214.82,625.07 L215.04,632.81 L215.26,639.16 L215.48,625.62 L215.70,615.58 L215.93,636.06 L216.15,631.36 L216.37,631.91 L216.59,628.41 L216.81,643.41 L217.03,627.67 L217.25,630.74 L217.47,614.16 L217.69,623.09 L217.91,622.33 L218.13,626.93 L218.35,629.58 L218.57,621.89 L218.79,639.26 L219.01,619.68 L219.23,623.99 L219.45,628.81 L219.67,618.38 L219.89,631.14 L220.11,631.57 L220.33,625.09 L220.55,640.51 L220.77,627.71 L220.99,629.11 L221.21,620.42 L221.43,615.41 L221.65,622.72 L221.87,624.89 L222.09,623.95 L222.31,632.53 L222.53,610.43 L222.75,619.20 L222.97,614.35 L223.19,636.54 L223.41,623.18 L223.63,623.54 L223.85,619.43 L224.07,633.44 L224.29,624.26 L224.51,628.70 L224.73,612.89 L224.95,635.35 L225.17,629.91 L225.39,631.01 L225.61,635.81 L225.83,625.79 L226.05,625.98 L226.27,632.18 L226.49,630.14 L226.71,625.44 L226.93,627.46 L227.16,623.62 L227.38,632.16 L227.60,590.50 L227.82,627.19 L228.04,640.33 L228.26,616.37 L228.48,625.52 L228.70,639.16 L228.92,624.20 L229.14,615.94 L229.36,636.95 L229.58,630.99 L229.80,618.79 L230.02,632.60 L230.24,619.99 L230.46,617.76 L230.68,626.10 L230.90,623.79 L231.12,619.46 L231.34,624.60 L231.56,620.12 L231.78,627.59 L232.00,627.00 L232.22,632.39 L232.44,623.98 L232.66,617.82 L232.88,617.91 L233.10,625.44 L233.32,637.95 L233.54,633.12 L233.76,622.67 L233.98,633.78 L234.20,619.03 L234.42,634.28 L234.64,624.48 L234.86,632.56 L235.08,631.54 L235.30,625.22 L235.52,629.47 L235.74,619.68 L235.96,626.65 L236.18,634.77 L236.40,655.93 L236.62,632.11 L236.84,627.79 L237.06,620.07 L237.28,634.61 L237.50,615.55 L237.72,621.54 L237.94,629.69 L238.16,618.71 L238.39,637.99 L238.61,634.85 L238.83,623.19 L239.05,623.28 L239.27,617.92 L239.49,617.34 L239.71,630.28 L239.93,631.56 L240.15,629.64 L240.37,629.04 L240.59,623.24 L240.81,629.71 L241.03,616.84 L241.25,627.23 L241.47,637.53 L241.69,636.47 L241.91,623.92 L242.13,624.83 L242.35,636.86 L242.57,639.73 L242.79,616.67 L243.01,624.18 L243.23,628.82 L243.45,635.74 L243.67,621.29 L243.89,631.69 L244.11,625.07 L244.33,643.87 L244.55,630.20 L244.77,626.23 L244.99,624.83 L245.21,634.60 L245.43,631.95 L245.65,619.57 L245.87,628.71 L246.09,617.77 L246.31,621.87 L246.53,618.09 L246.75,617.87 L246.97,622.36 L247.19,620.30 L247.41,630.89 L247.63,632.78 L247.85,625.51 L248.07,619.32 L248.29,632.84 L248.51,612.96 L248.73,613.61 L248.95,632.30 L249.17,631.80 L249.39,634.04 L249.62,625.67 L249.84,618.32 L250.06,623.61 L250.28,631.17 L250.50,621.80 L250.72,622.25 L250.94,617.38 L251.16,619.01 L251.38,633.11 L251.60,630.38 L251.82,619.02 L252.04,619.59 L252.26,623.23 L252.48,631.04 L252.70,618.97 L252.92,626.00 L253.14,612.11 L253.36,618.35 L253.58,630.14 L253.80,633.50 L254.02,619.06 L254.24,621.75 L254.46,632.80 L254.68,624.44 L254.90,623.38 L255.12,630.84 L255.34,628.57 L255.56,635.01 L255.78,632.77 L256.00,623.14 L256.22,626.36 L256.44,626.77 L256.66,617.66 L256.88,620.35 L257.10,634.03 L257.32,616.04 L257.54,634.19 L257.76,629.20 L257.98,626.22 L258.20,630.98 L258.42,630.55 L258.64,635.70 L258.86,624.39 L259.08,625.60 L259.30,625.47 L259.52,640.43 L259.74,633.85 L259.96,620.71 L260.18,624.86 L260.40,622.25 L260.62,627.30 L260.85,628.71 L261.07,643.32 L261.29,614.39 L261.51,634.44 L261.73,630.28 L261.95,622.29 L262.17,626.17 L262.39,623.74 L262.61,627.57 L262.83,634.29 L263.05,616.56 L263.27,636.45 L263.49,624.60 L263.71,637.78 L263.93,630.12 L264.15,635.89 L264.37,631.21 L264.59,634.86 L264.81,627.64 L265.03,621.41 L265.25,631.96 L265.47,632.24 L265.69,641.98 L265.91,613.18 L266.13,585.60 L266.35,634.71 L266.57,618.46 L266.79,625.66 L267.01,642.12 L267.23,637.20 L267.45,621.09 L267.67,637.27 L267.89,635.58 L268.11,632.72 L268.33,629.95 L268.55,628.95 L268.77,621.17 L268.99,623.65 L269.21,632.42 L269.43,628.27 L269.65,640.26 L269.87,624.95 L270.09,610.45 L270.31,624.95 L270.53,629.24 L270.75,577.50 L270.97,627.77 L271.19,621.53 L271.41,637.78 L271.63,622.64 L271.85,632.29 L272.08,625.29 L272.30,618.91 L272.52,637.22 L272.74,609.72 L272.96,621.34 L273.18,630.35 L273.40,624.82 L273.62,632.58 L273.84,626.62 L274.06,624.15 L274.28,642.47 L274.50,625.79 L274.72,626.23 L274.94,619.75 L275.16,622.10 L275.38,631.89 L275.60,631.29 L275.82,627.36 L276.04,622.44 L276.26,632.16 L276.48,615.42 L276.70,624.96 L276.92,625.59 L277.14,621.44 L277.36,628.44 L277.58,622.69 L277.80,621.75 L278.02,640.00 L278.24,632.57 L278.46,635.79 L278.68,627.75 L278.90,634.15 L279.12,632.87 L279.34,635.90 L279.56,643.99 L279.78,625.83 L280.00,629.23 L280.22,627.06 L280.44,602.81 L280.66,617.65 L280.88,627.56 L281.10,631.87 L281.32,623.41 L281.54,635.39 L281.76,636.44 L281.98,624.56 L282.20,637.42 L282.42,639.72 L282.64,630.71 L282.86,620.60 L283.08,637.75 L283.31,626.33 L283.53,624.83 L283.75,628.29 L283.97,623.72 L284.19,634.99 L284.41,596.40 L284.63,636.03 L284.85,631.56 L285.07,621.94 L285.29,626.38 L285.51,633.63 L285.73,624.65 L285.95,647.94 L286.17,625.80 L286.39,623.40 L286.61,635.54 L286.83,632.73 L287.05,627.30 L287.27,625.89 L287.49,630.49 L287.71,633.35 L287.93,632.84 L288.15,625.39 L288.37,630.52 L288.59,633.41 L288.81,632.85 L289.03,605.90 L289.25,621.27 L289.47,622.07 L289.69,625.89 L289.91,628.75 L290.13,633.95 L290.35,631.82 L290.57,626.61 L290.79,627.66 L291.01,639.81 L291.23,623.21 L291.45,629.63 L291.67,638.46 L291.89,629.92 L292.11,613.20 L292.33,630.12 L292.55,624.79 L292.77,626.71 L292.99,634.86 L293.21,630.79 L293.43,625.65 L293.65,633.74 L293.87,630.55 L294.09,628.24 L294.31,629.61 L294.54,629.27 L294.76,625.12 L294.98,624.29 L295.20,627.68 L295.42,620.82 L295.64,618.69 L295.86,636.61 L296.08,625.82 L296.30,627.33 L296.52,626.55 L296.74,627.66 L296.96,627.66 L297.18,627.96 L297.40,621.87 L297.62,634.02 L297.84,622.66 L298.06,634.74 L298.28,614.07 L298.50,620.07 L298.72,634.44 L298.94,626.46 L299.16,622.80 L299.38,630.13 L299.60,620.18 L299.82,628.04 L300.04,611.99 L300.26,624.33 L300.48,622.95 L300.70,631.28 L300.92,633.63 L301.14,621.52 L301.36,638.76 L301.58,623.36 L301.80,613.11 L302.02,610.84 L302.24,638.27 L302.46,626.89 L302.68,622.97 L302.90,622.26 L303.12,619.85 L303.34,636.97 L303.56,626.91 L303.78,640.03 L304.00,626.11 L304.22,611.05 L304.44,633.41 L304.66,624.92 L304.88,625.84 L305.10,638.47 L305.32,625.66 L305.54,635.63 L305.77,627.47 L305.99,622.24 L306.21,631.05 L306.43,623.30 L306.65,636.10 L306.87,634.22 L307.09,627.94 L307.31,631.77 L307.53,631.45 L307.75,625.57 L307.97,633.77 L308.19,625.91 L308.41,631.81 L308.63,620.85 L308.85,628.21 L309.07,630.41 L309.29,621.98 L309.51,624.60 L309.73,623.78 L309.95,632.61 L310.17,622.48 L310.39,630.59 L310.61,638.20 L310.83,630.03 L311.05,616.25 L311.27,628.42 L311.49,634.83 L311.71,625.54 L311.93,635.31 L312.15,631.87 L312.37,630.50 L312.59,625.72 L312.81,623.97 L313.03,625.76 L313.25,628.00 L313.47,631.22 L313.69,630.51 L313.91,625.46 L314.13,628.03 L314.35,630.29 L314.57,587.60 L314.79,622.20 L315.01,621.99 L315.23,626.16 L315.45,625.66 L315.67,625.78 L315.89,621.48 L316.11,632.30 L316.33,629.54 L316.55,616.10 L316.77,627.69 L317.00,619.72 L317.22,639.52 L317.44,624.42 L317.66,624.85 L317.88,628.20 L318.10,626.21 L318.32,627.20 L318.54,638.44 L318.76,629.20 L318.98,633.46 L319.20,635.51 L319.42,620.79 L319.64,639.44 L319.86,632.44 L320.08,634.32 L320.30,621.58 L320.52,633.34 L320.74,630.52 L320.96,623.86 L321.18,643.61 L321.40,631.59 L321.62,625.95 L321.84,628.99 L322.06,634.00 L322.28,635.54 L322.50,631.70" fill="none" stroke="#000" stroke-width="0.85" clip-path="url(#cD)"/>
<path d="M24.60,621.45 L30.15,622.27 L35.70,621.60 L41.25,621.34 L46.80,620.84" fill="none" stroke="#ed1c24" stroke-width="2.2" stroke-dasharray="2.6 2.1"/>
<path d="M24.60,632.89 L30.15,633.69 L35.70,634.06 L41.25,633.50 L46.80,633.35" fill="none" stroke="#ed1c24" stroke-width="2.2" stroke-dasharray="2.6 2.1"/>
<path d="M69.40,621.83 L75.38,621.55 L81.36,621.50 L87.34,621.68 L93.32,620.69 L99.30,621.13 L105.28,621.33 L111.26,621.65 L117.24,621.13 L123.22,620.71 L129.20,620.40 L135.18,620.55 L141.16,620.60 L147.14,620.68 L153.12,621.67 L159.10,622.40 L165.08,622.02 L171.06,621.67 L177.04,622.62 L183.02,622.46 L189.00,623.15" fill="none" stroke="#ed1c24" stroke-width="2.2" stroke-dasharray="2.6 2.1"/>
<path d="M69.40,635.15 L75.38,635.06 L81.36,634.93 L87.34,634.98 L93.32,634.52 L99.30,633.99 L105.28,633.78 L111.26,634.26 L117.24,634.03 L123.22,633.92 L129.20,633.68 L135.18,632.94 L141.16,633.77 L147.14,632.49 L153.12,632.14 L159.10,632.46 L165.08,631.85 L171.06,632.05 L177.04,632.75 L183.02,632.28 L189.00,632.41" fill="none" stroke="#ed1c24" stroke-width="2.2" stroke-dasharray="2.6 2.1"/>
<path d="M210.20,619.85 L216.11,620.02 L222.02,620.08 L227.93,620.21 L233.84,620.97 L239.75,621.24 L245.66,621.99 L251.57,622.35 L257.48,621.70 L263.39,621.85 L269.31,622.13 L275.22,621.35 L281.13,622.09 L287.04,622.14 L292.95,622.35 L298.86,621.87 L304.77,621.92 L310.68,622.10 L316.59,621.93 L322.50,621.98" fill="none" stroke="#ed1c24" stroke-width="2.2" stroke-dasharray="2.6 2.1"/>
<path d="M210.20,634.39 L216.11,635.15 L222.02,634.54 L227.93,633.35 L233.84,632.84 L239.75,632.39 L245.66,632.70 L251.57,632.21 L257.48,632.37 L263.39,631.85 L269.31,633.08 L275.22,633.39 L281.13,634.47 L287.04,633.93 L292.95,634.30 L298.86,633.79 L304.77,634.11 L310.68,634.50 L316.59,633.63 L322.50,633.01" fill="none" stroke="#ed1c24" stroke-width="2.2" stroke-dasharray="2.6 2.1"/>
<line x1="24.6" y1="648.68" x2="27.3" y2="648.68" stroke="#231f20" stroke-width="0.8" />
<line x1="323.5" y1="648.68" x2="320.8" y2="648.68" stroke="#231f20" stroke-width="0.8" />
<line x1="24.6" y1="645.15" x2="27.3" y2="645.15" stroke="#231f20" stroke-width="0.8" />
<line x1="323.5" y1="645.15" x2="320.8" y2="645.15" stroke="#231f20" stroke-width="0.8" />
<line x1="24.6" y1="641.62" x2="27.3" y2="641.62" stroke="#231f20" stroke-width="0.8" />
<line x1="323.5" y1="641.62" x2="320.8" y2="641.62" stroke="#231f20" stroke-width="0.8" />
<line x1="24.6" y1="638.09" x2="27.3" y2="638.09" stroke="#231f20" stroke-width="0.8" />
<line x1="323.5" y1="638.09" x2="320.8" y2="638.09" stroke="#231f20" stroke-width="0.8" />
<line x1="24.6" y1="634.56" x2="27.3" y2="634.56" stroke="#231f20" stroke-width="0.8" />
<line x1="323.5" y1="634.56" x2="320.8" y2="634.56" stroke="#231f20" stroke-width="0.8" />
<line x1="24.6" y1="631.03" x2="27.3" y2="631.03" stroke="#231f20" stroke-width="0.8" />
<line x1="323.5" y1="631.03" x2="320.8" y2="631.03" stroke="#231f20" stroke-width="0.8" />
<line x1="24.6" y1="623.97" x2="27.3" y2="623.97" stroke="#231f20" stroke-width="0.8" />
<line x1="323.5" y1="623.97" x2="320.8" y2="623.97" stroke="#231f20" stroke-width="0.8" />
<line x1="24.6" y1="620.44" x2="27.3" y2="620.44" stroke="#231f20" stroke-width="0.8" />
<line x1="323.5" y1="620.44" x2="320.8" y2="620.44" stroke="#231f20" stroke-width="0.8" />
<line x1="24.6" y1="616.91" x2="27.3" y2="616.91" stroke="#231f20" stroke-width="0.8" />
<line x1="323.5" y1="616.91" x2="320.8" y2="616.91" stroke="#231f20" stroke-width="0.8" />
<line x1="24.6" y1="613.38" x2="27.3" y2="613.38" stroke="#231f20" stroke-width="0.8" />
<line x1="323.5" y1="613.38" x2="320.8" y2="613.38" stroke="#231f20" stroke-width="0.8" />
<line x1="24.6" y1="609.85" x2="27.3" y2="609.85" stroke="#231f20" stroke-width="0.8" />
<line x1="323.5" y1="609.85" x2="320.8" y2="609.85" stroke="#231f20" stroke-width="0.8" />
<line x1="24.6" y1="606.32" x2="27.3" y2="606.32" stroke="#231f20" stroke-width="0.8" />
<line x1="323.5" y1="606.32" x2="320.8" y2="606.32" stroke="#231f20" stroke-width="0.8" />
<line x1="24.6" y1="602.79" x2="27.3" y2="602.79" stroke="#231f20" stroke-width="0.8" />
<line x1="323.5" y1="602.79" x2="320.8" y2="602.79" stroke="#231f20" stroke-width="0.8" />
<line x1="24.6" y1="599.26" x2="27.3" y2="599.26" stroke="#231f20" stroke-width="0.8" />
<line x1="323.5" y1="599.26" x2="320.8" y2="599.26" stroke="#231f20" stroke-width="0.8" />
<line x1="24.6" y1="595.73" x2="27.3" y2="595.73" stroke="#231f20" stroke-width="0.8" />
<line x1="323.5" y1="595.73" x2="320.8" y2="595.73" stroke="#231f20" stroke-width="0.8" />
<line x1="24.6" y1="588.67" x2="27.3" y2="588.67" stroke="#231f20" stroke-width="0.8" />
<line x1="323.5" y1="588.67" x2="320.8" y2="588.67" stroke="#231f20" stroke-width="0.8" />
<line x1="24.6" y1="585.14" x2="27.3" y2="585.14" stroke="#231f20" stroke-width="0.8" />
<line x1="323.5" y1="585.14" x2="320.8" y2="585.14" stroke="#231f20" stroke-width="0.8" />
<line x1="24.6" y1="581.61" x2="27.3" y2="581.61" stroke="#231f20" stroke-width="0.8" />
<line x1="323.5" y1="581.61" x2="320.8" y2="581.61" stroke="#231f20" stroke-width="0.8" />
<line x1="24.6" y1="578.08" x2="27.3" y2="578.08" stroke="#231f20" stroke-width="0.8" />
<line x1="323.5" y1="578.08" x2="320.8" y2="578.08" stroke="#231f20" stroke-width="0.8" />
<line x1="24.6" y1="574.55" x2="27.3" y2="574.55" stroke="#231f20" stroke-width="0.8" />
<line x1="323.5" y1="574.55" x2="320.8" y2="574.55" stroke="#231f20" stroke-width="0.8" />
<line x1="24.6" y1="571.02" x2="27.3" y2="571.02" stroke="#231f20" stroke-width="0.8" />
<line x1="323.5" y1="571.02" x2="320.8" y2="571.02" stroke="#231f20" stroke-width="0.8" />
<line x1="24.6" y1="567.49" x2="27.3" y2="567.49" stroke="#231f20" stroke-width="0.8" />
<line x1="323.5" y1="567.49" x2="320.8" y2="567.49" stroke="#231f20" stroke-width="0.8" />
<line x1="24.6" y1="563.96" x2="27.3" y2="563.96" stroke="#231f20" stroke-width="0.8" />
<line x1="323.5" y1="563.96" x2="320.8" y2="563.96" stroke="#231f20" stroke-width="0.8" />
<line x1="24.6" y1="560.43" x2="27.3" y2="560.43" stroke="#231f20" stroke-width="0.8" />
<line x1="323.5" y1="560.43" x2="320.8" y2="560.43" stroke="#231f20" stroke-width="0.8" />
<line x1="24.6" y1="553.37" x2="27.3" y2="553.37" stroke="#231f20" stroke-width="0.8" />
<line x1="323.5" y1="553.37" x2="320.8" y2="553.37" stroke="#231f20" stroke-width="0.8" />
<line x1="24.6" y1="549.84" x2="27.3" y2="549.84" stroke="#231f20" stroke-width="0.8" />
<line x1="323.5" y1="549.84" x2="320.8" y2="549.84" stroke="#231f20" stroke-width="0.8" />
<line x1="24.6" y1="546.31" x2="27.3" y2="546.31" stroke="#231f20" stroke-width="0.8" />
<line x1="323.5" y1="546.31" x2="320.8" y2="546.31" stroke="#231f20" stroke-width="0.8" />
<line x1="24.6" y1="542.78" x2="27.3" y2="542.78" stroke="#231f20" stroke-width="0.8" />
<line x1="323.5" y1="542.78" x2="320.8" y2="542.78" stroke="#231f20" stroke-width="0.8" />
<line x1="24.6" y1="539.25" x2="27.3" y2="539.25" stroke="#231f20" stroke-width="0.8" />
<line x1="323.5" y1="539.25" x2="320.8" y2="539.25" stroke="#231f20" stroke-width="0.8" />
<line x1="24.6" y1="535.72" x2="27.3" y2="535.72" stroke="#231f20" stroke-width="0.8" />
<line x1="323.5" y1="535.72" x2="320.8" y2="535.72" stroke="#231f20" stroke-width="0.8" />
<line x1="24.6" y1="532.19" x2="27.3" y2="532.19" stroke="#231f20" stroke-width="0.8" />
<line x1="323.5" y1="532.19" x2="320.8" y2="532.19" stroke="#231f20" stroke-width="0.8" />
<line x1="24.6" y1="528.66" x2="27.3" y2="528.66" stroke="#231f20" stroke-width="0.8" />
<line x1="323.5" y1="528.66" x2="320.8" y2="528.66" stroke="#231f20" stroke-width="0.8" />
<line x1="24.6" y1="525.13" x2="27.3" y2="525.13" stroke="#231f20" stroke-width="0.8" />
<line x1="323.5" y1="525.13" x2="320.8" y2="525.13" stroke="#231f20" stroke-width="0.8" />
<line x1="24.6" y1="627.5" x2="30.1" y2="627.5" stroke="#231f20" stroke-width="0.8" />
<line x1="323.5" y1="627.5" x2="318" y2="627.5" stroke="#231f20" stroke-width="0.8" />
<text x="22.6" y="631.44" font-size="11" text-anchor="end" >0</text>
<line x1="24.6" y1="592.2" x2="30.1" y2="592.2" stroke="#231f20" stroke-width="0.8" />
<line x1="323.5" y1="592.2" x2="318" y2="592.2" stroke="#231f20" stroke-width="0.8" />
<text x="22.6" y="596.14" font-size="11" text-anchor="end" >10</text>
<line x1="24.6" y1="556.9" x2="30.1" y2="556.9" stroke="#231f20" stroke-width="0.8" />
<line x1="323.5" y1="556.9" x2="318" y2="556.9" stroke="#231f20" stroke-width="0.8" />
<text x="22.6" y="560.84" font-size="11" text-anchor="end" >20</text>
<line x1="24.6" y1="521.6" x2="30.1" y2="521.6" stroke="#231f20" stroke-width="0.8" />
<line x1="323.5" y1="521.6" x2="318" y2="521.6" stroke="#231f20" stroke-width="0.8" />
<text x="22.6" y="525.54" font-size="11" text-anchor="end" >30</text>
<text x="23.3" y="661" font-size="9.4" text-anchor="middle" >2160</text>
<text x="68.5" y="661" font-size="9.4" text-anchor="middle" >2155</text>
<text x="124.3" y="661" font-size="9.4" text-anchor="middle" >2150</text>
<text x="180.5" y="661" font-size="9.4" text-anchor="middle" >2145</text>
<text x="223" y="661" font-size="9.4" text-anchor="middle" >2140</text>
<text x="278.5" y="661" font-size="9.4" text-anchor="middle" >2135</text>
<line x1="34.9" y1="652.2" x2="34.9" y2="650.8" stroke="#231f20" stroke-width="0.8" />
<line x1="46.1" y1="652.2" x2="46.1" y2="650.8" stroke="#231f20" stroke-width="0.8" />
<line x1="79.7" y1="652.2" x2="79.7" y2="650.8" stroke="#231f20" stroke-width="0.8" />
<line x1="90.9" y1="652.2" x2="90.9" y2="650.8" stroke="#231f20" stroke-width="0.8" />
<line x1="102.1" y1="652.2" x2="102.1" y2="650.8" stroke="#231f20" stroke-width="0.8" />
<line x1="113.3" y1="652.2" x2="113.3" y2="650.8" stroke="#231f20" stroke-width="0.8" />
<line x1="135.7" y1="652.2" x2="135.7" y2="650.8" stroke="#231f20" stroke-width="0.8" />
<line x1="146.9" y1="652.2" x2="146.9" y2="650.8" stroke="#231f20" stroke-width="0.8" />
<line x1="158.1" y1="652.2" x2="158.1" y2="650.8" stroke="#231f20" stroke-width="0.8" />
<line x1="169.3" y1="652.2" x2="169.3" y2="650.8" stroke="#231f20" stroke-width="0.8" />
<line x1="191.7" y1="652.2" x2="191.7" y2="650.8" stroke="#231f20" stroke-width="0.8" />
<line x1="214.1" y1="652.2" x2="214.1" y2="650.8" stroke="#231f20" stroke-width="0.8" />
<line x1="89.8" y1="652.2" x2="89.8" y2="650.8" stroke="#231f20" stroke-width="0.8" />
<line x1="100.9" y1="652.2" x2="100.9" y2="650.8" stroke="#231f20" stroke-width="0.8" />
<line x1="123.1" y1="652.2" x2="123.1" y2="650.8" stroke="#231f20" stroke-width="0.8" />
<line x1="134.2" y1="652.2" x2="134.2" y2="650.8" stroke="#231f20" stroke-width="0.8" />
<line x1="145.3" y1="652.2" x2="145.3" y2="650.8" stroke="#231f20" stroke-width="0.8" />
<line x1="156.4" y1="652.2" x2="156.4" y2="650.8" stroke="#231f20" stroke-width="0.8" />
<line x1="178.6" y1="652.2" x2="178.6" y2="650.8" stroke="#231f20" stroke-width="0.8" />
<line x1="189.7" y1="652.2" x2="189.7" y2="650.8" stroke="#231f20" stroke-width="0.8" />
<line x1="211.9" y1="652.2" x2="211.9" y2="650.8" stroke="#231f20" stroke-width="0.8" />
<line x1="234.1" y1="652.2" x2="234.1" y2="650.8" stroke="#231f20" stroke-width="0.8" />
<line x1="245.2" y1="652.2" x2="245.2" y2="650.8" stroke="#231f20" stroke-width="0.8" />
<line x1="256.3" y1="652.2" x2="256.3" y2="650.8" stroke="#231f20" stroke-width="0.8" />
<line x1="267.4" y1="652.2" x2="267.4" y2="650.8" stroke="#231f20" stroke-width="0.8" />
<line x1="289.6" y1="652.2" x2="289.6" y2="650.8" stroke="#231f20" stroke-width="0.8" />
<line x1="300.7" y1="652.2" x2="300.7" y2="650.8" stroke="#231f20" stroke-width="0.8" />
<line x1="311.8" y1="652.2" x2="311.8" y2="650.8" stroke="#231f20" stroke-width="0.8" />
<line x1="322.9" y1="652.2" x2="322.9" y2="650.8" stroke="#231f20" stroke-width="0.8" />
<line x1="68.5" y1="652.2" x2="68.5" y2="649.6" stroke="#231f20" stroke-width="0.8" />
<line x1="124.5" y1="652.2" x2="124.5" y2="649.6" stroke="#231f20" stroke-width="0.8" />
<line x1="180.5" y1="652.2" x2="180.5" y2="649.6" stroke="#231f20" stroke-width="0.8" />
<line x1="112" y1="652.2" x2="112" y2="649.6" stroke="#231f20" stroke-width="0.8" />
<line x1="167.5" y1="652.2" x2="167.5" y2="649.6" stroke="#231f20" stroke-width="0.8" />
<line x1="223" y1="652.2" x2="223" y2="649.6" stroke="#231f20" stroke-width="0.8" />
<line x1="278.5" y1="652.2" x2="278.5" y2="649.6" stroke="#231f20" stroke-width="0.8" />
<line x1="68.4" y1="521.3" x2="68.4" y2="525.8" stroke="#231f20" stroke-width="0.8" />
<line x1="278.3" y1="521.3" x2="278.3" y2="525.8" stroke="#231f20" stroke-width="0.8" />
<text x="68.2" y="518.2" font-size="9" text-anchor="middle" >4.640</text>
<text x="277.2" y="518.2" font-size="9" text-anchor="middle" >4.683</text>
<text x="131.1" y="514.8" font-size="11.17" text-anchor="start" textLength="84.4" lengthAdjust="spacingAndGlyphs" >Wavelength [μm]</text>
<text x="131.1" y="673.5" font-size="11.03" text-anchor="start" textLength="79.9" lengthAdjust="spacingAndGlyphs" >Frequency [cm<tspan font-size="6.62" dy="-4.19">-1</tspan><tspan dy="4.19">]</tspan></text>
<text transform="translate(7.6,589.05) rotate(-90)" x="0" y="0" font-size="9.8" text-anchor="middle" textLength="132.3" lengthAdjust="spacingAndGlyphs">Flux Density [10<tspan font-size="5.88" dy="-3.72">-18</tspan><tspan dy="3.72"> W m</tspan><tspan font-size="5.88" dy="-3.72">-2</tspan><tspan dy="3.72"> (cm</tspan><tspan font-size="5.88" dy="-3.72">-1</tspan><tspan dy="3.72">)</tspan><tspan font-size="5.88" dy="-3.72">-1</tspan><tspan dy="3.72">]</tspan></text>
<text x="33.32" y="538.7" font-size="16.9" text-anchor="start" textLength="11.85" lengthAdjust="spacingAndGlyphs" class="big">D</text>
<text x="166.32" y="538.7" font-size="16.9" text-anchor="start" textLength="23.35" lengthAdjust="spacingAndGlyphs" class="big">CO</text>
<text x="35.59" y="561" font-size="10.2" text-anchor="start" textLength="11.42" lengthAdjust="spacingAndGlyphs" >R3</text>
<text x="66.19" y="555.2" font-size="10.34" text-anchor="start" textLength="12.13" lengthAdjust="spacingAndGlyphs" >R2</text>
<text x="108.08" y="546" font-size="10.47" text-anchor="start" textLength="11.04" lengthAdjust="spacingAndGlyphs" >R1</text>
<text x="149.61" y="548.7" font-size="9.78" text-anchor="start" textLength="11.88" lengthAdjust="spacingAndGlyphs" >R0</text>
<text x="222.98" y="545.1" font-size="10.47" text-anchor="start" textLength="10.84" lengthAdjust="spacingAndGlyphs" >P1</text>
<text x="256.12" y="534.6" font-size="12.01" text-anchor="start" textLength="13.06" lengthAdjust="spacingAndGlyphs" >P2</text>
<text x="308.14" y="534.6" font-size="11.59" text-anchor="start" textLength="12.03" lengthAdjust="spacingAndGlyphs" >P3</text>
<clipPath id="cE"><rect x="24.6" y="697.7" width="298.7" height="135.6"/></clipPath>
<line x1="24.6" y1="697.7" x2="24.6" y2="833.3" stroke="#231f20" stroke-width="1" />
<line x1="323.3" y1="697.7" x2="323.3" y2="833.3" stroke="#231f20" stroke-width="1" />
<line x1="24.6" y1="697.7" x2="49.3" y2="697.7" stroke="#231f20" stroke-width="1" />
<line x1="63.8" y1="697.7" x2="191.2" y2="697.7" stroke="#231f20" stroke-width="1" />
<line x1="206.2" y1="697.7" x2="323.3" y2="697.7" stroke="#231f20" stroke-width="1" />
<line x1="24.6" y1="833.3" x2="49.2" y2="833.3" stroke="#231f20" stroke-width="1" />
<line x1="62.8" y1="833.3" x2="193" y2="833.3" stroke="#231f20" stroke-width="1" />
<line x1="204.6" y1="833.3" x2="323.3" y2="833.3" stroke="#231f20" stroke-width="1" />
<line x1="49.3" y1="697.7" x2="51.6" y2="705.7" stroke="#231f20" stroke-width="1" />
<line x1="62" y1="705.7" x2="63.8" y2="697.7" stroke="#231f20" stroke-width="1" />
<line x1="191.2" y1="697.7" x2="193.5" y2="705.7" stroke="#231f20" stroke-width="1" />
<line x1="204.4" y1="705.7" x2="206.2" y2="697.7" stroke="#231f20" stroke-width="1" />
<line x1="49.2" y1="833.3" x2="51.5" y2="825.3" stroke="#231f20" stroke-width="1" />
<line x1="61" y1="825.3" x2="62.8" y2="833.3" stroke="#231f20" stroke-width="1" />
<line x1="193" y1="833.3" x2="195.3" y2="825.3" stroke="#231f20" stroke-width="1" />
<line x1="202.8" y1="825.3" x2="204.6" y2="833.3" stroke="#231f20" stroke-width="1" />
<path d="M24.6,754.2 L35.1,754.2 L35.5,752.5 L35.9,754.2 L52,754.2" fill="none" stroke="#cc2936" stroke-width="1"/>
<path d="M66.2,754.2 L104.1,754.2 L104.5,737.5 L104.9,754.2 L148.6,754.2 L149,732.5 L149.4,754.2 L192,754.2" fill="none" stroke="#cc2936" stroke-width="1"/>
<path d="M205.2,754.2 L220.3,754.2 L220.7,731.2 L221.1,754.2 L265.3,754.2 L265.7,711.5 L266.1,754.2 L311.2,754.2 L311.6,726.7 L312,754.2 L323.3,754.2" fill="none" stroke="#cc2936" stroke-width="1"/>
<path d="M25.10,793.33 L25.32,789.79 L25.54,797.90 L25.77,795.49 L25.99,790.39 L26.21,806.59 L26.43,811.29 L26.65,791.75 L26.87,799.70 L27.10,805.63 L27.32,803.11 L27.54,798.19 L27.76,814.05 L27.98,814.43 L28.21,812.67 L28.43,803.34 L28.65,826.39 L28.87,823.80 L29.09,801.31 L29.31,804.26 L29.54,818.00 L29.76,797.12 L29.98,809.70 L30.20,806.00 L30.42,798.13 L30.65,803.08 L30.87,789.01 L31.09,799.81 L31.31,784.55 L31.53,829.44 L31.75,821.31 L31.98,818.40 L32.20,808.67 L32.42,815.98 L32.64,818.85 L32.86,816.15 L33.09,815.13 L33.31,795.90 L33.53,809.98 L33.75,799.86 L33.97,793.07 L34.19,793.48 L34.42,809.96 L34.64,816.52 L34.86,791.10 L35.08,823.78 L35.30,820.88 L35.53,801.45 L35.75,800.58 L35.97,804.68 L36.19,815.74 L36.41,801.41 L36.63,793.82 L36.86,809.04 L37.08,783.74 L37.30,806.90 L37.52,817.59 L37.74,808.62 L37.97,813.61 L38.19,810.59 L38.41,813.05 L38.63,806.93 L38.85,796.69 L39.07,803.04 L39.30,804.63 L39.52,818.62 L39.74,822.47 L39.96,809.82 L40.18,797.50 L40.41,797.74 L40.63,803.43 L40.85,819.98 L41.07,808.91 L41.29,804.82 L41.51,797.37 L41.74,814.66 L41.96,808.44 L42.18,804.87 L42.40,806.49 L42.62,823.11 L42.85,803.72 L43.07,823.13 L43.29,818.44 L43.51,805.95 L43.73,814.68 L43.95,804.10 L44.18,796.70 L44.40,802.59 L44.62,795.87 L44.84,810.77 L45.06,805.55 L45.29,811.36 L45.51,814.08 L45.73,772.64 L45.95,808.67 L46.17,786.48 L46.39,807.15 L46.62,796.19 L46.84,806.49 L47.06,819.74 L47.28,787.47 L47.50,807.40 L47.73,804.58 L47.95,785.53 L48.17,812.20 L48.39,805.76 L48.61,800.06 L48.83,797.82 L49.06,839.13 L49.28,801.26 L49.50,786.50" fill="none" stroke="#000" stroke-width="0.85" clip-path="url(#cE)"/>
<path d="M67.00,795.63 L67.22,801.55 L67.44,801.36 L67.66,804.57 L67.88,794.41 L68.10,811.09 L68.32,800.32 L68.54,791.11 L68.76,796.84 L68.98,801.36 L69.20,814.31 L69.42,810.49 L69.64,801.85 L69.86,805.61 L70.08,807.66 L70.30,826.81 L70.52,798.91 L70.74,810.30 L70.96,813.03 L71.18,795.39 L71.40,807.39 L71.62,807.12 L71.84,800.47 L72.06,811.36 L72.28,816.20 L72.50,817.27 L72.72,803.39 L72.94,807.39 L73.16,830.08 L73.38,793.81 L73.60,807.73 L73.82,814.74 L74.04,806.98 L74.26,812.29 L74.48,807.21 L74.70,813.31 L74.92,818.87 L75.14,803.08 L75.36,807.47 L75.58,804.82 L75.80,801.16 L76.02,805.19 L76.24,793.52 L76.46,813.22 L76.68,823.28 L76.90,823.30 L77.12,818.80 L77.34,795.28 L77.56,821.36 L77.79,797.89 L78.01,804.84 L78.23,824.78 L78.45,794.14 L78.67,814.23 L78.89,808.35 L79.11,803.80 L79.33,796.20 L79.55,809.84 L79.77,800.53 L79.99,816.38 L80.21,818.26 L80.43,790.92 L80.65,800.09 L80.87,802.05 L81.09,792.99 L81.31,793.66 L81.53,806.33 L81.75,803.22 L81.97,788.06 L82.19,799.75 L82.41,810.85 L82.63,792.73 L82.85,795.70 L83.07,822.07 L83.29,819.23 L83.51,788.38 L83.73,791.21 L83.95,809.36 L84.17,792.89 L84.39,802.75 L84.61,800.66 L84.83,811.28 L85.05,778.85 L85.27,782.27 L85.49,792.52 L85.71,816.05 L85.93,803.78 L86.15,787.46 L86.37,810.58 L86.59,812.83 L86.81,802.82 L87.03,801.93 L87.25,810.00 L87.47,818.10 L87.69,807.00 L87.91,811.00 L88.13,804.89 L88.35,801.40 L88.57,795.78 L88.79,808.09 L89.01,802.25 L89.23,802.84 L89.45,815.16 L89.67,810.52 L89.89,814.54 L90.11,788.86 L90.33,811.26 L90.55,799.21 L90.77,796.91 L90.99,796.45 L91.21,818.12 L91.43,814.09 L91.65,797.87 L91.87,793.46 L92.09,805.54 L92.31,800.57 L92.53,822.83 L92.75,790.06 L92.97,786.19 L93.19,802.71 L93.41,805.51 L93.63,806.79 L93.85,813.31 L94.07,827.17 L94.29,801.81 L94.51,799.68 L94.73,786.93 L94.95,807.96 L95.17,814.36 L95.39,802.67 L95.61,817.80 L95.83,805.72 L96.05,821.31 L96.27,808.90 L96.49,794.30 L96.71,798.71 L96.93,789.30 L97.15,787.16 L97.37,808.20 L97.59,814.53 L97.81,825.92 L98.03,804.82 L98.25,802.91 L98.47,793.76 L98.69,815.77 L98.92,809.49 L99.14,799.15 L99.36,812.63 L99.58,811.29 L99.80,785.77 L100.02,813.20 L100.24,806.83 L100.46,801.29 L100.68,801.02 L100.90,823.76 L101.12,821.53 L101.34,824.57 L101.56,793.34 L101.78,798.53 L102.00,814.91 L102.22,792.71 L102.44,797.84 L102.66,786.46 L102.88,824.86 L103.10,816.56 L103.32,810.21 L103.54,807.70 L103.76,801.02 L103.98,801.22 L104.20,811.86 L104.42,797.93 L104.64,818.29 L104.86,800.23 L105.08,796.23 L105.30,819.03 L105.52,803.89 L105.74,811.23 L105.96,801.04 L106.18,781.77 L106.40,811.15 L106.62,791.26 L106.84,816.76 L107.06,789.12 L107.28,785.82 L107.50,808.63 L107.72,809.87 L107.94,806.52 L108.16,792.66 L108.38,814.73 L108.60,790.02 L108.82,800.53 L109.04,797.12 L109.26,801.43 L109.48,814.35 L109.70,798.74 L109.92,811.33 L110.14,812.69 L110.36,787.43 L110.58,793.15 L110.80,801.37 L111.02,799.18 L111.24,808.63 L111.46,785.12 L111.68,812.97 L111.90,813.22 L112.12,803.63 L112.34,790.88 L112.56,805.46 L112.78,799.76 L113.00,811.35 L113.22,804.50 L113.44,813.05 L113.66,800.85 L113.88,820.55 L114.10,781.20 L114.32,794.73 L114.54,810.55 L114.76,789.54 L114.98,813.13 L115.20,792.62 L115.42,806.38 L115.64,795.80 L115.86,800.77 L116.08,807.23 L116.30,804.30 L116.52,801.40 L116.74,828.01 L116.96,805.49 L117.18,795.22 L117.40,815.14 L117.62,814.02 L117.84,818.24 L118.06,824.17 L118.28,795.54 L118.50,816.52 L118.72,817.37 L118.94,805.40 L119.16,807.97 L119.38,773.87 L119.60,799.37 L119.82,824.17 L120.05,786.64 L120.27,799.78 L120.49,808.42 L120.71,811.44 L120.93,822.53 L121.15,786.89 L121.37,805.85 L121.59,814.43 L121.81,791.61 L122.03,804.98 L122.25,825.19 L122.47,819.22 L122.69,811.06 L122.91,777.95 L123.13,804.03 L123.35,809.46 L123.57,802.16 L123.79,804.71 L124.01,837.78 L124.23,803.15 L124.45,795.22 L124.67,807.95 L124.89,802.09 L125.11,802.15 L125.33,804.49 L125.55,813.53 L125.77,807.89 L125.99,792.78 L126.21,804.01 L126.43,810.38 L126.65,800.49 L126.87,817.46 L127.09,813.56 L127.31,795.00 L127.53,808.76 L127.75,826.23 L127.97,821.78 L128.19,804.81 L128.41,814.82 L128.63,798.32 L128.85,790.20 L129.07,811.22 L129.29,807.99 L129.51,810.80 L129.73,805.14 L129.95,808.82 L130.17,800.01 L130.39,810.37 L130.61,814.15 L130.83,804.79 L131.05,813.95 L131.27,786.81 L131.49,797.14 L131.71,820.57 L131.93,823.90 L132.15,808.03 L132.37,804.31 L132.59,792.09 L132.81,809.22 L133.03,813.57 L133.25,789.84 L133.47,811.27 L133.69,810.55 L133.91,810.03 L134.13,793.56 L134.35,811.09 L134.57,789.67 L134.79,821.03 L135.01,806.82 L135.23,793.18 L135.45,819.52 L135.67,817.52 L135.89,798.57 L136.11,828.54 L136.33,794.86 L136.55,808.69 L136.77,817.82 L136.99,781.56 L137.21,815.92 L137.43,804.72 L137.65,805.24 L137.87,794.09 L138.09,808.88 L138.31,793.75 L138.53,795.23 L138.75,800.70 L138.97,792.51 L139.19,821.91 L139.41,791.45 L139.63,797.47 L139.85,802.08 L140.07,805.44 L140.29,813.72 L140.51,813.99 L140.73,802.22 L140.95,801.37 L141.18,805.77 L141.40,814.03 L141.62,812.72 L141.84,799.98 L142.06,783.78 L142.28,827.90 L142.50,815.39 L142.72,808.16 L142.94,808.97 L143.16,799.92 L143.38,794.89 L143.60,801.91 L143.82,803.06 L144.04,798.83 L144.26,790.10 L144.48,802.12 L144.70,811.45 L144.92,800.20 L145.14,805.63 L145.36,783.66 L145.58,803.22 L145.80,804.12 L146.02,792.53 L146.24,787.24 L146.46,809.72 L146.68,796.90 L146.90,810.53 L147.12,800.99 L147.34,811.94 L147.56,801.84 L147.78,789.58 L148.00,804.49 L148.22,801.95 L148.44,812.30 L148.66,800.67 L148.88,801.27 L149.10,814.43 L149.32,817.65 L149.54,813.37 L149.76,816.30 L149.98,810.17 L150.20,813.49 L150.42,814.62 L150.64,809.64 L150.86,806.06 L151.08,806.89 L151.30,830.65 L151.52,805.54 L151.74,802.91 L151.96,801.58 L152.18,805.05 L152.40,807.96 L152.62,793.52 L152.84,784.60 L153.06,808.50 L153.28,788.54 L153.50,808.12 L153.72,806.88 L153.94,817.51 L154.16,822.94 L154.38,809.26 L154.60,799.58 L154.82,793.06 L155.04,797.09 L155.26,805.82 L155.48,783.67 L155.70,806.19 L155.92,805.27 L156.14,812.17 L156.36,801.89 L156.58,806.47 L156.80,797.67 L157.02,800.53 L157.24,786.78 L157.46,806.70 L157.68,821.66 L157.90,807.11 L158.12,809.24 L158.34,795.09 L158.56,820.43 L158.78,797.35 L159.00,813.82 L159.22,806.53 L159.44,795.33 L159.66,816.19 L159.88,805.56 L160.10,807.28 L160.32,810.15 L160.54,805.17 L160.76,801.42 L160.98,810.29 L161.20,801.15 L161.42,806.09 L161.64,798.39 L161.86,789.75 L162.08,798.33 L162.31,800.20 L162.53,805.56 L162.75,817.84 L162.97,787.66 L163.19,806.75 L163.41,782.17 L163.63,794.42 L163.85,800.08 L164.07,781.74 L164.29,785.89 L164.51,807.02 L164.73,806.22 L164.95,804.21 L165.17,796.96 L165.39,828.02 L165.61,803.71 L165.83,796.35 L166.05,823.02 L166.27,811.85 L166.49,801.51 L166.71,817.92 L166.93,807.05 L167.15,812.15 L167.37,807.87 L167.59,794.60 L167.81,815.60 L168.03,807.08 L168.25,794.80 L168.47,797.39 L168.69,815.43 L168.91,801.52 L169.13,805.89 L169.35,812.27 L169.57,806.75 L169.79,789.37 L170.01,812.09 L170.23,815.25 L170.45,814.50 L170.67,822.38 L170.89,809.22 L171.11,813.56 L171.33,822.09 L171.55,802.35 L171.77,823.63 L171.99,823.61 L172.21,813.62 L172.43,824.72 L172.65,814.35 L172.87,796.15 L173.09,817.34 L173.31,808.83 L173.53,809.74 L173.75,807.02 L173.97,819.68 L174.19,811.20 L174.41,798.09 L174.63,810.50 L174.85,813.06 L175.07,797.78 L175.29,800.84 L175.51,801.38 L175.73,799.02 L175.95,809.06 L176.17,816.09 L176.39,825.27 L176.61,817.94 L176.83,816.13 L177.05,817.40 L177.27,819.42 L177.49,801.44 L177.71,812.68 L177.93,808.78 L178.15,804.04 L178.37,800.62 L178.59,800.09 L178.81,802.59 L179.03,792.43 L179.25,810.88 L179.47,805.17 L179.69,806.51 L179.91,808.96 L180.13,813.01 L180.35,799.19 L180.57,804.28 L180.79,788.51 L181.01,782.09 L181.23,785.02 L181.45,821.54 L181.67,786.22 L181.89,810.36 L182.11,820.91 L182.33,800.59 L182.55,822.51 L182.77,824.80 L182.99,815.33 L183.21,830.31 L183.44,811.94 L183.66,797.75 L183.88,810.90 L184.10,800.77 L184.32,791.75 L184.54,792.04 L184.76,829.72 L184.98,799.77 L185.20,805.21 L185.42,798.50 L185.64,806.92 L185.86,802.98 L186.08,801.19 L186.30,792.78 L186.52,790.67 L186.74,797.70 L186.96,808.60 L187.18,827.33 L187.40,816.59 L187.62,824.69 L187.84,810.64 L188.06,804.64 L188.28,791.65 L188.50,805.59 L188.72,783.05 L188.94,802.42 L189.16,822.68 L189.38,809.04 L189.60,817.44 L189.82,801.59 L190.04,791.15 L190.26,800.58 L190.48,801.45 L190.70,818.28 L190.92,826.37 L191.14,797.85 L191.36,801.86 L191.58,804.11 L191.80,801.98 L192.02,792.58 L192.24,806.63 L192.46,809.46 L192.68,809.71 L192.90,792.99 L193.12,804.47 L193.34,787.40 L193.56,815.26 L193.78,794.97 L194.00,802.80" fill="none" stroke="#000" stroke-width="0.85" clip-path="url(#cE)"/>
<path d="M209.00,800.97 L209.22,799.56 L209.44,794.57 L209.66,787.13 L209.88,823.89 L210.10,808.38 L210.32,808.49 L210.54,827.75 L210.76,804.65 L210.98,811.51 L211.20,805.93 L211.42,818.18 L211.64,810.99 L211.87,809.02 L212.09,803.04 L212.31,808.66 L212.53,817.95 L212.75,783.92 L212.97,804.38 L213.19,801.35 L213.41,802.58 L213.63,784.99 L213.85,813.42 L214.07,796.86 L214.29,803.36 L214.51,800.45 L214.73,788.21 L214.95,801.06 L215.17,786.40 L215.39,795.85 L215.61,802.43 L215.83,805.70 L216.05,806.33 L216.27,804.30 L216.49,828.19 L216.71,810.32 L216.93,792.92 L217.15,799.32 L217.37,798.84 L217.60,803.89 L217.82,799.41 L218.04,796.77 L218.26,823.06 L218.48,806.21 L218.70,802.21 L218.92,803.10 L219.14,803.47 L219.36,820.38 L219.58,810.78 L219.80,817.55 L220.02,773.01 L220.24,809.18 L220.46,816.88 L220.68,826.48 L220.90,806.07 L221.12,787.74 L221.34,811.95 L221.56,799.48 L221.78,786.95 L222.00,799.27 L222.22,816.86 L222.44,818.39 L222.66,813.35 L222.88,794.77 L223.10,832.21 L223.33,793.50 L223.55,804.97 L223.77,790.61 L223.99,819.62 L224.21,810.47 L224.43,815.12 L224.65,806.74 L224.87,805.08 L225.09,807.63 L225.31,785.98 L225.53,816.25 L225.75,815.40 L225.97,801.69 L226.19,805.68 L226.41,808.97 L226.63,822.31 L226.85,810.36 L227.07,806.28 L227.29,800.49 L227.51,790.05 L227.73,799.58 L227.95,806.59 L228.17,803.20 L228.39,806.65 L228.61,813.68 L228.83,810.43 L229.06,808.75 L229.28,812.76 L229.50,807.83 L229.72,805.55 L229.94,810.81 L230.16,787.74 L230.38,819.04 L230.60,792.35 L230.82,814.68 L231.04,806.03 L231.26,817.53 L231.48,806.27 L231.70,795.99 L231.92,817.18 L232.14,807.85 L232.36,807.16 L232.58,806.77 L232.80,816.43 L233.02,814.51 L233.24,808.35 L233.46,789.65 L233.68,801.69 L233.90,807.05 L234.12,824.79 L234.34,809.98 L234.57,804.98 L234.79,818.51 L235.01,804.79 L235.23,805.66 L235.45,807.61 L235.67,790.23 L235.89,816.02 L236.11,810.44 L236.33,803.00 L236.55,793.98 L236.77,808.22 L236.99,820.67 L237.21,799.24 L237.43,794.83 L237.65,810.39 L237.87,789.22 L238.09,782.66 L238.31,801.32 L238.53,798.74 L238.75,803.08 L238.97,800.20 L239.19,809.48 L239.41,803.68 L239.63,799.71 L239.85,801.19 L240.07,812.63 L240.30,816.07 L240.52,815.50 L240.74,813.33 L240.96,771.38 L241.18,795.49 L241.40,802.71 L241.62,808.17 L241.84,789.03 L242.06,820.95 L242.28,809.20 L242.50,799.50 L242.72,807.74 L242.94,802.39 L243.16,798.05 L243.38,811.34 L243.60,801.26 L243.82,791.21 L244.04,799.36 L244.26,804.83 L244.48,794.70 L244.70,819.28 L244.92,794.60 L245.14,824.49 L245.36,815.44 L245.58,796.16 L245.80,807.42 L246.03,818.46 L246.25,804.05 L246.47,793.54 L246.69,807.24 L246.91,826.96 L247.13,790.42 L247.35,811.90 L247.57,806.18 L247.79,804.85 L248.01,802.00 L248.23,802.74 L248.45,816.99 L248.67,812.37 L248.89,795.63 L249.11,822.48 L249.33,792.49 L249.55,813.07 L249.77,808.05 L249.99,818.71 L250.21,809.87 L250.43,817.22 L250.65,805.88 L250.87,816.35 L251.09,809.76 L251.31,828.71 L251.53,798.84 L251.76,818.69 L251.98,811.03 L252.20,808.01 L252.42,800.21 L252.64,810.85 L252.86,790.69 L253.08,791.79 L253.30,813.64 L253.52,789.84 L253.74,821.26 L253.96,803.29 L254.18,808.80 L254.40,806.97 L254.62,810.59 L254.84,803.25 L255.06,802.32 L255.28,804.86 L255.50,817.20 L255.72,818.09 L255.94,819.57 L256.16,810.03 L256.38,804.09 L256.60,788.56 L256.82,812.95 L257.04,815.02 L257.27,801.96 L257.49,814.67 L257.71,819.73 L257.93,807.19 L258.15,817.30 L258.37,809.43 L258.59,787.99 L258.81,801.24 L259.03,801.90 L259.25,811.76 L259.47,797.14 L259.69,801.60 L259.91,796.10 L260.13,805.80 L260.35,806.94 L260.57,816.44 L260.79,814.58 L261.01,807.93 L261.23,808.74 L261.45,807.35 L261.67,807.39 L261.89,822.45 L262.11,780.10 L262.33,804.36 L262.55,809.49 L262.77,818.07 L263.00,794.72 L263.22,809.85 L263.44,815.26 L263.66,801.53 L263.88,786.17 L264.10,802.43 L264.32,793.60 L264.54,813.04 L264.76,797.28 L264.98,824.91 L265.20,807.70 L265.42,797.75 L265.64,800.91 L265.86,794.74 L266.08,810.30 L266.30,821.87 L266.52,803.95 L266.74,815.92 L266.96,796.32 L267.18,809.44 L267.40,830.40 L267.62,791.45 L267.84,819.15 L268.06,818.53 L268.28,786.47 L268.50,791.15 L268.73,795.96 L268.95,816.38 L269.17,801.71 L269.39,804.45 L269.61,813.64 L269.83,807.44 L270.05,808.58 L270.27,802.83 L270.49,818.01 L270.71,798.03 L270.93,823.79 L271.15,802.65 L271.37,797.82 L271.59,812.99 L271.81,810.93 L272.03,785.40 L272.25,808.51 L272.47,792.01 L272.69,797.48 L272.91,814.45 L273.13,797.13 L273.35,809.91 L273.57,802.19 L273.79,826.47 L274.01,805.16 L274.23,793.83 L274.46,794.56 L274.68,796.64 L274.90,807.49 L275.12,806.11 L275.34,816.31 L275.56,807.89 L275.78,807.48 L276.00,809.52 L276.22,804.76 L276.44,809.18 L276.66,814.33 L276.88,814.33 L277.10,800.37 L277.32,787.53 L277.54,797.60 L277.76,809.04 L277.98,779.95 L278.20,801.08 L278.42,810.79 L278.64,800.15 L278.86,794.32 L279.08,824.47 L279.30,820.59 L279.52,803.34 L279.74,819.93 L279.97,819.67 L280.19,794.17 L280.41,834.17 L280.63,796.19 L280.85,803.26 L281.07,794.51 L281.29,806.83 L281.51,792.20 L281.73,805.93 L281.95,817.36 L282.17,808.23 L282.39,803.21 L282.61,822.21 L282.83,796.56 L283.05,816.14 L283.27,802.79 L283.49,808.23 L283.71,806.29 L283.93,807.29 L284.15,805.39 L284.37,797.73 L284.59,799.96 L284.81,810.56 L285.03,804.79 L285.25,793.70 L285.47,798.50 L285.70,798.62 L285.92,805.31 L286.14,807.75 L286.36,806.83 L286.58,799.00 L286.80,806.04 L287.02,791.48 L287.24,775.56 L287.46,805.26 L287.68,788.46 L287.90,795.88 L288.12,793.15 L288.34,812.40 L288.56,793.08 L288.78,808.67 L289.00,800.63 L289.22,792.77 L289.44,789.20 L289.66,810.57 L289.88,809.76 L290.10,813.82 L290.32,824.91 L290.54,808.53 L290.76,808.62 L290.98,804.36 L291.20,806.75 L291.43,801.95 L291.65,796.23 L291.87,826.54 L292.09,786.05 L292.31,808.26 L292.53,810.23 L292.75,807.15 L292.97,795.46 L293.19,803.54 L293.41,800.70 L293.63,794.25 L293.85,805.03 L294.07,801.22 L294.29,799.69 L294.51,812.65 L294.73,794.35 L294.95,810.08 L295.17,799.03 L295.39,809.92 L295.61,806.15 L295.83,807.94 L296.05,795.13 L296.27,797.27 L296.49,796.41 L296.71,807.21 L296.93,813.21 L297.16,816.69 L297.38,800.11 L297.60,806.25 L297.82,788.39 L298.04,782.09 L298.26,796.25 L298.48,798.35 L298.70,789.04 L298.92,786.67 L299.14,810.89 L299.36,796.88 L299.58,787.67 L299.80,829.60 L300.02,807.07 L300.24,801.93 L300.46,812.34 L300.68,797.28 L300.90,821.86 L301.12,789.10 L301.34,791.52 L301.56,803.76 L301.78,797.18 L302.00,819.95 L302.22,788.39 L302.44,797.50 L302.67,807.64 L302.89,811.03 L303.11,815.62 L303.33,808.71 L303.55,828.18 L303.77,800.14 L303.99,806.93 L304.21,814.05 L304.43,801.77 L304.65,802.00 L304.87,800.20 L305.09,798.31 L305.31,793.22 L305.53,799.23 L305.75,788.81 L305.97,808.99 L306.19,788.34 L306.41,826.60 L306.63,822.78 L306.85,816.54 L307.07,802.76 L307.29,798.82 L307.51,817.77 L307.73,806.85 L307.95,810.80 L308.17,797.41 L308.40,816.09 L308.62,796.56 L308.84,806.04 L309.06,786.82 L309.28,798.06 L309.50,810.15 L309.72,800.19 L309.94,800.23 L310.16,813.15 L310.38,804.13 L310.60,817.88 L310.82,779.60 L311.04,810.82 L311.26,810.18 L311.48,788.72 L311.70,791.29 L311.92,814.05 L312.14,793.70 L312.36,798.21 L312.58,811.12 L312.80,801.38 L313.02,809.84 L313.24,795.78 L313.46,807.96 L313.68,816.17 L313.90,808.25 L314.13,781.90 L314.35,811.66 L314.57,805.45 L314.79,795.37 L315.01,819.41 L315.23,786.61 L315.45,824.44 L315.67,798.22 L315.89,821.30 L316.11,804.37 L316.33,790.93 L316.55,805.83 L316.77,808.30 L316.99,810.50 L317.21,815.93 L317.43,795.45 L317.65,809.98 L317.87,812.54 L318.09,801.99 L318.31,795.04 L318.53,794.83 L318.75,812.67 L318.97,813.18 L319.19,796.16 L319.41,790.83 L319.63,817.78 L319.86,788.58 L320.08,806.49 L320.30,796.40 L320.52,786.47 L320.74,806.12 L320.96,802.83 L321.18,819.86 L321.40,828.56 L321.62,802.85 L321.84,815.53 L322.06,815.74 L322.28,799.35 L322.50,795.76" fill="none" stroke="#000" stroke-width="0.85" clip-path="url(#cE)"/>
<path d="M24.60,798.19 L29.58,797.91 L34.56,797.86 L39.54,797.64 L44.52,797.51 L49.50,797.09" fill="none" stroke="#ed1c24" stroke-width="2.2" stroke-dasharray="2.6 2.1"/>
<path d="M24.60,813.27 L29.58,814.05 L34.56,813.77 L39.54,812.84 L44.52,812.84 L49.50,811.84" fill="none" stroke="#ed1c24" stroke-width="2.2" stroke-dasharray="2.6 2.1"/>
<path d="M67.00,797.80 L72.77,798.56 L78.55,799.65 L84.32,799.65 L90.09,799.51 L95.86,799.65 L101.64,798.49 L107.41,798.00 L113.18,798.95 L118.95,799.40 L124.73,798.47 L130.50,797.35 L136.27,797.87 L142.05,797.80 L147.82,797.38 L153.59,797.61 L159.36,797.21 L165.14,795.93 L170.91,796.41 L176.68,795.96 L182.45,795.75 L188.23,795.75 L194.00,795.75" fill="none" stroke="#ed1c24" stroke-width="2.2" stroke-dasharray="2.6 2.1"/>
<path d="M67.00,813.92 L72.77,814.29 L78.55,814.08 L84.32,814.75 L90.09,814.46 L95.86,814.00 L101.64,812.69 L107.41,811.94 L113.18,812.37 L118.95,814.31 L124.73,813.47 L130.50,812.76 L136.27,812.94 L142.05,813.21 L147.82,812.74 L153.59,812.75 L159.36,811.68 L165.14,811.45 L170.91,812.00 L176.68,813.02 L182.45,812.87 L188.23,812.67 L194.00,812.93" fill="none" stroke="#ed1c24" stroke-width="2.2" stroke-dasharray="2.6 2.1"/>
<path d="M209.00,798.54 L214.97,798.82 L220.95,798.30 L226.92,798.49 L232.89,799.08 L238.87,798.59 L244.84,797.69 L250.82,797.98 L256.79,798.18 L262.76,798.77 L268.74,798.80 L274.71,798.34 L280.68,798.03 L286.66,797.33 L292.63,796.68 L298.61,796.28 L304.58,795.94 L310.55,796.62 L316.53,795.79 L322.50,795.75" fill="none" stroke="#ed1c24" stroke-width="2.2" stroke-dasharray="2.6 2.1"/>
<path d="M209.00,811.15 L214.97,811.15 L220.95,811.29 L226.92,811.15 L232.89,811.51 L238.87,811.52 L244.84,811.18 L250.82,812.14 L256.79,812.57 L262.76,813.65 L268.74,814.37 L274.71,814.84 L280.68,814.89 L286.66,814.16 L292.63,814.59 L298.61,814.60 L304.58,815.01 L310.55,814.98 L316.53,814.50 L322.50,813.82" fill="none" stroke="#ed1c24" stroke-width="2.2" stroke-dasharray="2.6 2.1"/>
<line x1="24.6" y1="830.09" x2="27.3" y2="830.09" stroke="#231f20" stroke-width="0.8" />
<line x1="323.3" y1="830.09" x2="320.6" y2="830.09" stroke="#231f20" stroke-width="0.8" />
<line x1="24.6" y1="827.28" x2="27.3" y2="827.28" stroke="#231f20" stroke-width="0.8" />
<line x1="323.3" y1="827.28" x2="320.6" y2="827.28" stroke="#231f20" stroke-width="0.8" />
<line x1="24.6" y1="824.47" x2="27.3" y2="824.47" stroke="#231f20" stroke-width="0.8" />
<line x1="323.3" y1="824.47" x2="320.6" y2="824.47" stroke="#231f20" stroke-width="0.8" />
<line x1="24.6" y1="821.66" x2="27.3" y2="821.66" stroke="#231f20" stroke-width="0.8" />
<line x1="323.3" y1="821.66" x2="320.6" y2="821.66" stroke="#231f20" stroke-width="0.8" />
<line x1="24.6" y1="818.85" x2="27.3" y2="818.85" stroke="#231f20" stroke-width="0.8" />
<line x1="323.3" y1="818.85" x2="320.6" y2="818.85" stroke="#231f20" stroke-width="0.8" />
<line x1="24.6" y1="816.04" x2="27.3" y2="816.04" stroke="#231f20" stroke-width="0.8" />
<line x1="323.3" y1="816.04" x2="320.6" y2="816.04" stroke="#231f20" stroke-width="0.8" />
<line x1="24.6" y1="813.23" x2="27.3" y2="813.23" stroke="#231f20" stroke-width="0.8" />
<line x1="323.3" y1="813.23" x2="320.6" y2="813.23" stroke="#231f20" stroke-width="0.8" />
<line x1="24.6" y1="810.42" x2="27.3" y2="810.42" stroke="#231f20" stroke-width="0.8" />
<line x1="323.3" y1="810.42" x2="320.6" y2="810.42" stroke="#231f20" stroke-width="0.8" />
<line x1="24.6" y1="807.61" x2="27.3" y2="807.61" stroke="#231f20" stroke-width="0.8" />
<line x1="323.3" y1="807.61" x2="320.6" y2="807.61" stroke="#231f20" stroke-width="0.8" />
<line x1="24.6" y1="801.99" x2="27.3" y2="801.99" stroke="#231f20" stroke-width="0.8" />
<line x1="323.3" y1="801.99" x2="320.6" y2="801.99" stroke="#231f20" stroke-width="0.8" />
<line x1="24.6" y1="799.18" x2="27.3" y2="799.18" stroke="#231f20" stroke-width="0.8" />
<line x1="323.3" y1="799.18" x2="320.6" y2="799.18" stroke="#231f20" stroke-width="0.8" />
<line x1="24.6" y1="796.37" x2="27.3" y2="796.37" stroke="#231f20" stroke-width="0.8" />
<line x1="323.3" y1="796.37" x2="320.6" y2="796.37" stroke="#231f20" stroke-width="0.8" />
<line x1="24.6" y1="793.56" x2="27.3" y2="793.56" stroke="#231f20" stroke-width="0.8" />
<line x1="323.3" y1="793.56" x2="320.6" y2="793.56" stroke="#231f20" stroke-width="0.8" />
<line x1="24.6" y1="790.75" x2="27.3" y2="790.75" stroke="#231f20" stroke-width="0.8" />
<line x1="323.3" y1="790.75" x2="320.6" y2="790.75" stroke="#231f20" stroke-width="0.8" />
<line x1="24.6" y1="787.94" x2="27.3" y2="787.94" stroke="#231f20" stroke-width="0.8" />
<line x1="323.3" y1="787.94" x2="320.6" y2="787.94" stroke="#231f20" stroke-width="0.8" />
<line x1="24.6" y1="785.13" x2="27.3" y2="785.13" stroke="#231f20" stroke-width="0.8" />
<line x1="323.3" y1="785.13" x2="320.6" y2="785.13" stroke="#231f20" stroke-width="0.8" />
<line x1="24.6" y1="782.32" x2="27.3" y2="782.32" stroke="#231f20" stroke-width="0.8" />
<line x1="323.3" y1="782.32" x2="320.6" y2="782.32" stroke="#231f20" stroke-width="0.8" />
<line x1="24.6" y1="779.51" x2="27.3" y2="779.51" stroke="#231f20" stroke-width="0.8" />
<line x1="323.3" y1="779.51" x2="320.6" y2="779.51" stroke="#231f20" stroke-width="0.8" />
<line x1="24.6" y1="773.89" x2="27.3" y2="773.89" stroke="#231f20" stroke-width="0.8" />
<line x1="323.3" y1="773.89" x2="320.6" y2="773.89" stroke="#231f20" stroke-width="0.8" />
<line x1="24.6" y1="771.08" x2="27.3" y2="771.08" stroke="#231f20" stroke-width="0.8" />
<line x1="323.3" y1="771.08" x2="320.6" y2="771.08" stroke="#231f20" stroke-width="0.8" />
<line x1="24.6" y1="768.27" x2="27.3" y2="768.27" stroke="#231f20" stroke-width="0.8" />
<line x1="323.3" y1="768.27" x2="320.6" y2="768.27" stroke="#231f20" stroke-width="0.8" />
<line x1="24.6" y1="765.46" x2="27.3" y2="765.46" stroke="#231f20" stroke-width="0.8" />
<line x1="323.3" y1="765.46" x2="320.6" y2="765.46" stroke="#231f20" stroke-width="0.8" />
<line x1="24.6" y1="762.65" x2="27.3" y2="762.65" stroke="#231f20" stroke-width="0.8" />
<line x1="323.3" y1="762.65" x2="320.6" y2="762.65" stroke="#231f20" stroke-width="0.8" />
<line x1="24.6" y1="759.84" x2="27.3" y2="759.84" stroke="#231f20" stroke-width="0.8" />
<line x1="323.3" y1="759.84" x2="320.6" y2="759.84" stroke="#231f20" stroke-width="0.8" />
<line x1="24.6" y1="757.03" x2="27.3" y2="757.03" stroke="#231f20" stroke-width="0.8" />
<line x1="323.3" y1="757.03" x2="320.6" y2="757.03" stroke="#231f20" stroke-width="0.8" />
<line x1="24.6" y1="754.22" x2="27.3" y2="754.22" stroke="#231f20" stroke-width="0.8" />
<line x1="323.3" y1="754.22" x2="320.6" y2="754.22" stroke="#231f20" stroke-width="0.8" />
<line x1="24.6" y1="751.41" x2="27.3" y2="751.41" stroke="#231f20" stroke-width="0.8" />
<line x1="323.3" y1="751.41" x2="320.6" y2="751.41" stroke="#231f20" stroke-width="0.8" />
<line x1="24.6" y1="745.79" x2="27.3" y2="745.79" stroke="#231f20" stroke-width="0.8" />
<line x1="323.3" y1="745.79" x2="320.6" y2="745.79" stroke="#231f20" stroke-width="0.8" />
<line x1="24.6" y1="742.98" x2="27.3" y2="742.98" stroke="#231f20" stroke-width="0.8" />
<line x1="323.3" y1="742.98" x2="320.6" y2="742.98" stroke="#231f20" stroke-width="0.8" />
<line x1="24.6" y1="740.17" x2="27.3" y2="740.17" stroke="#231f20" stroke-width="0.8" />
<line x1="323.3" y1="740.17" x2="320.6" y2="740.17" stroke="#231f20" stroke-width="0.8" />
<line x1="24.6" y1="737.36" x2="27.3" y2="737.36" stroke="#231f20" stroke-width="0.8" />
<line x1="323.3" y1="737.36" x2="320.6" y2="737.36" stroke="#231f20" stroke-width="0.8" />
<line x1="24.6" y1="734.55" x2="27.3" y2="734.55" stroke="#231f20" stroke-width="0.8" />
<line x1="323.3" y1="734.55" x2="320.6" y2="734.55" stroke="#231f20" stroke-width="0.8" />
<line x1="24.6" y1="731.74" x2="27.3" y2="731.74" stroke="#231f20" stroke-width="0.8" />
<line x1="323.3" y1="731.74" x2="320.6" y2="731.74" stroke="#231f20" stroke-width="0.8" />
<line x1="24.6" y1="728.93" x2="27.3" y2="728.93" stroke="#231f20" stroke-width="0.8" />
<line x1="323.3" y1="728.93" x2="320.6" y2="728.93" stroke="#231f20" stroke-width="0.8" />
<line x1="24.6" y1="726.12" x2="27.3" y2="726.12" stroke="#231f20" stroke-width="0.8" />
<line x1="323.3" y1="726.12" x2="320.6" y2="726.12" stroke="#231f20" stroke-width="0.8" />
<line x1="24.6" y1="723.31" x2="27.3" y2="723.31" stroke="#231f20" stroke-width="0.8" />
<line x1="323.3" y1="723.31" x2="320.6" y2="723.31" stroke="#231f20" stroke-width="0.8" />
<line x1="24.6" y1="717.69" x2="27.3" y2="717.69" stroke="#231f20" stroke-width="0.8" />
<line x1="323.3" y1="717.69" x2="320.6" y2="717.69" stroke="#231f20" stroke-width="0.8" />
<line x1="24.6" y1="714.88" x2="27.3" y2="714.88" stroke="#231f20" stroke-width="0.8" />
<line x1="323.3" y1="714.88" x2="320.6" y2="714.88" stroke="#231f20" stroke-width="0.8" />
<line x1="24.6" y1="712.07" x2="27.3" y2="712.07" stroke="#231f20" stroke-width="0.8" />
<line x1="323.3" y1="712.07" x2="320.6" y2="712.07" stroke="#231f20" stroke-width="0.8" />
<line x1="24.6" y1="709.26" x2="27.3" y2="709.26" stroke="#231f20" stroke-width="0.8" />
<line x1="323.3" y1="709.26" x2="320.6" y2="709.26" stroke="#231f20" stroke-width="0.8" />
<line x1="24.6" y1="706.45" x2="27.3" y2="706.45" stroke="#231f20" stroke-width="0.8" />
<line x1="323.3" y1="706.45" x2="320.6" y2="706.45" stroke="#231f20" stroke-width="0.8" />
<line x1="24.6" y1="703.64" x2="27.3" y2="703.64" stroke="#231f20" stroke-width="0.8" />
<line x1="323.3" y1="703.64" x2="320.6" y2="703.64" stroke="#231f20" stroke-width="0.8" />
<line x1="24.6" y1="700.83" x2="27.3" y2="700.83" stroke="#231f20" stroke-width="0.8" />
<line x1="323.3" y1="700.83" x2="320.6" y2="700.83" stroke="#231f20" stroke-width="0.8" />
<line x1="24.6" y1="804.8" x2="30.1" y2="804.8" stroke="#231f20" stroke-width="0.8" />
<line x1="323.3" y1="804.8" x2="317.8" y2="804.8" stroke="#231f20" stroke-width="0.8" />
<text x="22.6" y="808.74" font-size="11" text-anchor="end" >0</text>
<line x1="24.6" y1="776.7" x2="30.1" y2="776.7" stroke="#231f20" stroke-width="0.8" />
<line x1="323.3" y1="776.7" x2="317.8" y2="776.7" stroke="#231f20" stroke-width="0.8" />
<text x="22.6" y="780.64" font-size="11" text-anchor="end" >10</text>
<line x1="24.6" y1="748.6" x2="30.1" y2="748.6" stroke="#231f20" stroke-width="0.8" />
<line x1="323.3" y1="748.6" x2="317.8" y2="748.6" stroke="#231f20" stroke-width="0.8" />
<text x="22.6" y="752.54" font-size="11" text-anchor="end" >20</text>
<line x1="24.6" y1="720.5" x2="30.1" y2="720.5" stroke="#231f20" stroke-width="0.8" />
<line x1="323.3" y1="720.5" x2="317.8" y2="720.5" stroke="#231f20" stroke-width="0.8" />
<text x="22.6" y="724.44" font-size="11" text-anchor="end" >30</text>
<text x="37" y="843.7" font-size="9.5" text-anchor="middle" >2158</text>
<text x="113" y="843.7" font-size="9.5" text-anchor="middle" >2150</text>
<text x="171.3" y="843.7" font-size="9.5" text-anchor="middle" >2145</text>
<text x="212.3" y="843.7" font-size="9.5" text-anchor="middle" >2140</text>
<text x="268.7" y="843.7" font-size="9.5" text-anchor="middle" >2135</text>
<line x1="66.36" y1="833.3" x2="66.36" y2="831.9" stroke="#231f20" stroke-width="0.8" />
<line x1="78.02" y1="833.3" x2="78.02" y2="831.9" stroke="#231f20" stroke-width="0.8" />
<line x1="89.68" y1="833.3" x2="89.68" y2="831.9" stroke="#231f20" stroke-width="0.8" />
<line x1="101.34" y1="833.3" x2="101.34" y2="831.9" stroke="#231f20" stroke-width="0.8" />
<line x1="124.66" y1="833.3" x2="124.66" y2="831.9" stroke="#231f20" stroke-width="0.8" />
<line x1="136.32" y1="833.3" x2="136.32" y2="831.9" stroke="#231f20" stroke-width="0.8" />
<line x1="147.98" y1="833.3" x2="147.98" y2="831.9" stroke="#231f20" stroke-width="0.8" />
<line x1="159.64" y1="833.3" x2="159.64" y2="831.9" stroke="#231f20" stroke-width="0.8" />
<line x1="182.96" y1="833.3" x2="182.96" y2="831.9" stroke="#231f20" stroke-width="0.8" />
<line x1="206.28" y1="833.3" x2="206.28" y2="831.9" stroke="#231f20" stroke-width="0.8" />
<line x1="217.94" y1="833.3" x2="217.94" y2="831.9" stroke="#231f20" stroke-width="0.8" />
<line x1="241.26" y1="833.3" x2="241.26" y2="831.9" stroke="#231f20" stroke-width="0.8" />
<line x1="252.92" y1="833.3" x2="252.92" y2="831.9" stroke="#231f20" stroke-width="0.8" />
<line x1="264.58" y1="833.3" x2="264.58" y2="831.9" stroke="#231f20" stroke-width="0.8" />
<line x1="76.94" y1="833.3" x2="76.94" y2="831.9" stroke="#231f20" stroke-width="0.8" />
<line x1="88.22" y1="833.3" x2="88.22" y2="831.9" stroke="#231f20" stroke-width="0.8" />
<line x1="110.78" y1="833.3" x2="110.78" y2="831.9" stroke="#231f20" stroke-width="0.8" />
<line x1="122.06" y1="833.3" x2="122.06" y2="831.9" stroke="#231f20" stroke-width="0.8" />
<line x1="133.34" y1="833.3" x2="133.34" y2="831.9" stroke="#231f20" stroke-width="0.8" />
<line x1="144.62" y1="833.3" x2="144.62" y2="831.9" stroke="#231f20" stroke-width="0.8" />
<line x1="167.18" y1="833.3" x2="167.18" y2="831.9" stroke="#231f20" stroke-width="0.8" />
<line x1="178.46" y1="833.3" x2="178.46" y2="831.9" stroke="#231f20" stroke-width="0.8" />
<line x1="189.74" y1="833.3" x2="189.74" y2="831.9" stroke="#231f20" stroke-width="0.8" />
<line x1="223.58" y1="833.3" x2="223.58" y2="831.9" stroke="#231f20" stroke-width="0.8" />
<line x1="234.86" y1="833.3" x2="234.86" y2="831.9" stroke="#231f20" stroke-width="0.8" />
<line x1="246.14" y1="833.3" x2="246.14" y2="831.9" stroke="#231f20" stroke-width="0.8" />
<line x1="257.42" y1="833.3" x2="257.42" y2="831.9" stroke="#231f20" stroke-width="0.8" />
<line x1="279.98" y1="833.3" x2="279.98" y2="831.9" stroke="#231f20" stroke-width="0.8" />
<line x1="291.26" y1="833.3" x2="291.26" y2="831.9" stroke="#231f20" stroke-width="0.8" />
<line x1="302.54" y1="833.3" x2="302.54" y2="831.9" stroke="#231f20" stroke-width="0.8" />
<line x1="313.82" y1="833.3" x2="313.82" y2="831.9" stroke="#231f20" stroke-width="0.8" />
<line x1="113" y1="833.3" x2="113" y2="830.7" stroke="#231f20" stroke-width="0.8" />
<line x1="171.3" y1="833.3" x2="171.3" y2="830.7" stroke="#231f20" stroke-width="0.8" />
<line x1="229.6" y1="833.3" x2="229.6" y2="830.7" stroke="#231f20" stroke-width="0.8" />
<line x1="99.5" y1="833.3" x2="99.5" y2="830.7" stroke="#231f20" stroke-width="0.8" />
<line x1="155.9" y1="833.3" x2="155.9" y2="830.7" stroke="#231f20" stroke-width="0.8" />
<line x1="212.3" y1="833.3" x2="212.3" y2="830.7" stroke="#231f20" stroke-width="0.8" />
<line x1="268.7" y1="833.3" x2="268.7" y2="830.7" stroke="#231f20" stroke-width="0.8" />
<line x1="37" y1="697.7" x2="37" y2="702.2" stroke="#231f20" stroke-width="0.8" />
<line x1="270" y1="697.7" x2="270" y2="702.2" stroke="#231f20" stroke-width="0.8" />
<text x="36.2" y="695.5" font-size="9" text-anchor="middle" >4.634</text>
<text x="270" y="694.6" font-size="9" text-anchor="middle" >4.683</text>
<text x="130.4" y="692.1" font-size="11.87" text-anchor="start" textLength="87.6" lengthAdjust="spacingAndGlyphs" >Wavelength [μm]</text>
<text x="133.9" y="855.5" font-size="11.31" text-anchor="start" textLength="83.3" lengthAdjust="spacingAndGlyphs" >Frequency [cm<tspan font-size="6.79" dy="-4.3">-1</tspan><tspan dy="4.3">]</tspan></text>
<text transform="translate(7.9,767.75) rotate(-90)" x="0" y="0" font-size="10.2" text-anchor="middle" textLength="137.3" lengthAdjust="spacingAndGlyphs">Flux Density [10<tspan font-size="6.12" dy="-3.88">-18</tspan><tspan dy="3.88"> W m</tspan><tspan font-size="6.12" dy="-3.88">-2</tspan><tspan dy="3.88"> (cm</tspan><tspan font-size="6.12" dy="-3.88">-1</tspan><tspan dy="3.88">)</tspan><tspan font-size="6.12" dy="-3.88">-1</tspan><tspan dy="3.88">]</tspan></text>
<text x="36.08" y="720.4" font-size="17.88" text-anchor="start" textLength="8.43" lengthAdjust="spacingAndGlyphs" class="big">E</text>
<text x="160.3" y="716.7" font-size="17.46" text-anchor="start" textLength="24.3" lengthAdjust="spacingAndGlyphs" class="big">CO</text>
<text x="31.19" y="751" font-size="10.34" text-anchor="start" textLength="11.63" lengthAdjust="spacingAndGlyphs" >R3</text>
<text x="98.55" y="734.5" font-size="11.17" text-anchor="start" textLength="11.89" lengthAdjust="spacingAndGlyphs" >R1</text>
<text x="144.06" y="728" font-size="10.89" text-anchor="start" textLength="12.87" lengthAdjust="spacingAndGlyphs" >R0</text>
<text x="215.55" y="727.5" font-size="11.17" text-anchor="start" textLength="10.89" lengthAdjust="spacingAndGlyphs" >P1</text>
<text x="251.86" y="711.8" font-size="10.89" text-anchor="start" textLength="13.57" lengthAdjust="spacingAndGlyphs" >P2</text>
<text x="301.56" y="725.2" font-size="11.03" text-anchor="start" textLength="13.48" lengthAdjust="spacingAndGlyphs" >P3</text>
</svg>
</body></html>
